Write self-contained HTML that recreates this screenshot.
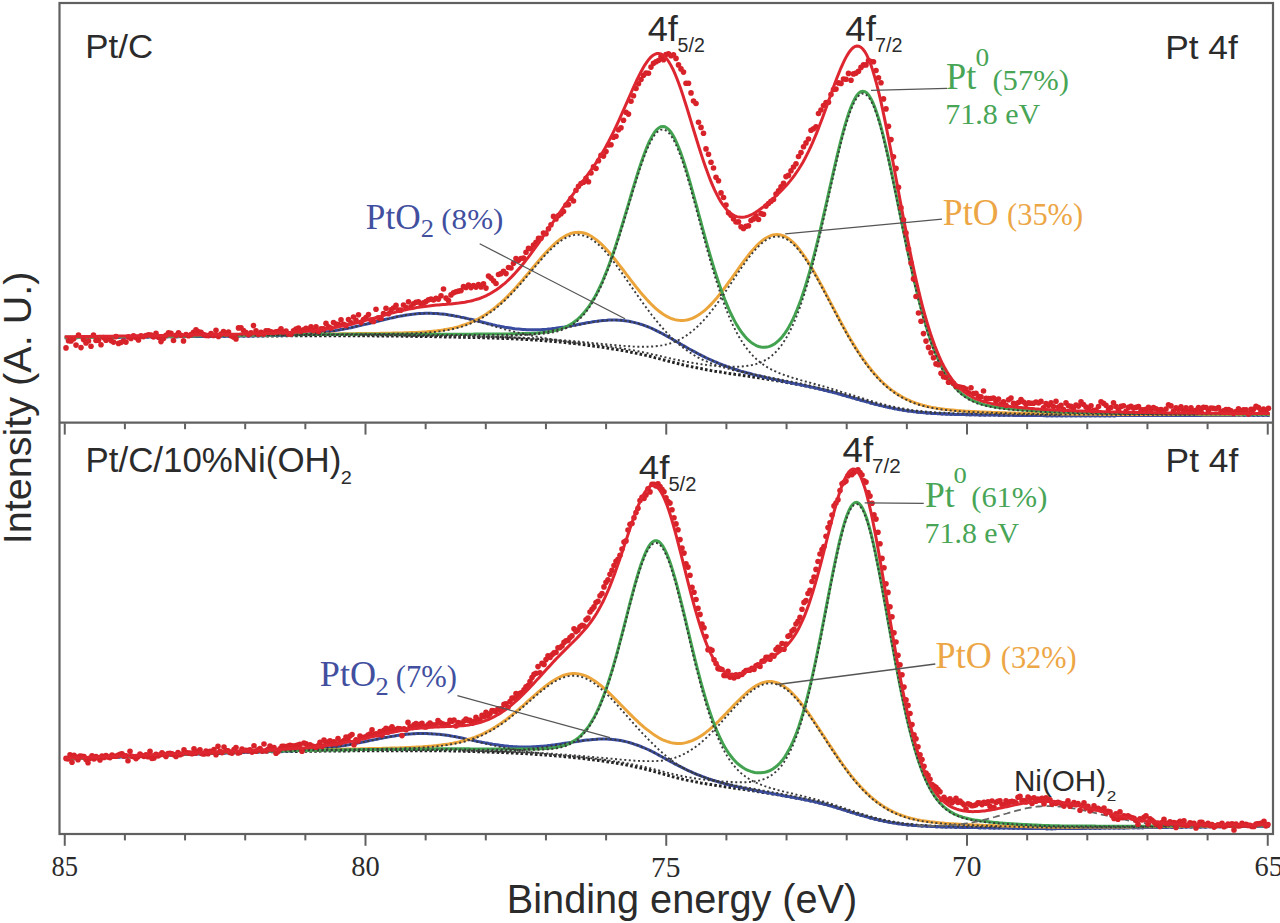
<!DOCTYPE html>
<html><head><meta charset="utf-8"><style>
html,body{margin:0;padding:0;background:#fff;overflow:hidden}
svg{display:block}
text{font-family:"Liberation Sans",sans-serif}
.s{font-family:"Liberation Serif",serif}
</style></head><body>
<svg width="1280" height="923" viewBox="0 0 1280 923">
<rect width="1280" height="923" fill="#fff"/>
<rect x="59.5" y="3" width="1213.5" height="831" fill="none" stroke="#606060" stroke-width="2.2"/>
<line x1="59.5" y1="422.7" x2="1273" y2="422.7" stroke="#606060" stroke-width="2.2"/>
<line x1="1267.75" y1="423.4" x2="1267.75" y2="434.6" stroke="#606060" stroke-width="2"/>
<line x1="1207.60" y1="423.4" x2="1207.60" y2="429.2" stroke="#606060" stroke-width="2"/>
<line x1="1147.45" y1="423.4" x2="1147.45" y2="429.2" stroke="#606060" stroke-width="2"/>
<line x1="1087.30" y1="423.4" x2="1087.30" y2="429.2" stroke="#606060" stroke-width="2"/>
<line x1="1027.15" y1="423.4" x2="1027.15" y2="429.2" stroke="#606060" stroke-width="2"/>
<line x1="967.00" y1="423.4" x2="967.00" y2="434.6" stroke="#606060" stroke-width="2"/>
<line x1="906.85" y1="423.4" x2="906.85" y2="429.2" stroke="#606060" stroke-width="2"/>
<line x1="846.70" y1="423.4" x2="846.70" y2="429.2" stroke="#606060" stroke-width="2"/>
<line x1="786.55" y1="423.4" x2="786.55" y2="429.2" stroke="#606060" stroke-width="2"/>
<line x1="726.40" y1="423.4" x2="726.40" y2="429.2" stroke="#606060" stroke-width="2"/>
<line x1="666.25" y1="423.4" x2="666.25" y2="434.6" stroke="#606060" stroke-width="2"/>
<line x1="606.10" y1="423.4" x2="606.10" y2="429.2" stroke="#606060" stroke-width="2"/>
<line x1="545.95" y1="423.4" x2="545.95" y2="429.2" stroke="#606060" stroke-width="2"/>
<line x1="485.80" y1="423.4" x2="485.80" y2="429.2" stroke="#606060" stroke-width="2"/>
<line x1="425.65" y1="423.4" x2="425.65" y2="429.2" stroke="#606060" stroke-width="2"/>
<line x1="365.50" y1="423.4" x2="365.50" y2="434.6" stroke="#606060" stroke-width="2"/>
<line x1="305.35" y1="423.4" x2="305.35" y2="429.2" stroke="#606060" stroke-width="2"/>
<line x1="245.20" y1="423.4" x2="245.20" y2="429.2" stroke="#606060" stroke-width="2"/>
<line x1="185.05" y1="423.4" x2="185.05" y2="429.2" stroke="#606060" stroke-width="2"/>
<line x1="124.90" y1="423.4" x2="124.90" y2="429.2" stroke="#606060" stroke-width="2"/>
<line x1="64.75" y1="423.4" x2="64.75" y2="434.6" stroke="#606060" stroke-width="2"/>
<line x1="1267.75" y1="834.6" x2="1267.75" y2="845.8" stroke="#606060" stroke-width="2"/>
<line x1="1207.60" y1="834.6" x2="1207.60" y2="840.4" stroke="#606060" stroke-width="2"/>
<line x1="1147.45" y1="834.6" x2="1147.45" y2="840.4" stroke="#606060" stroke-width="2"/>
<line x1="1087.30" y1="834.6" x2="1087.30" y2="840.4" stroke="#606060" stroke-width="2"/>
<line x1="1027.15" y1="834.6" x2="1027.15" y2="840.4" stroke="#606060" stroke-width="2"/>
<line x1="967.00" y1="834.6" x2="967.00" y2="845.8" stroke="#606060" stroke-width="2"/>
<line x1="906.85" y1="834.6" x2="906.85" y2="840.4" stroke="#606060" stroke-width="2"/>
<line x1="846.70" y1="834.6" x2="846.70" y2="840.4" stroke="#606060" stroke-width="2"/>
<line x1="786.55" y1="834.6" x2="786.55" y2="840.4" stroke="#606060" stroke-width="2"/>
<line x1="726.40" y1="834.6" x2="726.40" y2="840.4" stroke="#606060" stroke-width="2"/>
<line x1="666.25" y1="834.6" x2="666.25" y2="845.8" stroke="#606060" stroke-width="2"/>
<line x1="606.10" y1="834.6" x2="606.10" y2="840.4" stroke="#606060" stroke-width="2"/>
<line x1="545.95" y1="834.6" x2="545.95" y2="840.4" stroke="#606060" stroke-width="2"/>
<line x1="485.80" y1="834.6" x2="485.80" y2="840.4" stroke="#606060" stroke-width="2"/>
<line x1="425.65" y1="834.6" x2="425.65" y2="840.4" stroke="#606060" stroke-width="2"/>
<line x1="365.50" y1="834.6" x2="365.50" y2="845.8" stroke="#606060" stroke-width="2"/>
<line x1="305.35" y1="834.6" x2="305.35" y2="840.4" stroke="#606060" stroke-width="2"/>
<line x1="245.20" y1="834.6" x2="245.20" y2="840.4" stroke="#606060" stroke-width="2"/>
<line x1="185.05" y1="834.6" x2="185.05" y2="840.4" stroke="#606060" stroke-width="2"/>
<line x1="124.90" y1="834.6" x2="124.90" y2="840.4" stroke="#606060" stroke-width="2"/>
<line x1="64.75" y1="834.6" x2="64.75" y2="845.8" stroke="#606060" stroke-width="2"/>
<path d="M64.8,337.8 L66.8,337.8 L68.8,337.7 L70.8,337.7 L72.8,337.7 L74.8,337.7 L76.8,337.7 L78.8,337.6 L80.8,337.6 L82.8,337.6 L84.8,337.6 L86.8,337.6 L88.8,337.5 L90.8,337.5 L92.8,337.5 L94.8,337.5 L96.8,337.5 L98.8,337.4 L100.8,337.4 L102.8,337.4 L104.8,337.4 L106.8,337.4 L108.8,337.3 L110.8,337.3 L112.8,337.3 L114.8,337.3 L116.8,337.3 L118.8,337.2 L120.8,337.2 L122.8,337.2 L124.8,337.2 L126.8,337.2 L128.8,337.1 L130.8,337.1 L132.8,337.1 L134.8,337.1 L136.8,337.1 L138.8,337.0 L140.8,337.0 L142.8,337.0 L144.8,337.0 L146.8,337.0 L148.8,336.9 L150.8,336.9 L152.8,336.9 L154.8,336.9 L156.8,336.9 L158.8,336.8 L160.8,336.8 L162.8,336.8 L164.8,336.8 L166.8,336.8 L168.8,336.8 L170.8,336.7 L172.8,336.7 L174.8,336.7 L176.8,336.7 L178.8,336.7 L180.8,336.6 L182.8,336.6 L184.8,336.6 L186.8,336.6 L188.8,336.6 L190.8,336.5 L192.8,336.5 L194.8,336.5 L196.8,336.5 L198.8,336.5 L200.8,336.4 L202.8,336.4 L204.8,336.4 L206.8,336.4 L208.8,336.4 L210.8,336.4 L212.8,336.3 L214.8,336.3 L216.8,336.3 L218.8,336.3 L220.8,336.3 L222.8,336.2 L224.8,336.2 L226.8,336.2 L228.8,336.2 L230.8,336.2 L232.8,336.1 L234.8,336.1 L236.8,336.1 L238.8,336.1 L240.8,336.1 L242.8,336.1 L244.8,336.0 L246.8,336.0 L248.8,336.0 L250.8,336.0 L252.8,336.0 L254.8,336.0 L256.8,336.0 L258.8,335.9 L260.8,335.9 L262.8,335.9 L264.8,335.9 L266.8,335.9 L268.8,335.9 L270.8,335.9 L272.8,335.9 L274.8,335.9 L276.8,335.9 L278.8,335.9 L280.8,335.9 L282.8,335.8 L284.8,335.8 L286.8,335.8 L288.8,335.8 L290.8,335.8 L292.8,335.8 L294.8,335.8 L296.8,335.8 L298.8,335.8 L300.8,335.8 L302.8,335.8 L304.8,335.8 L306.8,335.8 L308.8,335.7 L310.8,335.7 L312.8,335.7 L314.8,335.7 L316.8,335.7 L318.8,335.7 L320.8,335.7 L322.8,335.7 L324.8,335.7 L326.8,335.7 L328.8,335.7 L330.8,335.7 L332.8,335.7 L334.8,335.7 L336.8,335.7 L338.8,335.7 L340.8,335.7 L342.8,335.7 L344.8,335.7 L346.8,335.7 L348.8,335.7 L350.8,335.7 L352.8,335.7 L354.8,335.7 L356.8,335.7 L358.8,335.8 L360.8,335.8 L362.8,335.8 L364.8,335.8 L366.8,335.8 L368.8,335.8 L370.8,335.8 L372.8,335.8 L374.8,335.9 L376.8,335.9 L378.8,335.9 L380.8,335.9 L382.8,335.9 L384.8,335.9 L386.8,336.0 L388.8,336.0 L390.8,336.0 L392.8,336.0 L394.8,336.0 L396.8,336.1 L398.8,336.1 L400.8,336.1 L402.8,336.2 L404.8,336.2 L406.8,336.2 L408.8,336.2 L410.8,336.3 L412.8,336.3 L414.8,336.3 L416.8,336.4 L418.8,336.4 L420.8,336.4 L422.8,336.5 L424.8,336.5 L426.8,336.5 L428.8,336.6 L430.8,336.6 L432.8,336.6 L434.8,336.7 L436.8,336.7 L438.8,336.8 L440.8,336.8 L442.8,336.8 L444.8,336.9 L446.8,336.9 L448.8,336.9 L450.8,337.0 L452.8,337.0 L454.8,337.1 L456.8,337.1 L458.8,337.2 L460.8,337.2 L462.8,337.2 L464.8,337.3 L466.8,337.3 L468.8,337.4 L470.8,337.4 L472.8,337.5 L474.8,337.5 L476.8,337.6 L478.8,337.6 L480.8,337.7 L482.8,337.7 L484.8,337.8 L486.8,337.8 L488.8,337.9 L490.8,338.0 L492.8,338.0 L494.8,338.1 L496.8,338.2 L498.8,338.2 L500.8,338.3 L502.8,338.4 L504.8,338.4 L506.8,338.5 L508.8,338.6 L510.8,338.7 L512.8,338.8 L514.8,338.9 L516.8,339.0 L518.8,339.1 L520.8,339.2 L522.8,339.3 L524.8,339.4 L526.8,339.5 L528.8,339.6 L530.8,339.7 L532.8,339.9 L534.8,340.0 L536.8,340.1 L538.8,340.3 L540.8,340.4 L542.8,340.6 L544.8,340.7 L546.8,340.9 L548.8,341.0 L550.8,341.2 L552.8,341.4 L554.8,341.6 L556.8,341.8 L558.8,341.9 L560.8,342.1 L562.8,342.3 L564.8,342.5 L566.8,342.8 L568.8,343.0 L570.8,343.2 L572.8,343.4 L574.8,343.6 L576.8,343.9 L578.8,344.1 L580.8,344.3 L582.8,344.6 L584.8,344.8 L586.8,345.1 L588.8,345.4 L590.8,345.6 L592.8,345.9 L594.8,346.2 L596.8,346.4 L598.8,346.7 L600.8,347.0 L602.8,347.3 L604.8,347.6 L606.8,347.9 L608.8,348.2 L610.8,348.6 L612.8,348.9 L614.8,349.2 L616.8,349.6 L618.8,349.9 L620.8,350.3 L622.8,350.6 L624.8,351.0 L626.8,351.4 L628.8,351.8 L630.8,352.2 L632.8,352.6 L634.8,353.0 L636.8,353.4 L638.8,353.8 L640.8,354.3 L642.8,354.7 L644.8,355.1 L646.8,355.6 L648.8,356.0 L650.8,356.5 L652.8,357.0 L654.8,357.6 L656.8,358.1 L658.8,358.6 L660.8,359.2 L662.8,359.7 L664.8,360.2 L666.8,360.7 L668.8,361.3 L670.8,361.8 L672.8,362.3 L674.8,362.8 L676.8,363.3 L678.8,363.8 L680.8,364.3 L682.8,364.8 L684.8,365.2 L686.8,365.7 L688.8,366.1 L690.8,366.6 L692.8,367.0 L694.8,367.4 L696.8,367.8 L698.8,368.3 L700.8,368.6 L702.8,369.0 L704.8,369.4 L706.8,369.8 L708.8,370.1 L710.8,370.5 L712.8,370.8 L714.8,371.2 L716.8,371.5 L718.8,371.8 L720.8,372.1 L722.8,372.4 L724.8,372.8 L726.8,373.1 L728.8,373.4 L730.8,373.7 L732.8,374.0 L734.8,374.3 L736.8,374.5 L738.8,374.8 L740.8,375.1 L742.8,375.4 L744.8,375.7 L746.8,376.0 L748.8,376.3 L750.8,376.6 L752.8,376.9 L754.8,377.2 L756.8,377.5 L758.8,377.8 L760.8,378.2 L762.8,378.5 L764.8,378.8 L766.8,379.1 L768.8,379.4 L770.8,379.7 L772.8,380.1 L774.8,380.4 L776.8,380.7 L778.8,381.1 L780.8,381.4 L782.8,381.8 L784.8,382.1 L786.8,382.5 L788.8,382.8 L790.8,383.2 L792.8,383.6 L794.8,383.9 L796.8,384.3 L798.8,384.7 L800.8,385.1 L802.8,385.5 L804.8,385.9 L806.8,386.3 L808.8,386.7 L810.8,387.1 L812.8,387.6 L814.8,388.0 L816.8,388.4 L818.8,388.9 L820.8,389.3 L822.8,389.8 L824.8,390.3 L826.8,390.8 L828.8,391.3 L830.8,391.8 L832.8,392.3 L834.8,392.8 L836.8,393.4 L838.8,393.9 L840.8,394.5 L842.8,395.0 L844.8,395.6 L846.8,396.2 L848.8,396.8 L850.8,397.4 L852.8,397.9 L854.8,398.5 L856.8,399.0 L858.8,399.6 L860.8,400.2 L862.8,400.8 L864.8,401.3 L866.8,401.9 L868.8,402.4 L870.8,403.0 L872.8,403.5 L874.8,404.1 L876.8,404.6 L878.8,405.1 L880.8,405.6 L882.8,406.1 L884.8,406.6 L886.8,407.0 L888.8,407.5 L890.8,407.9 L892.8,408.3 L894.8,408.7 L896.8,409.1 L898.8,409.5 L900.8,409.8 L902.8,410.1 L904.8,410.5 L906.8,410.8 L908.8,411.0 L910.8,411.3 L912.8,411.6 L914.8,411.8 L916.8,412.0 L918.8,412.2 L920.8,412.4 L922.8,412.6 L924.8,412.8 L926.8,413.0 L928.8,413.1 L930.8,413.3 L932.8,413.4 L934.8,413.5 L936.8,413.6 L938.8,413.7 L940.8,413.8 L942.8,413.9 L944.8,414.0 L946.8,414.1 L948.8,414.2 L950.8,414.2 L952.8,414.3 L954.8,414.4 L956.8,414.4 L958.8,414.5 L960.8,414.5 L962.8,414.6 L964.8,414.6 L966.8,414.7 L968.8,414.7 L970.8,414.7 L972.8,414.8 L974.8,414.8 L976.8,414.8 L978.8,414.9 L980.8,414.9 L982.8,414.9 L984.8,415.0 L986.8,415.0 L988.8,415.0 L990.8,415.1 L992.8,415.1 L994.8,415.1 L996.8,415.1 L998.8,415.2 L1000.8,415.2 L1002.8,415.2 L1004.8,415.2 L1006.8,415.3 L1008.8,415.3 L1010.8,415.3 L1012.8,415.3 L1014.8,415.4 L1016.8,415.4 L1018.8,415.4 L1020.8,415.4 L1022.8,415.4 L1024.8,415.5 L1026.8,415.5 L1028.8,415.5 L1030.8,415.5 L1032.8,415.5 L1034.8,415.6 L1036.8,415.6 L1038.8,415.6 L1040.8,415.6 L1042.8,415.6 L1044.8,415.7 L1046.8,415.7 L1048.8,415.7 L1050.8,415.7 L1052.8,415.7 L1054.8,415.7 L1056.8,415.7 L1058.8,415.7 L1060.8,415.7 L1062.8,415.7 L1064.8,415.7 L1066.8,415.7 L1068.8,415.7 L1070.8,415.7 L1072.8,415.7 L1074.8,415.7 L1076.8,415.7 L1078.8,415.7 L1080.8,415.7 L1082.8,415.7 L1084.8,415.7 L1086.8,415.7 L1088.8,415.7 L1090.8,415.7 L1092.8,415.7 L1094.8,415.7 L1096.8,415.7 L1098.8,415.7 L1100.8,415.7 L1102.8,415.7 L1104.8,415.7 L1106.8,415.7 L1108.8,415.7 L1110.8,415.7 L1112.8,415.7 L1114.8,415.7 L1116.8,415.6 L1118.8,415.6 L1120.8,415.6 L1122.8,415.6 L1124.8,415.6 L1126.8,415.6 L1128.8,415.6 L1130.8,415.6 L1132.8,415.6 L1134.8,415.6 L1136.8,415.6 L1138.8,415.6 L1140.8,415.6 L1142.8,415.6 L1144.8,415.6 L1146.8,415.6 L1148.8,415.6 L1150.8,415.6 L1152.8,415.6 L1154.8,415.6 L1156.8,415.6 L1158.8,415.6 L1160.8,415.6 L1162.8,415.6 L1164.8,415.5 L1166.8,415.5 L1168.8,415.5 L1170.8,415.5 L1172.8,415.5 L1174.8,415.5 L1176.8,415.5 L1178.8,415.5 L1180.8,415.5 L1182.8,415.5 L1184.8,415.5 L1186.8,415.5 L1188.8,415.5 L1190.8,415.5 L1192.8,415.5 L1194.8,415.5 L1196.8,415.5 L1198.8,415.5 L1200.8,415.5 L1202.8,415.4 L1204.8,415.4 L1206.8,415.4 L1208.8,415.4 L1210.8,415.4 L1212.8,415.4 L1214.8,415.4 L1216.8,415.4 L1218.8,415.4 L1220.8,415.4 L1222.8,415.4 L1224.8,415.4 L1226.8,415.4 L1228.8,415.4 L1230.8,415.4 L1232.8,415.4 L1234.8,415.4 L1236.8,415.3 L1238.8,415.3 L1240.8,415.3 L1242.8,415.3 L1244.8,415.3 L1246.8,415.3 L1248.8,415.3 L1250.8,415.3 L1252.8,415.3 L1254.8,415.3 L1256.8,415.3 L1258.8,415.3 L1260.8,415.3 L1262.8,415.3 L1264.8,415.3 L1266.8,415.2 L1268.8,415.2 L1269.8,415.2" stroke="#222" stroke-width="3" stroke-dasharray="2.6,2.2" fill="none"/>
<path d="M64.8,337.8 L66.8,337.8 L68.8,337.7 L70.8,337.7 L72.8,337.7 L74.8,337.7 L76.8,337.7 L78.8,337.6 L80.8,337.6 L82.8,337.6 L84.8,337.6 L86.8,337.6 L88.8,337.5 L90.8,337.5 L92.8,337.5 L94.8,337.5 L96.8,337.5 L98.8,337.4 L100.8,337.4 L102.8,337.4 L104.8,337.4 L106.8,337.4 L108.8,337.3 L110.8,337.3 L112.8,337.3 L114.8,337.3 L116.8,337.3 L118.8,337.2 L120.8,337.2 L122.8,337.2 L124.8,337.2 L126.8,337.2 L128.8,337.1 L130.8,337.1 L132.8,337.1 L134.8,337.1 L136.8,337.1 L138.8,337.0 L140.8,337.0 L142.8,337.0 L144.8,337.0 L146.8,337.0 L148.8,336.9 L150.8,336.9 L152.8,336.9 L154.8,336.9 L156.8,336.9 L158.8,336.8 L160.8,336.8 L162.8,336.8 L164.8,336.8 L166.8,336.8 L168.8,336.8 L170.8,336.7 L172.8,336.7 L174.8,336.7 L176.8,336.7 L178.8,336.7 L180.8,336.6 L182.8,336.6 L184.8,336.6 L186.8,336.6 L188.8,336.6 L190.8,336.5 L192.8,336.5 L194.8,336.5 L196.8,336.5 L198.8,336.5 L200.8,336.4 L202.8,336.4 L204.8,336.4 L206.8,336.4 L208.8,336.4 L210.8,336.3 L212.8,336.3 L214.8,336.3 L216.8,336.3 L218.8,336.3 L220.8,336.2 L222.8,336.2 L224.8,336.2 L226.8,336.2 L228.8,336.2 L230.8,336.1 L232.8,336.1 L234.8,336.1 L236.8,336.1 L238.8,336.0 L240.8,336.0 L242.8,336.0 L244.8,336.0 L246.8,335.9 L248.8,335.9 L250.8,335.9 L252.8,335.9 L254.8,335.8 L256.8,335.8 L258.8,335.8 L260.8,335.8 L262.8,335.7 L264.8,335.7 L266.8,335.6 L268.8,335.6 L270.8,335.6 L272.8,335.5 L274.8,335.5 L276.8,335.4 L278.8,335.4 L280.8,335.3 L282.8,335.2 L284.8,335.2 L286.8,335.1 L288.8,335.0 L290.8,334.9 L292.8,334.8 L294.8,334.7 L296.8,334.6 L298.8,334.5 L300.8,334.4 L302.8,334.2 L304.8,334.1 L306.8,333.9 L308.8,333.8 L310.8,333.6 L312.8,333.4 L314.8,333.2 L316.8,333.0 L318.8,332.8 L320.8,332.6 L322.8,332.4 L324.8,332.1 L326.8,331.8 L328.8,331.6 L330.8,331.3 L332.8,331.0 L334.8,330.7 L336.8,330.3 L338.8,330.0 L340.8,329.6 L342.8,329.3 L344.8,328.9 L346.8,328.5 L348.8,328.1 L350.8,327.7 L352.8,327.2 L354.8,326.8 L356.8,326.3 L358.8,325.9 L360.8,325.4 L362.8,324.9 L364.8,324.4 L366.8,324.0 L368.8,323.5 L370.8,323.0 L372.8,322.5 L374.8,322.0 L376.8,321.5 L378.8,321.0 L380.8,320.5 L382.8,320.0 L384.8,319.5 L386.8,319.0 L388.8,318.6 L390.8,318.1 L392.8,317.7 L394.8,317.2 L396.8,316.8 L398.8,316.4 L400.8,316.0 L402.8,315.7 L404.8,315.3 L406.8,315.0 L408.8,314.7 L410.8,314.4 L412.8,314.2 L414.8,314.0 L416.8,313.8 L418.8,313.6 L420.8,313.5 L422.8,313.4 L424.8,313.3 L426.8,313.3 L428.8,313.3 L430.8,313.3 L432.8,313.4 L434.8,313.5 L436.8,313.6 L438.8,313.7 L440.8,313.9 L442.8,314.1 L444.8,314.3 L446.8,314.6 L448.8,314.9 L450.8,315.2 L452.8,315.5 L454.8,315.9 L456.8,316.2 L458.8,316.6 L460.8,317.1 L462.8,317.5 L464.8,317.9 L466.8,318.4 L468.8,318.9 L470.8,319.3 L472.8,319.8 L474.8,320.3 L476.8,320.8 L478.8,321.3 L480.8,321.8 L482.8,322.3 L484.8,322.8 L486.8,323.3 L488.8,323.8 L490.8,324.2 L492.8,324.7 L494.8,325.1 L496.8,325.6 L498.8,326.0 L500.8,326.4 L502.8,326.8 L504.8,327.2 L506.8,327.5 L508.8,327.8 L510.8,328.1 L512.8,328.4 L514.8,328.7 L516.8,328.9 L518.8,329.1 L520.8,329.3 L522.8,329.5 L524.8,329.6 L526.8,329.7 L528.8,329.8 L530.8,329.8 L532.8,329.8 L534.8,329.8 L536.8,329.8 L538.8,329.7 L540.8,329.7 L542.8,329.5 L544.8,329.4 L546.8,329.3 L548.8,329.1 L550.8,328.9 L552.8,328.6 L554.8,328.4 L556.8,328.1 L558.8,327.8 L560.8,327.5 L562.8,327.2 L564.8,326.9 L566.8,326.5 L568.8,326.2 L570.8,325.8 L572.8,325.4 L574.8,325.1 L576.8,324.7 L578.8,324.3 L580.8,323.9 L582.8,323.6 L584.8,323.2 L586.8,322.8 L588.8,322.5 L590.8,322.2 L592.8,321.8 L594.8,321.5 L596.8,321.3 L598.8,321.0 L600.8,320.8 L602.8,320.6 L604.8,320.4 L606.8,320.3 L608.8,320.1 L610.8,320.1 L612.8,320.0 L614.8,320.0 L616.8,320.1 L618.8,320.2 L620.8,320.3 L622.8,320.5 L624.8,320.7 L626.8,321.0 L628.8,321.3 L630.8,321.7 L632.8,322.1 L634.8,322.6 L636.8,323.1 L638.8,323.6 L640.8,324.3 L642.8,324.9 L644.8,325.6 L646.8,326.3 L648.8,327.1 L650.8,328.0 L652.8,328.9 L654.8,329.8 L656.8,330.8 L658.8,331.8 L660.8,332.8 L662.8,333.9 L664.8,335.0 L666.8,336.1 L668.8,337.2 L670.8,338.3 L672.8,339.5 L674.8,340.6 L676.8,341.8 L678.8,342.9 L680.8,344.1 L682.8,345.2 L684.8,346.4 L686.8,347.5 L688.8,348.7 L690.8,349.8 L692.8,350.9 L694.8,351.9 L696.8,353.0 L698.8,354.1 L700.8,355.1 L702.8,356.1 L704.8,357.1 L706.8,358.1 L708.8,359.0 L710.8,359.9 L712.8,360.8 L714.8,361.7 L716.8,362.5 L718.8,363.4 L720.8,364.2 L722.8,365.0 L724.8,365.7 L726.8,366.5 L728.8,367.2 L730.8,367.9 L732.8,368.5 L734.8,369.2 L736.8,369.8 L738.8,370.5 L740.8,371.1 L742.8,371.6 L744.8,372.2 L746.8,372.8 L748.8,373.3 L750.8,373.8 L752.8,374.4 L754.8,374.9 L756.8,375.4 L758.8,375.8 L760.8,376.3 L762.8,376.8 L764.8,377.2 L766.8,377.7 L768.8,378.1 L770.8,378.6 L772.8,379.0 L774.8,379.4 L776.8,379.9 L778.8,380.3 L780.8,380.7 L782.8,381.1 L784.8,381.5 L786.8,382.0 L788.8,382.4 L790.8,382.8 L792.8,383.2 L794.8,383.6 L796.8,384.0 L798.8,384.4 L800.8,384.8 L802.8,385.3 L804.8,385.7 L806.8,386.1 L808.8,386.5 L810.8,387.0 L812.8,387.4 L814.8,387.9 L816.8,388.3 L818.8,388.8 L820.8,389.3 L822.8,389.7 L824.8,390.2 L826.8,390.7 L828.8,391.2 L830.8,391.8 L832.8,392.3 L834.8,392.8 L836.8,393.3 L838.8,393.9 L840.8,394.5 L842.8,395.0 L844.8,395.6 L846.8,396.2 L848.8,396.8 L850.8,397.3 L852.8,397.9 L854.8,398.5 L856.8,399.0 L858.8,399.6 L860.8,400.2 L862.8,400.8 L864.8,401.3 L866.8,401.9 L868.8,402.4 L870.8,403.0 L872.8,403.5 L874.8,404.1 L876.8,404.6 L878.8,405.1 L880.8,405.6 L882.8,406.1 L884.8,406.6 L886.8,407.0 L888.8,407.5 L890.8,407.9 L892.8,408.3 L894.8,408.7 L896.8,409.1 L898.8,409.5 L900.8,409.8 L902.8,410.1 L904.8,410.5 L906.8,410.8 L908.8,411.0 L910.8,411.3 L912.8,411.6 L914.8,411.8 L916.8,412.0 L918.8,412.2 L920.8,412.4 L922.8,412.6 L924.8,412.8 L926.8,413.0 L928.8,413.1 L930.8,413.3 L932.8,413.4 L934.8,413.5 L936.8,413.6 L938.8,413.7 L940.8,413.8 L942.8,413.9 L944.8,414.0 L946.8,414.1 L948.8,414.2 L950.8,414.2 L952.8,414.3 L954.8,414.4 L956.8,414.4 L958.8,414.5 L960.8,414.5 L962.8,414.6 L964.8,414.6 L966.8,414.7 L968.8,414.7 L970.8,414.7 L972.8,414.8 L974.8,414.8 L976.8,414.8 L978.8,414.9 L980.8,414.9 L982.8,414.9 L984.8,415.0 L986.8,415.0 L988.8,415.0 L990.8,415.1 L992.8,415.1 L994.8,415.1 L996.8,415.1 L998.8,415.2 L1000.8,415.2 L1002.8,415.2 L1004.8,415.2 L1006.8,415.3 L1008.8,415.3 L1010.8,415.3 L1012.8,415.3 L1014.8,415.4 L1016.8,415.4 L1018.8,415.4 L1020.8,415.4 L1022.8,415.4 L1024.8,415.5 L1026.8,415.5 L1028.8,415.5 L1030.8,415.5 L1032.8,415.5 L1034.8,415.6 L1036.8,415.6 L1038.8,415.6 L1040.8,415.6 L1042.8,415.6 L1044.8,415.7 L1046.8,415.7 L1048.8,415.7 L1050.8,415.7 L1052.8,415.7 L1054.8,415.7 L1056.8,415.7 L1058.8,415.7 L1060.8,415.7 L1062.8,415.7 L1064.8,415.7 L1066.8,415.7 L1068.8,415.7 L1070.8,415.7 L1072.8,415.7 L1074.8,415.7 L1076.8,415.7 L1078.8,415.7 L1080.8,415.7 L1082.8,415.7 L1084.8,415.7 L1086.8,415.7 L1088.8,415.7 L1090.8,415.7 L1092.8,415.7 L1094.8,415.7 L1096.8,415.7 L1098.8,415.7 L1100.8,415.7 L1102.8,415.7 L1104.8,415.7 L1106.8,415.7 L1108.8,415.7 L1110.8,415.7 L1112.8,415.7 L1114.8,415.7 L1116.8,415.6 L1118.8,415.6 L1120.8,415.6 L1122.8,415.6 L1124.8,415.6 L1126.8,415.6 L1128.8,415.6 L1130.8,415.6 L1132.8,415.6 L1134.8,415.6 L1136.8,415.6 L1138.8,415.6 L1140.8,415.6 L1142.8,415.6 L1144.8,415.6 L1146.8,415.6 L1148.8,415.6 L1150.8,415.6 L1152.8,415.6 L1154.8,415.6 L1156.8,415.6 L1158.8,415.6 L1160.8,415.6 L1162.8,415.6 L1164.8,415.5 L1166.8,415.5 L1168.8,415.5 L1170.8,415.5 L1172.8,415.5 L1174.8,415.5 L1176.8,415.5 L1178.8,415.5 L1180.8,415.5 L1182.8,415.5 L1184.8,415.5 L1186.8,415.5 L1188.8,415.5 L1190.8,415.5 L1192.8,415.5 L1194.8,415.5 L1196.8,415.5 L1198.8,415.5 L1200.8,415.5 L1202.8,415.4 L1204.8,415.4 L1206.8,415.4 L1208.8,415.4 L1210.8,415.4 L1212.8,415.4 L1214.8,415.4 L1216.8,415.4 L1218.8,415.4 L1220.8,415.4 L1222.8,415.4 L1224.8,415.4 L1226.8,415.4 L1228.8,415.4 L1230.8,415.4 L1232.8,415.4 L1234.8,415.4 L1236.8,415.3 L1238.8,415.3 L1240.8,415.3 L1242.8,415.3 L1244.8,415.3 L1246.8,415.3 L1248.8,415.3 L1250.8,415.3 L1252.8,415.3 L1254.8,415.3 L1256.8,415.3 L1258.8,415.3 L1260.8,415.3 L1262.8,415.3 L1264.8,415.3 L1266.8,415.2 L1268.8,415.2 L1269.8,415.2" stroke="#3a4ca0" stroke-width="3" fill="none"/>
<path d="M64.8,337.3 L66.8,337.2 L68.8,337.2 L70.8,337.2 L72.8,337.2 L74.8,337.1 L76.8,337.1 L78.8,337.1 L80.8,337.1 L82.8,337.1 L84.8,337.0 L86.8,337.0 L88.8,337.0 L90.8,337.0 L92.8,336.9 L94.8,336.9 L96.8,336.9 L98.8,336.9 L100.8,336.8 L102.8,336.8 L104.8,336.8 L106.8,336.8 L108.8,336.7 L110.8,336.7 L112.8,336.7 L114.8,336.7 L116.8,336.6 L118.8,336.6 L120.8,336.6 L122.8,336.6 L124.8,336.5 L126.8,336.5 L128.8,336.5 L130.8,336.5 L132.8,336.4 L134.8,336.4 L136.8,336.4 L138.8,336.4 L140.8,336.4 L142.8,336.3 L144.8,336.3 L146.8,336.3 L148.8,336.3 L150.8,336.2 L152.8,336.2 L154.8,336.2 L156.8,336.2 L158.8,336.1 L160.8,336.1 L162.8,336.1 L164.8,336.1 L166.8,336.0 L168.8,336.0 L170.8,336.0 L172.8,335.9 L174.8,335.9 L176.8,335.9 L178.8,335.9 L180.8,335.8 L182.8,335.8 L184.8,335.8 L186.8,335.8 L188.8,335.7 L190.8,335.7 L192.8,335.7 L194.8,335.7 L196.8,335.6 L198.8,335.6 L200.8,335.6 L202.8,335.6 L204.8,335.5 L206.8,335.5 L208.8,335.5 L210.8,335.4 L212.8,335.4 L214.8,335.4 L216.8,335.4 L218.8,335.3 L220.8,335.3 L222.8,335.3 L224.8,335.3 L226.8,335.2 L228.8,335.2 L230.8,335.2 L232.8,335.1 L234.8,335.1 L236.8,335.1 L238.8,335.1 L240.8,335.0 L242.8,335.0 L244.8,335.0 L246.8,334.9 L248.8,334.9 L250.8,334.9 L252.8,334.9 L254.8,334.8 L256.8,334.8 L258.8,334.8 L260.8,334.8 L262.8,334.8 L264.8,334.7 L266.8,334.7 L268.8,334.7 L270.8,334.7 L272.8,334.6 L274.8,334.6 L276.8,334.6 L278.8,334.6 L280.8,334.6 L282.8,334.5 L284.8,334.5 L286.8,334.5 L288.8,334.5 L290.8,334.4 L292.8,334.4 L294.8,334.4 L296.8,334.4 L298.8,334.3 L300.8,334.3 L302.8,334.3 L304.8,334.3 L306.8,334.3 L308.8,334.2 L310.8,334.2 L312.8,334.2 L314.8,334.2 L316.8,334.1 L318.8,334.1 L320.8,334.1 L322.8,334.1 L324.8,334.0 L326.8,334.0 L328.8,334.0 L330.8,334.0 L332.8,333.9 L334.8,333.9 L336.8,333.9 L338.8,333.9 L340.8,333.8 L342.8,333.8 L344.8,333.8 L346.8,333.8 L348.8,333.7 L350.8,333.7 L352.8,333.7 L354.8,333.7 L356.8,333.6 L358.8,333.6 L360.8,333.6 L362.8,333.6 L364.8,333.5 L366.8,333.5 L368.8,333.5 L370.8,333.5 L372.8,333.4 L374.8,333.4 L376.8,333.4 L378.8,333.4 L380.8,333.3 L382.8,333.3 L384.8,333.3 L386.8,333.2 L388.8,333.2 L390.8,333.2 L392.8,333.1 L394.8,333.1 L396.8,333.0 L398.8,333.0 L400.8,333.0 L402.8,332.9 L404.8,332.8 L406.8,332.8 L408.8,332.7 L410.8,332.6 L412.8,332.6 L414.8,332.5 L416.8,332.4 L418.8,332.3 L420.8,332.2 L422.8,332.0 L424.8,331.9 L426.8,331.8 L428.8,331.6 L430.8,331.4 L432.8,331.2 L434.8,331.0 L436.8,330.8 L438.8,330.5 L440.8,330.3 L442.8,330.0 L444.8,329.6 L446.8,329.3 L448.8,328.9 L450.8,328.5 L452.8,328.1 L454.8,327.6 L456.8,327.1 L458.8,326.6 L460.8,326.0 L462.8,325.3 L464.8,324.7 L466.8,323.9 L468.8,323.2 L470.8,322.3 L472.8,321.5 L474.8,320.5 L476.8,319.5 L478.8,318.5 L480.8,317.4 L482.8,316.2 L484.8,315.0 L486.8,313.7 L488.8,312.3 L490.8,310.9 L492.8,309.4 L494.8,307.8 L496.8,306.2 L498.8,304.5 L500.8,302.8 L502.8,300.9 L504.8,299.1 L506.8,297.1 L508.8,295.1 L510.8,293.0 L512.8,290.9 L514.8,288.8 L516.8,286.6 L518.8,284.3 L520.8,282.0 L522.8,279.7 L524.8,277.3 L526.8,275.0 L528.8,272.6 L530.8,270.2 L532.8,267.8 L534.8,265.4 L536.8,263.0 L538.8,260.7 L540.8,258.3 L542.8,256.1 L544.8,253.8 L546.8,251.6 L548.8,249.5 L550.8,247.5 L552.8,245.6 L554.8,243.7 L556.8,242.0 L558.8,240.3 L560.8,238.8 L562.8,237.5 L564.8,236.3 L566.8,235.2 L568.8,234.3 L570.8,233.5 L572.8,233.0 L574.8,232.6 L576.8,232.4 L578.8,232.3 L580.8,232.5 L582.8,232.8 L584.8,233.3 L586.8,234.0 L588.8,234.9 L590.8,236.0 L592.8,237.2 L594.8,238.6 L596.8,240.1 L598.8,241.8 L600.8,243.6 L602.8,245.5 L604.8,247.6 L606.8,249.7 L608.8,252.0 L610.8,254.3 L612.8,256.7 L614.8,259.2 L616.8,261.7 L618.8,264.3 L620.8,266.9 L622.8,269.5 L624.8,272.2 L626.8,274.8 L628.8,277.4 L630.8,280.1 L632.8,282.7 L634.8,285.2 L636.8,287.8 L638.8,290.2 L640.8,292.7 L642.8,295.0 L644.8,297.3 L646.8,299.5 L648.8,301.6 L650.8,303.7 L652.8,305.7 L654.8,307.6 L656.8,309.3 L658.8,311.0 L660.8,312.5 L662.8,314.0 L664.8,315.2 L666.8,316.4 L668.8,317.4 L670.8,318.3 L672.8,319.0 L674.8,319.6 L676.8,320.0 L678.8,320.3 L680.8,320.5 L682.8,320.5 L684.8,320.3 L686.8,320.0 L688.8,319.5 L690.8,318.8 L692.8,318.1 L694.8,317.1 L696.8,316.0 L698.8,314.8 L700.8,313.4 L702.8,311.9 L704.8,310.3 L706.8,308.5 L708.8,306.6 L710.8,304.6 L712.8,302.5 L714.8,300.2 L716.8,297.9 L718.8,295.5 L720.8,292.9 L722.8,290.4 L724.8,287.7 L726.8,285.0 L728.8,282.2 L730.8,279.5 L732.8,276.6 L734.8,273.8 L736.8,271.0 L738.8,268.2 L740.8,265.4 L742.8,262.6 L744.8,259.9 L746.8,257.3 L748.8,254.7 L750.8,252.3 L752.8,249.9 L754.8,247.7 L756.8,245.6 L758.8,243.6 L760.8,241.8 L762.8,240.2 L764.8,238.7 L766.8,237.5 L768.8,236.5 L770.8,235.6 L772.8,235.0 L774.8,234.7 L776.8,234.5 L778.8,234.7 L780.8,235.0 L782.8,235.6 L784.8,236.4 L786.8,237.5 L788.8,238.8 L790.8,240.4 L792.8,242.1 L794.8,244.1 L796.8,246.3 L798.8,248.7 L800.8,251.2 L802.8,254.0 L804.8,256.8 L806.8,259.9 L808.8,263.0 L810.8,266.3 L812.8,269.7 L814.8,273.2 L816.8,276.8 L818.8,280.4 L820.8,284.1 L822.8,287.8 L824.8,291.6 L826.8,295.4 L828.8,299.3 L830.8,303.1 L832.8,306.9 L834.8,310.7 L836.8,314.5 L838.8,318.3 L840.8,322.0 L842.8,325.7 L844.8,329.3 L846.8,332.9 L848.8,336.4 L850.8,339.8 L852.8,343.1 L854.8,346.4 L856.8,349.6 L858.8,352.7 L860.8,355.7 L862.8,358.6 L864.8,361.4 L866.8,364.1 L868.8,366.8 L870.8,369.3 L872.8,371.7 L874.8,374.1 L876.8,376.3 L878.8,378.5 L880.8,380.5 L882.8,382.5 L884.8,384.3 L886.8,386.1 L888.8,387.8 L890.8,389.4 L892.8,390.9 L894.8,392.3 L896.8,393.7 L898.8,394.9 L900.8,396.1 L902.8,397.2 L904.8,398.3 L906.8,399.3 L908.8,400.2 L910.8,401.1 L912.8,401.9 L914.8,402.6 L916.8,403.3 L918.8,404.0 L920.8,404.6 L922.8,405.2 L924.8,405.7 L926.8,406.2 L928.8,406.6 L930.8,407.1 L932.8,407.5 L934.8,407.8 L936.8,408.2 L938.8,408.5 L940.8,408.8 L942.8,409.0 L944.8,409.3 L946.8,409.5 L948.8,409.7 L950.8,410.0 L952.8,410.1 L954.8,410.3 L956.8,410.5 L958.8,410.7 L960.8,410.8 L962.8,410.9 L964.8,411.1 L966.8,411.2 L968.8,411.3 L970.8,411.4 L972.8,411.5 L974.8,411.6 L976.8,411.7 L978.8,411.8 L980.8,411.9 L982.8,412.0 L984.8,412.1 L986.8,412.2 L988.8,412.3 L990.8,412.3 L992.8,412.4 L994.8,412.5 L996.8,412.6 L998.8,412.6 L1000.8,412.7 L1002.8,412.8 L1004.8,412.8 L1006.8,412.9 L1008.8,412.9 L1010.8,413.0 L1012.8,413.1 L1014.8,413.1 L1016.8,413.2 L1018.8,413.2 L1020.8,413.3 L1022.8,413.3 L1024.8,413.4 L1026.8,413.4 L1028.8,413.5 L1030.8,413.5 L1032.8,413.6 L1034.8,413.6 L1036.8,413.7 L1038.8,413.7 L1040.8,413.8 L1042.8,413.8 L1044.8,413.8 L1046.8,413.9 L1048.8,413.9 L1050.8,414.0 L1052.8,414.0 L1054.8,414.0 L1056.8,414.0 L1058.8,414.0 L1060.8,414.1 L1062.8,414.1 L1064.8,414.1 L1066.8,414.1 L1068.8,414.1 L1070.8,414.2 L1072.8,414.2 L1074.8,414.2 L1076.8,414.2 L1078.8,414.2 L1080.8,414.2 L1082.8,414.3 L1084.8,414.3 L1086.8,414.3 L1088.8,414.3 L1090.8,414.3 L1092.8,414.3 L1094.8,414.3 L1096.8,414.3 L1098.8,414.4 L1100.8,414.4 L1102.8,414.4 L1104.8,414.4 L1106.8,414.4 L1108.8,414.4 L1110.8,414.4 L1112.8,414.4 L1114.8,414.4 L1116.8,414.5 L1118.8,414.5 L1120.8,414.5 L1122.8,414.5 L1124.8,414.5 L1126.8,414.5 L1128.8,414.5 L1130.8,414.5 L1132.8,414.5 L1134.8,414.5 L1136.8,414.5 L1138.8,414.5 L1140.8,414.5 L1142.8,414.6 L1144.8,414.6 L1146.8,414.6 L1148.8,414.6 L1150.8,414.6 L1152.8,414.6 L1154.8,414.6 L1156.8,414.6 L1158.8,414.6 L1160.8,414.6 L1162.8,414.6 L1164.8,414.6 L1166.8,414.6 L1168.8,414.6 L1170.8,414.6 L1172.8,414.6 L1174.8,414.6 L1176.8,414.6 L1178.8,414.6 L1180.8,414.6 L1182.8,414.6 L1184.8,414.6 L1186.8,414.6 L1188.8,414.6 L1190.8,414.6 L1192.8,414.6 L1194.8,414.6 L1196.8,414.6 L1198.8,414.6 L1200.8,414.6 L1202.8,414.7 L1204.8,414.7 L1206.8,414.7 L1208.8,414.7 L1210.8,414.7 L1212.8,414.7 L1214.8,414.7 L1216.8,414.7 L1218.8,414.7 L1220.8,414.7 L1222.8,414.7 L1224.8,414.7 L1226.8,414.7 L1228.8,414.7 L1230.8,414.7 L1232.8,414.7 L1234.8,414.7 L1236.8,414.7 L1238.8,414.7 L1240.8,414.7 L1242.8,414.7 L1244.8,414.6 L1246.8,414.6 L1248.8,414.6 L1250.8,414.6 L1252.8,414.6 L1254.8,414.6 L1256.8,414.6 L1258.8,414.6 L1260.8,414.6 L1262.8,414.6 L1264.8,414.6 L1266.8,414.6 L1268.8,414.6 L1269.8,414.6" stroke="#eca53a" stroke-width="3" fill="none"/>
<path d="M64.8,337.3 L66.8,337.3 L68.8,337.3 L70.8,337.2 L72.8,337.2 L74.8,337.2 L76.8,337.2 L78.8,337.1 L80.8,337.1 L82.8,337.1 L84.8,337.1 L86.8,337.1 L88.8,337.0 L90.8,337.0 L92.8,337.0 L94.8,337.0 L96.8,336.9 L98.8,336.9 L100.8,336.9 L102.8,336.9 L104.8,336.8 L106.8,336.8 L108.8,336.8 L110.8,336.8 L112.8,336.8 L114.8,336.7 L116.8,336.7 L118.8,336.7 L120.8,336.7 L122.8,336.6 L124.8,336.6 L126.8,336.6 L128.8,336.6 L130.8,336.5 L132.8,336.5 L134.8,336.5 L136.8,336.5 L138.8,336.5 L140.8,336.4 L142.8,336.4 L144.8,336.4 L146.8,336.4 L148.8,336.3 L150.8,336.3 L152.8,336.3 L154.8,336.3 L156.8,336.2 L158.8,336.2 L160.8,336.2 L162.8,336.2 L164.8,336.1 L166.8,336.1 L168.8,336.1 L170.8,336.1 L172.8,336.1 L174.8,336.0 L176.8,336.0 L178.8,336.0 L180.8,336.0 L182.8,335.9 L184.8,335.9 L186.8,335.9 L188.8,335.9 L190.8,335.8 L192.8,335.8 L194.8,335.8 L196.8,335.8 L198.8,335.7 L200.8,335.7 L202.8,335.7 L204.8,335.7 L206.8,335.6 L208.8,335.6 L210.8,335.6 L212.8,335.6 L214.8,335.5 L216.8,335.5 L218.8,335.5 L220.8,335.5 L222.8,335.4 L224.8,335.4 L226.8,335.4 L228.8,335.4 L230.8,335.3 L232.8,335.3 L234.8,335.3 L236.8,335.3 L238.8,335.2 L240.8,335.2 L242.8,335.2 L244.8,335.2 L246.8,335.1 L248.8,335.1 L250.8,335.1 L252.8,335.1 L254.8,335.1 L256.8,335.0 L258.8,335.0 L260.8,335.0 L262.8,335.0 L264.8,335.0 L266.8,335.0 L268.8,334.9 L270.8,334.9 L272.8,334.9 L274.8,334.9 L276.8,334.9 L278.8,334.8 L280.8,334.8 L282.8,334.8 L284.8,334.8 L286.8,334.8 L288.8,334.8 L290.8,334.7 L292.8,334.7 L294.8,334.7 L296.8,334.7 L298.8,334.7 L300.8,334.7 L302.8,334.6 L304.8,334.6 L306.8,334.6 L308.8,334.6 L310.8,334.6 L312.8,334.6 L314.8,334.5 L316.8,334.5 L318.8,334.5 L320.8,334.5 L322.8,334.5 L324.8,334.5 L326.8,334.4 L328.8,334.4 L330.8,334.4 L332.8,334.4 L334.8,334.4 L336.8,334.4 L338.8,334.4 L340.8,334.3 L342.8,334.3 L344.8,334.3 L346.8,334.3 L348.8,334.3 L350.8,334.3 L352.8,334.3 L354.8,334.3 L356.8,334.3 L358.8,334.2 L360.8,334.2 L362.8,334.2 L364.8,334.2 L366.8,334.2 L368.8,334.2 L370.8,334.2 L372.8,334.2 L374.8,334.2 L376.8,334.2 L378.8,334.2 L380.8,334.2 L382.8,334.2 L384.8,334.2 L386.8,334.2 L388.8,334.2 L390.8,334.2 L392.8,334.2 L394.8,334.2 L396.8,334.2 L398.8,334.2 L400.8,334.2 L402.8,334.2 L404.8,334.2 L406.8,334.2 L408.8,334.2 L410.8,334.2 L412.8,334.2 L414.8,334.2 L416.8,334.2 L418.8,334.2 L420.8,334.2 L422.8,334.2 L424.8,334.2 L426.8,334.2 L428.8,334.2 L430.8,334.2 L432.8,334.2 L434.8,334.2 L436.8,334.2 L438.8,334.2 L440.8,334.2 L442.8,334.2 L444.8,334.2 L446.8,334.2 L448.8,334.2 L450.8,334.2 L452.8,334.2 L454.8,334.2 L456.8,334.2 L458.8,334.2 L460.8,334.2 L462.8,334.2 L464.8,334.2 L466.8,334.2 L468.8,334.2 L470.8,334.2 L472.8,334.2 L474.8,334.1 L476.8,334.1 L478.8,334.1 L480.8,334.1 L482.8,334.1 L484.8,334.1 L486.8,334.1 L488.8,334.1 L490.8,334.0 L492.8,334.0 L494.8,334.0 L496.8,334.0 L498.8,334.0 L500.8,334.0 L502.8,333.9 L504.8,333.9 L506.8,333.9 L508.8,333.9 L510.8,333.8 L512.8,333.8 L514.8,333.8 L516.8,333.8 L518.8,333.7 L520.8,333.7 L522.8,333.6 L524.8,333.6 L526.8,333.5 L528.8,333.5 L530.8,333.4 L532.8,333.3 L534.8,333.2 L536.8,333.1 L538.8,332.9 L540.8,332.7 L542.8,332.6 L544.8,332.3 L546.8,332.1 L548.8,331.8 L550.8,331.5 L552.8,331.1 L554.8,330.6 L556.8,330.1 L558.8,329.6 L560.8,328.9 L562.8,328.2 L564.8,327.4 L566.8,326.5 L568.8,325.4 L570.8,324.3 L572.8,323.0 L574.8,321.5 L576.8,320.0 L578.8,318.2 L580.8,316.3 L582.8,314.1 L584.8,311.8 L586.8,309.3 L588.8,306.5 L590.8,303.5 L592.8,300.3 L594.8,296.9 L596.8,293.2 L598.8,289.2 L600.8,285.0 L602.8,280.5 L604.8,275.7 L606.8,270.7 L608.8,265.5 L610.8,260.0 L612.8,254.3 L614.8,248.4 L616.8,242.3 L618.8,236.0 L620.8,229.5 L622.8,223.0 L624.8,216.3 L626.8,209.6 L628.8,202.8 L630.8,196.0 L632.8,189.3 L634.8,182.7 L636.8,176.2 L638.8,169.8 L640.8,163.8 L642.8,158.0 L644.8,152.5 L646.8,147.4 L648.8,142.7 L650.8,138.6 L652.8,135.0 L654.8,132.0 L656.8,129.6 L658.8,127.9 L660.8,126.8 L662.8,126.5 L664.8,126.8 L666.8,127.9 L668.8,129.6 L670.8,132.0 L672.8,135.1 L674.8,138.8 L676.8,143.0 L678.8,147.8 L680.8,153.1 L682.8,158.8 L684.8,165.0 L686.8,171.4 L688.8,178.2 L690.8,185.1 L692.8,192.3 L694.8,199.6 L696.8,206.9 L698.8,214.3 L700.8,221.7 L702.8,229.1 L704.8,236.4 L706.8,243.6 L708.8,250.6 L710.8,257.5 L712.8,264.2 L714.8,270.7 L716.8,277.0 L718.8,283.0 L720.8,288.8 L722.8,294.2 L724.8,299.5 L726.8,304.4 L728.8,309.1 L730.8,313.5 L732.8,317.5 L734.8,321.4 L736.8,324.9 L738.8,328.1 L740.8,331.1 L742.8,333.8 L744.8,336.3 L746.8,338.5 L748.8,340.4 L750.8,342.1 L752.8,343.6 L754.8,344.8 L756.8,345.8 L758.8,346.5 L760.8,347.0 L762.8,347.3 L764.8,347.3 L766.8,347.1 L768.8,346.6 L770.8,345.9 L772.8,344.9 L774.8,343.7 L776.8,342.2 L778.8,340.4 L780.8,338.4 L782.8,336.0 L784.8,333.3 L786.8,330.4 L788.8,327.0 L790.8,323.4 L792.8,319.4 L794.8,315.1 L796.8,310.4 L798.8,305.3 L800.8,299.9 L802.8,294.1 L804.8,288.0 L806.8,281.5 L808.8,274.7 L810.8,267.6 L812.8,260.1 L814.8,252.3 L816.8,244.3 L818.8,236.1 L820.8,227.6 L822.8,218.9 L824.8,210.1 L826.8,201.3 L828.8,192.3 L830.8,183.4 L832.8,174.5 L834.8,165.8 L836.8,157.2 L838.8,148.9 L840.8,140.8 L842.8,133.2 L844.8,125.9 L846.8,119.2 L848.8,113.1 L850.8,107.6 L852.8,102.8 L854.8,98.7 L856.8,95.5 L858.8,93.1 L860.8,91.7 L862.8,91.2 L864.8,91.6 L866.8,92.9 L868.8,95.2 L870.8,98.4 L872.8,102.4 L874.8,107.3 L876.8,112.9 L878.8,119.3 L880.8,126.3 L882.8,134.0 L884.8,142.1 L886.8,150.7 L888.8,159.7 L890.8,168.9 L892.8,178.5 L894.8,188.2 L896.8,198.0 L898.8,207.9 L900.8,217.7 L902.8,227.6 L904.8,237.3 L906.8,246.9 L908.8,256.3 L910.8,265.5 L912.8,274.5 L914.8,283.2 L916.8,291.5 L918.8,299.6 L920.8,307.3 L922.8,314.7 L924.8,321.7 L926.8,328.4 L928.8,334.7 L930.8,340.7 L932.8,346.3 L934.8,351.5 L936.8,356.4 L938.8,361.0 L940.8,365.2 L942.8,369.1 L944.8,372.8 L946.8,376.1 L948.8,379.2 L950.8,382.0 L952.8,384.6 L954.8,387.0 L956.8,389.1 L958.8,391.1 L960.8,392.9 L962.8,394.5 L964.8,396.0 L966.8,397.3 L968.8,398.5 L970.8,399.6 L972.8,400.6 L974.8,401.4 L976.8,402.2 L978.8,403.0 L980.8,403.6 L982.8,404.2 L984.8,404.8 L986.8,405.3 L988.8,405.7 L990.8,406.1 L992.8,406.5 L994.8,406.9 L996.8,407.2 L998.8,407.5 L1000.8,407.8 L1002.8,408.0 L1004.8,408.3 L1006.8,408.5 L1008.8,408.7 L1010.8,408.9 L1012.8,409.1 L1014.8,409.3 L1016.8,409.4 L1018.8,409.6 L1020.8,409.8 L1022.8,409.9 L1024.8,410.1 L1026.8,410.2 L1028.8,410.3 L1030.8,410.5 L1032.8,410.6 L1034.8,410.7 L1036.8,410.8 L1038.8,410.9 L1040.8,411.1 L1042.8,411.2 L1044.8,411.3 L1046.8,411.4 L1048.8,411.5 L1050.8,411.6 L1052.8,411.6 L1054.8,411.7 L1056.8,411.8 L1058.8,411.9 L1060.8,411.9 L1062.8,412.0 L1064.8,412.1 L1066.8,412.1 L1068.8,412.2 L1070.8,412.2 L1072.8,412.3 L1074.8,412.4 L1076.8,412.4 L1078.8,412.5 L1080.8,412.5 L1082.8,412.6 L1084.8,412.6 L1086.8,412.7 L1088.8,412.7 L1090.8,412.7 L1092.8,412.8 L1094.8,412.8 L1096.8,412.9 L1098.8,412.9 L1100.8,412.9 L1102.8,413.0 L1104.8,413.0 L1106.8,413.1 L1108.8,413.1 L1110.8,413.1 L1112.8,413.2 L1114.8,413.2 L1116.8,413.2 L1118.8,413.3 L1120.8,413.3 L1122.8,413.3 L1124.8,413.3 L1126.8,413.4 L1128.8,413.4 L1130.8,413.4 L1132.8,413.4 L1134.8,413.5 L1136.8,413.5 L1138.8,413.5 L1140.8,413.5 L1142.8,413.6 L1144.8,413.6 L1146.8,413.6 L1148.8,413.6 L1150.8,413.6 L1152.8,413.7 L1154.8,413.7 L1156.8,413.7 L1158.8,413.7 L1160.8,413.7 L1162.8,413.8 L1164.8,413.8 L1166.8,413.8 L1168.8,413.8 L1170.8,413.8 L1172.8,413.8 L1174.8,413.8 L1176.8,413.9 L1178.8,413.9 L1180.8,413.9 L1182.8,413.9 L1184.8,413.9 L1186.8,413.9 L1188.8,413.9 L1190.8,413.9 L1192.8,414.0 L1194.8,414.0 L1196.8,414.0 L1198.8,414.0 L1200.8,414.0 L1202.8,414.0 L1204.8,414.0 L1206.8,414.0 L1208.8,414.0 L1210.8,414.0 L1212.8,414.1 L1214.8,414.1 L1216.8,414.1 L1218.8,414.1 L1220.8,414.1 L1222.8,414.1 L1224.8,414.1 L1226.8,414.1 L1228.8,414.1 L1230.8,414.1 L1232.8,414.1 L1234.8,414.1 L1236.8,414.1 L1238.8,414.1 L1240.8,414.1 L1242.8,414.2 L1244.8,414.2 L1246.8,414.2 L1248.8,414.2 L1250.8,414.2 L1252.8,414.2 L1254.8,414.2 L1256.8,414.2 L1258.8,414.2 L1260.8,414.2 L1262.8,414.2 L1264.8,414.2 L1266.8,414.2 L1268.8,414.2 L1269.8,414.2" stroke="#42a250" stroke-width="3" fill="none"/>
<path d="M478.8,337.0 L480.8,337.0 L482.8,337.0 L484.8,337.0 L486.8,336.9 L488.8,336.9 L490.8,336.8 L492.8,336.8 L494.8,336.7 L496.8,336.7 L498.8,336.6 L500.8,336.5 L502.8,336.4 L504.8,336.3 L506.8,336.2 L508.8,336.1 L510.8,336.0 L512.8,335.9 L514.8,335.7 L516.8,335.6 L518.8,335.4 L520.8,335.2 L522.8,335.0 L524.8,334.8 L526.8,334.6 L528.8,334.4 L530.8,334.1 L532.8,333.8 L534.8,333.6 L536.8,333.3 L538.8,333.0 L540.8,332.7 L542.8,332.3 L544.8,332.0 L546.8,331.7 L548.8,331.3 L550.8,330.9 L552.8,330.5 L554.8,330.1 L556.8,329.7 L558.8,329.3 L560.8,328.9 L562.8,328.4 L564.8,328.0 L566.8,327.6 L568.8,327.1 L570.8,326.7 L572.8,326.2 L574.8,325.8 L576.8,325.3 L578.8,324.9 L580.8,324.5 L582.8,324.0 L584.8,323.6 L586.8,323.2 L588.8,322.8 L590.8,322.5 L592.8,322.1 L594.8,321.8 L596.8,321.5 L598.8,321.2 L600.8,321.0 L602.8,320.7 L604.8,320.5 L606.8,320.4 L608.8,320.3 L610.8,320.2 L612.8,320.1 L614.8,320.1 L616.8,320.2 L618.8,320.2 L620.8,320.4 L622.8,320.5 L624.8,320.8 L626.8,321.0 L628.8,321.4 L630.8,321.7 L632.8,322.1 L634.8,322.6 L636.8,323.1 L638.8,323.7 L640.8,324.3 L642.8,324.9 L644.8,325.6 L646.8,326.4 L648.8,327.1 L650.8,328.0 L652.8,328.9 L654.8,329.8 L656.8,330.8 L658.8,331.8 L660.8,332.8 L662.8,333.9 L664.8,335.0 L666.8,336.1 L668.8,337.2 L670.8,338.3 L672.8,339.5 L674.8,340.6 L676.8,341.8 L678.8,342.9 L680.8,344.1 L682.8,345.2 L684.8,346.4 L686.8,347.5 L688.8,348.7 L690.8,349.8 L692.8,350.9 L694.8,351.9 L696.8,353.0 L698.8,354.1 L700.8,355.1 L702.8,356.1 L704.8,357.1 L706.8,358.1 L708.8,359.0 L710.8,359.9 L712.8,360.8 L714.8,361.7 L716.8,362.5 L718.8,363.4 L720.8,364.2 L722.8,365.0 L724.8,365.7 L726.8,366.5 L728.8,367.2 L730.8,367.9 L732.8,368.5 L734.8,369.2 L736.8,369.8 L738.8,370.5 L740.8,371.1 L742.8,371.6 L744.8,372.2 L746.8,372.8 L748.8,373.3 L750.8,373.8 L752.8,374.4 L754.8,374.9 L756.8,375.4 L758.8,375.8 L760.8,376.3 L762.8,376.8 L764.8,377.2 L766.8,377.7 L768.8,378.1 L770.8,378.6 L772.8,379.0 L774.8,379.4 L776.8,379.9 L778.8,380.3 L780.8,380.7 L782.8,381.1 L783.8,381.3" stroke="#3a3a3a" stroke-width="1.9" stroke-dasharray="2,2.6" fill="none"/>
<path d="M282.8,335.2 L284.8,335.2 L286.8,335.1 L288.8,335.0 L290.8,334.9 L292.8,334.8 L294.8,334.7 L296.8,334.6 L298.8,334.5 L300.8,334.4 L302.8,334.2 L304.8,334.1 L306.8,333.9 L308.8,333.8 L310.8,333.6 L312.8,333.4 L314.8,333.2 L316.8,333.0 L318.8,332.8 L320.8,332.6 L322.8,332.4 L324.8,332.1 L326.8,331.8 L328.8,331.6 L330.8,331.3 L332.8,331.0 L334.8,330.7 L336.8,330.3 L338.8,330.0 L340.8,329.6 L342.8,329.3 L344.8,328.9 L346.8,328.5 L348.8,328.1 L350.8,327.7 L352.8,327.2 L354.8,326.8 L356.8,326.3 L358.8,325.9 L360.8,325.4 L362.8,324.9 L364.8,324.4 L366.8,324.0 L368.8,323.5 L370.8,323.0 L372.8,322.5 L374.8,322.0 L376.8,321.5 L378.8,321.0 L380.8,320.5 L382.8,320.0 L384.8,319.5 L386.8,319.0 L388.8,318.6 L390.8,318.1 L392.8,317.7 L394.8,317.2 L396.8,316.8 L398.8,316.4 L400.8,316.0 L402.8,315.7 L404.8,315.3 L406.8,315.0 L408.8,314.7 L410.8,314.5 L412.8,314.2 L414.8,314.0 L416.8,313.8 L418.8,313.7 L420.8,313.5 L422.8,313.4 L424.8,313.4 L426.8,313.3 L428.8,313.3 L430.8,313.4 L432.8,313.4 L434.8,313.5 L436.8,313.6 L438.8,313.8 L440.8,314.0 L442.8,314.2 L444.8,314.4 L446.8,314.7 L448.8,315.0 L450.8,315.3 L452.8,315.7 L454.8,316.0 L456.8,316.4 L458.8,316.9 L460.8,317.3 L462.8,317.8 L464.8,318.2 L466.8,318.7 L468.8,319.2 L470.8,319.8 L472.8,320.3 L474.8,320.8 L476.8,321.4 L478.8,321.9 L480.8,322.5 L482.8,323.1 L484.8,323.6 L486.8,324.2 L488.8,324.8 L490.8,325.4 L492.8,325.9 L494.8,326.5 L496.8,327.1 L498.8,327.6 L500.8,328.2 L502.8,328.7 L504.8,329.3 L506.8,329.8 L508.8,330.3 L510.8,330.8 L512.8,331.3 L514.8,331.8 L516.8,332.3 L518.8,332.8 L520.8,333.3 L522.8,333.7 L524.8,334.2 L526.8,334.6 L528.8,335.0 L530.8,335.4 L532.8,335.8 L534.8,336.2 L536.8,336.6 L538.8,337.0 L540.8,337.4 L542.8,337.8 L544.8,338.1 L546.8,338.5 L548.8,338.8 L550.8,339.2 L552.8,339.5 L554.8,339.8 L556.8,340.2 L558.8,340.5 L560.8,340.8 L562.8,341.1 L564.8,341.4 L566.8,341.7 L568.8,342.0 L570.8,342.3 L572.8,342.6 L574.8,342.9 L576.8,343.2 L577.8,343.4" stroke="#3a3a3a" stroke-width="1.9" stroke-dasharray="2,2.6" fill="none"/>
<path d="M361.8,335.2 L363.8,335.2 L365.8,335.2 L367.8,335.2 L369.8,335.2 L371.8,335.2 L373.8,335.2 L375.8,335.2 L377.8,335.2 L379.8,335.2 L381.8,335.2 L383.8,335.3 L385.8,335.3 L387.8,335.3 L389.8,335.3 L391.8,335.3 L393.8,335.3 L395.8,335.4 L397.8,335.4 L399.8,335.4 L401.8,335.4 L403.8,335.4 L405.8,335.5 L407.8,335.5 L409.8,335.5 L411.8,335.5 L413.8,335.5 L415.8,335.6 L417.8,335.6 L419.8,335.6 L421.8,335.6 L423.8,335.7 L425.8,335.7 L427.8,335.7 L429.8,335.7 L431.8,335.8 L433.8,335.8 L435.8,335.8 L437.8,335.8 L439.8,335.9 L441.8,335.9 L443.8,335.9 L445.8,336.0 L447.8,336.0 L449.8,336.0 L451.8,336.0 L453.8,336.1 L455.8,336.1 L457.8,336.1 L459.8,336.2 L461.8,336.2 L463.8,336.2 L465.8,336.3 L467.8,336.3 L469.8,336.3 L471.8,336.4 L473.8,336.4 L475.8,336.4 L477.8,336.5 L479.8,336.5 L481.8,336.6 L483.8,336.6 L485.8,336.6 L487.8,336.7 L489.8,336.7 L491.8,336.8 L493.8,336.8 L495.8,336.9 L497.8,336.9 L499.8,337.0 L501.8,337.0 L503.8,337.1 L505.8,337.1 L507.8,337.2 L509.8,337.2 L511.8,337.3 L513.8,337.4 L515.8,337.5 L517.8,337.5 L519.8,337.6 L521.8,337.7 L523.8,337.8 L525.8,337.9 L527.8,338.0 L529.8,338.1 L531.8,338.2 L533.8,338.3 L535.8,338.4 L537.8,338.5 L539.8,338.6 L541.8,338.7 L543.8,338.8 L545.8,339.0 L547.8,339.1 L549.8,339.2 L551.8,339.4 L553.8,339.5 L555.8,339.7 L557.8,339.8 L559.8,340.0 L561.8,340.1 L563.8,340.3 L565.8,340.5 L567.8,340.6 L569.8,340.8 L571.8,341.0 L573.8,341.2 L575.8,341.3 L577.8,341.5 L579.8,341.7 L581.8,341.9 L583.8,342.1 L585.8,342.3 L587.8,342.5 L589.8,342.7 L591.8,342.9 L593.8,343.1 L595.8,343.3 L597.8,343.5 L599.8,343.7 L601.8,343.9 L603.8,344.1 L605.8,344.3 L607.8,344.5 L609.8,344.7 L611.8,344.9 L613.8,345.0 L615.8,345.2 L617.8,345.4 L619.8,345.6 L621.8,345.8 L623.8,345.9 L625.8,346.1 L627.8,346.2 L629.8,346.3 L631.8,346.5 L633.8,346.6 L635.8,346.7 L637.8,346.7 L639.8,346.8 L641.8,346.8 L643.8,346.8 L645.8,346.8 L647.8,346.7 L649.8,346.6 L651.8,346.5 L653.8,346.4 L655.8,346.2 L657.8,346.0 L659.8,345.7 L661.8,345.4 L663.8,345.0 L665.8,344.6 L667.8,344.1 L669.8,343.5 L671.8,342.8 L673.8,342.1 L675.8,341.3 L677.8,340.4 L679.8,339.4 L681.8,338.3 L683.8,337.2 L685.8,335.9 L687.8,334.5 L689.8,333.1 L691.8,331.5 L693.8,329.9 L695.8,328.1 L697.8,326.2 L699.8,324.3 L701.8,322.2 L703.8,320.1 L705.8,317.8 L707.8,315.5 L709.8,313.1 L711.8,310.6 L713.8,308.0 L715.8,305.3 L717.8,302.6 L719.8,299.8 L721.8,297.0 L723.8,294.1 L725.8,291.1 L727.8,288.2 L729.8,285.2 L731.8,282.2 L733.8,279.2 L735.8,276.2 L737.8,273.2 L739.8,270.2 L741.8,267.3 L743.8,264.5 L745.8,261.7 L747.8,259.0 L749.8,256.3 L751.8,253.8 L753.8,251.4 L755.8,249.2 L757.8,247.1 L759.8,245.1 L761.8,243.3 L763.8,241.7 L765.8,240.3 L767.8,239.1 L769.8,238.1 L771.8,237.4 L773.8,236.9 L775.8,236.6 L777.8,236.5 L779.8,236.7 L781.8,237.1 L783.8,237.8 L785.8,238.7 L787.8,239.9 L789.8,241.3 L791.8,242.9 L793.8,244.8 L795.8,246.8 L797.8,249.1 L799.8,251.5 L801.8,254.1 L803.8,256.9 L805.8,259.8 L807.8,262.9 L809.8,266.1 L811.8,269.4 L813.8,272.8 L815.8,276.3 L817.8,279.9 L819.8,283.6 L821.8,287.3 L823.8,291.0 L825.8,294.8 L827.8,298.6 L829.8,302.4 L831.8,306.2 L833.8,310.0 L835.8,313.8 L837.8,317.5 L839.8,321.3 L841.8,325.0 L843.8,328.6 L845.8,332.2 L847.8,335.7 L849.8,339.2 L851.8,342.5 L853.8,345.8 L855.8,349.0 L857.8,352.1 L859.8,355.2 L861.8,358.1 L863.8,361.0 L865.8,363.7 L867.8,366.4 L869.8,369.0 L871.8,371.4 L873.8,373.8 L875.8,376.1 L877.8,378.3 L879.8,380.4 L881.8,382.4 L883.8,384.3 L885.8,386.1 L887.8,387.8 L889.8,389.4 L891.8,390.9 L893.8,392.4 L895.8,393.8 L897.8,395.1 L899.8,396.3 L901.8,397.4 L903.8,398.5 L905.8,399.5 L907.8,400.5 L909.8,401.4 L911.8,402.2 L913.8,403.0 L915.8,403.7 L917.8,404.4 L919.8,405.0 L921.8,405.6 L923.8,406.1 L925.8,406.6 L927.8,407.1 L929.8,407.5 L931.8,407.9 L933.8,408.3 L935.8,408.6 L937.8,408.9 L939.8,409.2 L941.8,409.5 L943.8,409.8 L945.8,410.0 L947.8,410.2 L949.8,410.4 L951.8,410.6 L953.8,410.8 L955.8,411.0 L957.8,411.1 L959.8,411.3 L961.8,411.4 L963.8,411.5 L965.8,411.7 L967.8,411.8 L969.8,411.9 L971.8,412.0 L973.8,412.1 L975.8,412.2 L977.8,412.3 L979.8,412.4 L981.8,412.5 L983.8,412.5 L985.8,412.6 L987.8,412.7 L989.8,412.8 L991.8,412.8 L993.8,412.9 L995.8,413.0 L997.8,413.0 L999.8,413.1 L1001.8,413.2 L1003.8,413.2 L1005.8,413.3 L1007.8,413.3 L1009.8,413.4 L1011.8,413.4 L1013.8,413.5 L1015.8,413.6 L1017.8,413.6 L1019.8,413.7 L1021.8,413.7 L1023.8,413.8 L1025.8,413.8 L1027.8,413.8 L1029.8,413.9 L1031.8,413.9 L1033.8,414.0 L1035.8,414.0 L1037.8,414.1 L1039.8,414.1 L1041.8,414.1 L1043.8,414.2 L1045.8,414.2 L1047.8,414.3 L1049.8,414.3 L1051.8,414.3 L1053.8,414.3 L1055.8,414.4 L1057.8,414.4 L1059.8,414.4 L1061.8,414.4 L1063.8,414.4 L1065.8,414.5 L1067.8,414.5 L1069.8,414.5 L1071.8,414.5 L1073.8,414.5 L1075.8,414.5 L1077.8,414.5 L1079.8,414.6 L1081.8,414.6 L1083.8,414.6 L1085.8,414.6 L1087.8,414.6 L1089.8,414.6 L1091.8,414.6 L1093.8,414.6 L1095.8,414.6 L1097.8,414.7 L1099.8,414.7 L1101.8,414.7 L1103.8,414.7 L1105.8,414.7 L1107.8,414.7 L1109.8,414.7 L1111.8,414.7 L1113.8,414.7 L1115.8,414.7 L1117.8,414.7 L1119.8,414.7 L1121.8,414.7 L1123.8,414.8 L1125.8,414.8 L1127.8,414.8 L1129.8,414.8 L1131.8,414.8 L1133.8,414.8 L1135.8,414.8 L1137.8,414.8 L1139.8,414.8 L1141.8,414.8 L1143.8,414.8 L1145.8,414.8 L1147.8,414.8 L1149.8,414.8 L1151.8,414.8 L1153.8,414.8 L1155.8,414.8 L1157.8,414.8 L1159.8,414.8 L1161.8,414.8 L1163.8,414.8 L1165.8,414.8 L1167.8,414.8 L1169.8,414.8 L1171.8,414.8 L1173.8,414.8 L1175.8,414.9 L1177.8,414.9 L1179.8,414.9 L1181.8,414.9 L1183.8,414.9 L1185.8,414.9 L1187.8,414.9 L1189.8,414.9 L1191.8,414.9 L1193.8,414.9 L1195.8,414.9 L1197.8,414.9" stroke="#3a3a3a" stroke-width="1.9" stroke-dasharray="2,2.6" fill="none"/>
<path d="M217.8,335.7 L219.8,335.7 L221.8,335.6 L223.8,335.6 L225.8,335.6 L227.8,335.6 L229.8,335.5 L231.8,335.5 L233.8,335.5 L235.8,335.5 L237.8,335.4 L239.8,335.4 L241.8,335.4 L243.8,335.4 L245.8,335.3 L247.8,335.3 L249.8,335.3 L251.8,335.3 L253.8,335.2 L255.8,335.2 L257.8,335.2 L259.8,335.2 L261.8,335.2 L263.8,335.1 L265.8,335.1 L267.8,335.1 L269.8,335.1 L271.8,335.1 L273.8,335.0 L275.8,335.0 L277.8,335.0 L279.8,335.0 L281.8,335.0 L283.8,335.0 L285.8,334.9 L287.8,334.9 L289.8,334.9 L291.8,334.9 L293.8,334.9 L295.8,334.8 L297.8,334.8 L299.8,334.8 L301.8,334.8 L303.8,334.8 L305.8,334.7 L307.8,334.7 L309.8,334.7 L311.8,334.7 L313.8,334.6 L315.8,334.6 L317.8,334.6 L319.8,334.6 L321.8,334.6 L323.8,334.5 L325.8,334.5 L327.8,334.5 L329.8,334.5 L331.8,334.5 L333.8,334.4 L335.8,334.4 L337.8,334.4 L339.8,334.4 L341.8,334.4 L343.8,334.4 L345.8,334.3 L347.8,334.3 L349.8,334.3 L351.8,334.3 L353.8,334.3 L355.8,334.2 L357.8,334.2 L359.8,334.2 L361.8,334.2 L363.8,334.2 L365.8,334.1 L367.8,334.1 L369.8,334.1 L371.8,334.1 L373.8,334.1 L375.8,334.0 L377.8,334.0 L379.8,334.0 L381.8,334.0 L383.8,334.0 L385.8,333.9 L387.8,333.9 L389.8,333.9 L391.8,333.8 L393.8,333.8 L395.8,333.8 L397.8,333.7 L399.8,333.7 L401.8,333.7 L403.8,333.6 L405.8,333.6 L407.8,333.5 L409.8,333.4 L411.8,333.4 L413.8,333.3 L415.8,333.2 L417.8,333.1 L419.8,333.0 L421.8,332.9 L423.8,332.8 L425.8,332.7 L427.8,332.5 L429.8,332.4 L431.8,332.2 L433.8,332.0 L435.8,331.8 L437.8,331.5 L439.8,331.3 L441.8,331.0 L443.8,330.7 L445.8,330.4 L447.8,330.1 L449.8,329.7 L451.8,329.3 L453.8,328.8 L455.8,328.3 L457.8,327.8 L459.8,327.3 L461.8,326.7 L463.8,326.0 L465.8,325.4 L467.8,324.6 L469.8,323.8 L471.8,323.0 L473.8,322.1 L475.8,321.2 L477.8,320.2 L479.8,319.1 L481.8,318.0 L483.8,316.8 L485.8,315.5 L487.8,314.2 L489.8,312.8 L491.8,311.4 L493.8,309.9 L495.8,308.3 L497.8,306.7 L499.8,305.0 L501.8,303.2 L503.8,301.4 L505.8,299.5 L507.8,297.5 L509.8,295.5 L511.8,293.4 L513.8,291.3 L515.8,289.1 L517.8,286.9 L519.8,284.7 L521.8,282.4 L523.8,280.1 L525.8,277.7 L527.8,275.4 L529.8,273.0 L531.8,270.6 L533.8,268.3 L535.8,265.9 L537.8,263.6 L539.8,261.2 L541.8,259.0 L543.8,256.7 L545.8,254.6 L547.8,252.4 L549.8,250.4 L551.8,248.4 L553.8,246.6 L555.8,244.8 L557.8,243.2 L559.8,241.6 L561.8,240.2 L563.8,239.0 L565.8,237.9 L567.8,236.9 L569.8,236.1 L571.8,235.5 L573.8,235.1 L575.8,234.8 L577.8,234.8 L579.8,234.9 L581.8,235.2 L583.8,235.7 L585.8,236.3 L587.8,237.2 L589.8,238.2 L591.8,239.4 L593.8,240.8 L595.8,242.4 L597.8,244.0 L599.8,245.9 L601.8,247.8 L603.8,249.9 L605.8,252.1 L607.8,254.5 L609.8,256.9 L611.8,259.4 L613.8,262.0 L615.8,264.6 L617.8,267.3 L619.8,270.1 L621.8,272.9 L623.8,275.7 L625.8,278.6 L627.8,281.5 L629.8,284.4 L631.8,287.3 L633.8,290.2 L635.8,293.0 L637.8,295.9 L639.8,298.7 L641.8,301.5 L643.8,304.3 L645.8,307.0 L647.8,309.7 L649.8,312.3 L651.8,315.0 L653.8,317.5 L655.8,320.1 L657.8,322.5 L659.8,324.9 L661.8,327.3 L663.8,329.5 L665.8,331.7 L667.8,333.8 L669.8,335.9 L671.8,337.9 L673.8,339.8 L675.8,341.6 L677.8,343.4 L679.8,345.1 L681.8,346.7 L683.8,348.2 L685.8,349.7 L687.8,351.1 L689.8,352.5 L691.8,353.8 L693.8,355.0 L695.8,356.2 L697.8,357.3 L699.8,358.3 L701.8,359.3 L703.8,360.3 L705.8,361.2 L707.8,362.0 L709.8,362.9 L711.8,363.6 L713.8,364.4 L715.8,365.1 L717.8,365.7 L719.8,366.4 L721.8,367.0 L723.8,367.6 L725.8,368.1 L727.8,368.7 L729.8,369.2 L731.8,369.7 L733.8,370.2 L735.8,370.6 L737.8,371.1 L739.8,371.5 L741.8,372.0 L743.8,372.4 L745.8,372.8 L747.8,373.2 L749.8,373.6 L751.8,374.0 L753.8,374.4 L755.8,374.8 L757.8,375.2 L759.8,375.6 L761.8,375.9 L763.8,376.3 L765.8,376.7 L767.8,377.1 L769.8,377.4 L771.8,377.8 L773.8,378.2 L775.8,378.6 L777.8,379.0 L779.8,379.4 L781.8,379.7 L783.8,380.1 L785.8,380.5 L787.8,380.9 L789.8,381.3 L791.8,381.7 L793.8,382.1 L795.8,382.5 L797.8,382.9 L799.8,383.3 L801.8,383.7 L803.8,384.2 L805.8,384.6 L807.8,385.0 L809.8,385.5 L811.8,385.9 L813.8,386.4 L815.8,386.8 L817.8,387.3 L819.8,387.8 L821.8,388.3 L823.8,388.8 L825.8,389.3 L827.8,389.8 L829.8,390.3 L831.8,390.8 L833.8,391.4 L835.8,391.9 L837.8,392.5 L839.8,393.1 L841.8,393.6 L843.8,394.2 L845.8,394.8 L847.8,395.4 L849.8,396.0 L851.8,396.6 L853.8,397.2 L855.8,397.7 L857.8,398.3 L859.8,398.9 L861.8,399.5 L863.8,400.1 L865.8,400.7 L867.8,401.2 L869.8,401.8 L871.8,402.4 L873.8,402.9 L875.8,403.4 L877.8,404.0 L879.8,404.5 L881.8,405.0 L883.8,405.5 L885.8,406.0 L887.8,406.4 L889.8,406.9 L891.8,407.3 L893.8,407.7 L895.8,408.1 L897.8,408.5 L899.8,408.9 L901.8,409.2 L903.8,409.6 L905.8,409.9 L907.8,410.2 L909.8,410.5 L911.8,410.7 L913.8,411.0 L915.8,411.2 L917.8,411.4 L919.8,411.7 L921.8,411.9 L923.8,412.0 L925.8,412.2 L927.8,412.4 L929.8,412.5 L931.8,412.7 L933.8,412.8 L935.8,412.9 L937.8,413.1 L939.8,413.2 L941.8,413.3" stroke="#3a3a3a" stroke-width="1.9" stroke-dasharray="2,2.6" fill="none"/>
<path d="M403.8,335.6 L405.8,335.6 L407.8,335.6 L409.8,335.6 L411.8,335.7 L413.8,335.7 L415.8,335.7 L417.8,335.7 L419.8,335.8 L421.8,335.8 L423.8,335.8 L425.8,335.9 L427.8,335.9 L429.8,335.9 L431.8,335.9 L433.8,336.0 L435.8,336.0 L437.8,336.0 L439.8,336.1 L441.8,336.1 L443.8,336.1 L445.8,336.2 L447.8,336.2 L449.8,336.2 L451.8,336.3 L453.8,336.3 L455.8,336.3 L457.8,336.4 L459.8,336.4 L461.8,336.4 L463.8,336.5 L465.8,336.5 L467.8,336.6 L469.8,336.6 L471.8,336.6 L473.8,336.7 L475.8,336.7 L477.8,336.8 L479.8,336.8 L481.8,336.8 L483.8,336.9 L485.8,336.9 L487.8,337.0 L489.8,337.0 L491.8,337.1 L493.8,337.1 L495.8,337.2 L497.8,337.2 L499.8,337.3 L501.8,337.4 L503.8,337.4 L505.8,337.5 L507.8,337.6 L509.8,337.6 L511.8,337.7 L513.8,337.8 L515.8,337.9 L517.8,338.0 L519.8,338.0 L521.8,338.1 L523.8,338.2 L525.8,338.3 L527.8,338.4 L529.8,338.5 L531.8,338.7 L533.8,338.8 L535.8,338.9 L537.8,339.0 L539.8,339.1 L541.8,339.3 L543.8,339.4 L545.8,339.6 L547.8,339.7 L549.8,339.9 L551.8,340.0 L553.8,340.2 L555.8,340.3 L557.8,340.5 L559.8,340.7 L561.8,340.9 L563.8,341.0 L565.8,341.2 L567.8,341.4 L569.8,341.6 L571.8,341.8 L573.8,342.0 L575.8,342.2 L577.8,342.5 L579.8,342.7 L581.8,342.9 L583.8,343.1 L585.8,343.4 L587.8,343.6 L589.8,343.8 L591.8,344.1 L593.8,344.3 L595.8,344.6 L597.8,344.8 L599.8,345.1 L601.8,345.4 L603.8,345.6 L605.8,345.9 L607.8,346.2 L609.8,346.5 L611.8,346.8 L613.8,347.1 L615.8,347.4 L617.8,347.7 L619.8,348.0 L621.8,348.3 L623.8,348.7 L625.8,349.0 L627.8,349.3 L629.8,349.7 L631.8,350.1 L633.8,350.4 L635.8,350.8 L637.8,351.2 L639.8,351.6 L641.8,352.0 L643.8,352.4 L645.8,352.8 L647.8,353.2 L649.8,353.6 L651.8,354.1 L653.8,354.5 L655.8,355.0 L657.8,355.5 L659.8,355.9 L661.8,356.4 L663.8,356.9 L665.8,357.4 L667.8,357.8 L669.8,358.3 L671.8,358.7 L673.8,359.2 L675.8,359.6 L677.8,360.0 L679.8,360.5 L681.8,360.9 L683.8,361.3 L685.8,361.7 L687.8,362.0 L689.8,362.4 L691.8,362.7 L693.8,363.1 L695.8,363.4 L697.8,363.7 L699.8,364.0 L701.8,364.3 L703.8,364.5 L705.8,364.8 L707.8,365.0 L709.8,365.3 L711.8,365.5 L713.8,365.7 L715.8,365.9 L717.8,366.0 L719.8,366.2 L721.8,366.3 L723.8,366.4 L725.8,366.5 L727.8,366.6 L729.8,366.7 L731.8,366.7 L733.8,366.7 L735.8,366.7 L737.8,366.7 L739.8,366.6 L741.8,366.5 L743.8,366.3 L745.8,366.1 L747.8,365.8 L749.8,365.5 L751.8,365.1 L753.8,364.7 L755.8,364.1 L757.8,363.5 L759.8,362.8 L761.8,362.0 L763.8,361.0 L765.8,359.9 L767.8,358.7 L769.8,357.3 L771.8,355.7 L773.8,353.9 L775.8,352.0 L777.8,349.8 L779.8,347.4 L781.8,344.8 L783.8,341.8 L785.8,338.7 L787.8,335.2 L789.8,331.4 L791.8,327.3 L793.8,322.9 L795.8,318.2 L797.8,313.1 L799.8,307.7 L801.8,301.9 L803.8,295.8 L805.8,289.3 L807.8,282.6 L809.8,275.4 L811.8,268.0 L813.8,260.3 L815.8,252.3 L817.8,244.0 L819.8,235.6 L821.8,226.9 L823.8,218.1 L825.8,209.2 L827.8,200.2 L829.8,191.2 L831.8,182.2 L833.8,173.3 L835.8,164.5 L837.8,156.0 L839.8,147.7 L841.8,139.8 L843.8,132.3 L845.8,125.3 L847.8,118.8 L849.8,112.9 L851.8,107.7 L853.8,103.2 L855.8,99.5 L857.8,96.7 L859.8,94.7 L861.8,93.7 L863.8,93.5 L865.8,94.4 L867.8,96.2 L869.8,98.8 L871.8,102.4 L873.8,106.8 L875.8,112.1 L877.8,118.1 L879.8,124.7 L881.8,132.0 L883.8,139.9 L885.8,148.2 L887.8,157.0 L889.8,166.1 L891.8,175.5 L893.8,185.1 L895.8,194.8 L897.8,204.6 L899.8,214.5 L901.8,224.3 L903.8,234.1 L905.8,243.7 L907.8,253.2 L909.8,262.5 L911.8,271.6 L913.8,280.4 L915.8,288.9 L917.8,297.1 L919.8,304.9 L921.8,312.5 L923.8,319.7 L925.8,326.5 L927.8,333.0 L929.8,339.1 L931.8,344.8 L933.8,350.2 L935.8,355.3 L937.8,360.0 L939.8,364.4 L941.8,368.4 L943.8,372.2 L945.8,375.7 L947.8,378.9 L949.8,381.8 L951.8,384.5 L953.8,386.9 L955.8,389.2 L957.8,391.2 L959.8,393.1 L961.8,394.8 L963.8,396.3 L965.8,397.7 L967.8,398.9 L969.8,400.1 L971.8,401.1 L973.8,402.0 L975.8,402.8 L977.8,403.6 L979.8,404.3 L981.8,404.9 L983.8,405.4 L985.8,405.9 L987.8,406.4 L989.8,406.8 L991.8,407.2 L993.8,407.6 L995.8,407.9 L997.8,408.2 L999.8,408.5 L1001.8,408.7 L1003.8,409.0 L1005.8,409.2 L1007.8,409.4 L1009.8,409.6 L1011.8,409.8 L1013.8,410.0 L1015.8,410.1 L1017.8,410.3 L1019.8,410.4 L1021.8,410.6 L1023.8,410.7 L1025.8,410.9 L1027.8,411.0 L1029.8,411.1 L1031.8,411.2 L1033.8,411.3 L1035.8,411.5 L1037.8,411.6 L1039.8,411.7 L1041.8,411.8 L1043.8,411.9 L1045.8,412.0 L1047.8,412.1 L1049.8,412.2 L1051.8,412.2 L1053.8,412.3 L1055.8,412.4 L1057.8,412.4 L1059.8,412.5 L1061.8,412.6 L1063.8,412.6 L1065.8,412.7 L1067.8,412.7 L1069.8,412.8 L1071.8,412.8 L1073.8,412.9 L1075.8,412.9 L1077.8,413.0 L1079.8,413.0 L1081.8,413.1 L1083.8,413.1 L1085.8,413.2 L1087.8,413.2 L1089.8,413.2 L1091.8,413.3 L1093.8,413.3 L1095.8,413.4 L1097.8,413.4 L1099.8,413.4 L1101.8,413.5 L1103.8,413.5 L1105.8,413.5 L1107.8,413.6 L1109.8,413.6 L1111.8,413.6 L1113.8,413.6 L1115.8,413.7 L1117.8,413.7 L1119.8,413.7 L1121.8,413.8 L1123.8,413.8 L1125.8,413.8 L1127.8,413.8 L1129.8,413.8 L1131.8,413.9 L1133.8,413.9 L1135.8,413.9 L1137.8,413.9 L1139.8,413.9 L1141.8,414.0 L1143.8,414.0 L1145.8,414.0 L1147.8,414.0 L1149.8,414.0 L1151.8,414.1 L1153.8,414.1 L1155.8,414.1 L1157.8,414.1 L1159.8,414.1 L1161.8,414.1 L1163.8,414.1 L1165.8,414.2 L1167.8,414.2 L1169.8,414.2 L1171.8,414.2 L1173.8,414.2 L1175.8,414.2 L1177.8,414.2 L1179.8,414.2 L1181.8,414.2 L1183.8,414.3 L1185.8,414.3 L1187.8,414.3 L1189.8,414.3 L1191.8,414.3 L1193.8,414.3 L1195.8,414.3 L1197.8,414.3 L1199.8,414.3 L1201.8,414.3 L1203.8,414.3 L1205.8,414.4 L1207.8,414.4 L1209.8,414.4 L1211.8,414.4 L1213.8,414.4 L1215.8,414.4 L1217.8,414.4 L1219.8,414.4 L1221.8,414.4 L1223.8,414.4 L1225.8,414.4 L1227.8,414.4 L1229.8,414.4 L1231.8,414.4 L1233.8,414.4 L1235.8,414.4 L1237.8,414.4 L1239.8,414.4 L1241.8,414.4 L1243.8,414.4 L1245.8,414.4 L1247.8,414.4 L1249.8,414.4 L1251.8,414.5 L1253.8,414.5 L1255.8,414.5 L1257.8,414.5 L1259.8,414.5 L1261.8,414.5 L1263.8,414.5 L1265.8,414.5 L1267.8,414.5 L1269.8,414.5" stroke="#3a3a3a" stroke-width="1.9" stroke-dasharray="2,2.6" fill="none"/>
<path d="M266.8,335.3 L268.8,335.3 L270.8,335.3 L272.8,335.3 L274.8,335.2 L276.8,335.2 L278.8,335.2 L280.8,335.2 L282.8,335.2 L284.8,335.2 L286.8,335.2 L288.8,335.1 L290.8,335.1 L292.8,335.1 L294.8,335.1 L296.8,335.1 L298.8,335.1 L300.8,335.1 L302.8,335.0 L304.8,335.0 L306.8,335.0 L308.8,335.0 L310.8,335.0 L312.8,335.0 L314.8,335.0 L316.8,334.9 L318.8,334.9 L320.8,334.9 L322.8,334.9 L324.8,334.9 L326.8,334.9 L328.8,334.9 L330.8,334.9 L332.8,334.8 L334.8,334.8 L336.8,334.8 L338.8,334.8 L340.8,334.8 L342.8,334.8 L344.8,334.8 L346.8,334.8 L348.8,334.8 L350.8,334.8 L352.8,334.8 L354.8,334.8 L356.8,334.7 L358.8,334.7 L360.8,334.7 L362.8,334.7 L364.8,334.7 L366.8,334.7 L368.8,334.7 L370.8,334.7 L372.8,334.7 L374.8,334.7 L376.8,334.7 L378.8,334.7 L380.8,334.7 L382.8,334.7 L384.8,334.7 L386.8,334.7 L388.8,334.7 L390.8,334.7 L392.8,334.8 L394.8,334.8 L396.8,334.8 L398.8,334.8 L400.8,334.8 L402.8,334.8 L404.8,334.8 L406.8,334.8 L408.8,334.8 L410.8,334.8 L412.8,334.8 L414.8,334.8 L416.8,334.8 L418.8,334.8 L420.8,334.9 L422.8,334.9 L424.8,334.9 L426.8,334.9 L428.8,334.9 L430.8,334.9 L432.8,334.9 L434.8,334.9 L436.8,334.9 L438.8,334.9 L440.8,334.9 L442.8,334.9 L444.8,334.9 L446.8,334.9 L448.8,335.0 L450.8,335.0 L452.8,335.0 L454.8,335.0 L456.8,335.0 L458.8,335.0 L460.8,335.0 L462.8,335.0 L464.8,335.0 L466.8,335.0 L468.8,335.0 L470.8,335.0 L472.8,335.0 L474.8,335.0 L476.8,335.0 L478.8,335.0 L480.8,335.0 L482.8,335.0 L484.8,335.0 L486.8,335.0 L488.8,335.0 L490.8,335.0 L492.8,334.9 L494.8,334.9 L496.8,334.9 L498.8,334.9 L500.8,334.9 L502.8,334.9 L504.8,334.9 L506.8,334.9 L508.8,334.9 L510.8,334.9 L512.8,334.8 L514.8,334.8 L516.8,334.8 L518.8,334.8 L520.8,334.8 L522.8,334.7 L524.8,334.7 L526.8,334.6 L528.8,334.6 L530.8,334.5 L532.8,334.4 L534.8,334.3 L536.8,334.2 L538.8,334.1 L540.8,334.0 L542.8,333.8 L544.8,333.6 L546.8,333.3 L548.8,333.1 L550.8,332.7 L552.8,332.4 L554.8,332.0 L556.8,331.5 L558.8,330.9 L560.8,330.3 L562.8,329.6 L564.8,328.8 L566.8,327.9 L568.8,326.9 L570.8,325.7 L572.8,324.5 L574.8,323.0 L576.8,321.5 L578.8,319.7 L580.8,317.8 L582.8,315.7 L584.8,313.4 L586.8,310.9 L588.8,308.2 L590.8,305.2 L592.8,302.0 L594.8,298.6 L596.8,294.9 L598.8,291.0 L600.8,286.8 L602.8,282.3 L604.8,277.6 L606.8,272.6 L608.8,267.4 L610.8,262.0 L612.8,256.3 L614.8,250.4 L616.8,244.3 L618.8,238.1 L620.8,231.6 L622.8,225.1 L624.8,218.5 L626.8,211.8 L628.8,205.0 L630.8,198.3 L632.8,191.6 L634.8,185.0 L636.8,178.6 L638.8,172.3 L640.8,166.2 L642.8,160.5 L644.8,155.1 L646.8,150.0 L648.8,145.4 L650.8,141.3 L652.8,137.8 L654.8,134.8 L656.8,132.5 L658.8,130.8 L660.8,129.8 L662.8,129.5 L664.8,129.9 L666.8,131.0 L668.8,132.8 L670.8,135.3 L672.8,138.4 L674.8,142.2 L676.8,146.5 L678.8,151.4 L680.8,156.7 L682.8,162.5 L684.8,168.7 L686.8,175.3 L688.8,182.1 L690.8,189.1 L692.8,196.4 L694.8,203.8 L696.8,211.2 L698.8,218.7 L700.8,226.2 L702.8,233.7 L704.8,241.1 L706.8,248.4 L708.8,255.6 L710.8,262.6 L712.8,269.5 L714.8,276.1 L716.8,282.5 L718.8,288.7 L720.8,294.6 L722.8,300.3 L724.8,305.7 L726.8,310.9 L728.8,315.8 L730.8,320.4 L732.8,324.8 L734.8,328.9 L736.8,332.8 L738.8,336.4 L740.8,339.7 L742.8,342.9 L744.8,345.8 L746.8,348.5 L748.8,351.1 L750.8,353.4 L752.8,355.6 L754.8,357.6 L756.8,359.5 L758.8,361.2 L760.8,362.8 L762.8,364.2 L764.8,365.6 L766.8,366.9 L768.8,368.1 L770.8,369.2 L772.8,370.2 L774.8,371.1 L776.8,372.0 L778.8,372.9 L780.8,373.7 L782.8,374.5 L784.8,375.2 L786.8,375.9 L788.8,376.5 L790.8,377.2 L792.8,377.8 L794.8,378.4 L796.8,379.0 L798.8,379.6 L800.8,380.2 L802.8,380.7 L804.8,381.3 L806.8,381.8 L808.8,382.4 L810.8,382.9 L812.8,383.5 L814.8,384.0 L816.8,384.6 L818.8,385.1 L820.8,385.7 L822.8,386.2 L824.8,386.8 L826.8,387.4 L828.8,387.9 L830.8,388.5 L832.8,389.1 L834.8,389.7 L836.8,390.3 L838.8,390.9 L840.8,391.6 L842.8,392.2 L844.8,392.8 L846.8,393.5 L848.8,394.1 L850.8,394.7 L852.8,395.3 L854.8,396.0 L856.8,396.6 L858.8,397.2 L860.8,397.8 L862.8,398.4 L864.8,399.0 L866.8,399.6 L868.8,400.2 L870.8,400.8 L872.8,401.4 L874.8,402.0 L876.8,402.6 L878.8,403.1 L880.8,403.6 L882.8,404.2 L884.8,404.7 L886.8,405.2 L888.8,405.6 L890.8,406.1 L892.8,406.5 L894.8,407.0 L896.8,407.4 L898.8,407.8 L900.8,408.2 L902.8,408.5 L904.8,408.9 L906.8,409.2 L908.8,409.5 L910.8,409.8 L912.8,410.1 L914.8,410.3 L916.8,410.6 L918.8,410.8 L920.8,411.0 L922.8,411.2 L924.8,411.4 L926.8,411.6 L928.8,411.8 L930.8,411.9 L932.8,412.1 L934.8,412.2 L936.8,412.4 L938.8,412.5 L940.8,412.6 L942.8,412.7 L944.8,412.8 L946.8,412.9 L948.8,413.0 L950.8,413.1 L952.8,413.2 L954.8,413.2 L956.8,413.3 L958.8,413.4 L960.8,413.4 L962.8,413.5 L964.8,413.6 L966.8,413.6 L968.8,413.7 L970.8,413.7 L972.8,413.8 L974.8,413.8 L976.8,413.9 L978.8,413.9 L980.8,414.0 L982.8,414.0 L984.8,414.1 L986.8,414.1 L988.8,414.1 L990.8,414.2 L992.8,414.2 L994.8,414.2 L996.8,414.3 L998.8,414.3 L1000.8,414.4 L1002.8,414.4 L1004.8,414.4 L1006.8,414.5 L1008.8,414.5 L1010.8,414.5 L1012.8,414.6 L1014.8,414.6 L1016.8,414.6 L1018.8,414.6 L1020.8,414.7 L1022.8,414.7 L1024.8,414.7 L1026.8,414.8 L1028.8,414.8 L1030.8,414.8 L1032.8,414.8 L1034.8,414.9 L1036.8,414.9 L1038.8,414.9 L1040.8,415.0 L1042.8,415.0 L1044.8,415.0 L1046.8,415.0 L1048.8,415.1 L1050.8,415.1 L1052.8,415.1 L1054.8,415.1 L1056.8,415.1 L1058.8,415.1 L1060.8,415.1 L1062.8,415.1" stroke="#3a3a3a" stroke-width="1.9" stroke-dasharray="2,2.6" fill="none"/>
<g fill="#d82229"><circle cx="66.0" cy="347.9" r="2.8"/><circle cx="68.5" cy="340.7" r="2.8"/><circle cx="71.0" cy="340.9" r="2.8"/><circle cx="73.5" cy="339.0" r="2.8"/><circle cx="76.0" cy="345.1" r="2.8"/><circle cx="78.5" cy="335.0" r="2.8"/><circle cx="81.0" cy="347.6" r="2.8"/><circle cx="83.5" cy="339.6" r="2.8"/><circle cx="86.0" cy="342.9" r="2.8"/><circle cx="88.5" cy="341.0" r="2.8"/><circle cx="91.0" cy="346.3" r="2.8"/><circle cx="93.5" cy="335.1" r="2.8"/><circle cx="96.0" cy="340.5" r="2.8"/><circle cx="98.5" cy="340.2" r="2.8"/><circle cx="101.0" cy="344.8" r="2.8"/><circle cx="103.5" cy="337.6" r="2.8"/><circle cx="106.0" cy="340.3" r="2.8"/><circle cx="108.5" cy="337.9" r="2.8"/><circle cx="111.0" cy="340.6" r="2.8"/><circle cx="113.5" cy="342.1" r="2.8"/><circle cx="116.0" cy="336.6" r="2.8"/><circle cx="118.5" cy="343.4" r="2.8"/><circle cx="121.0" cy="342.5" r="2.8"/><circle cx="123.5" cy="341.0" r="2.8"/><circle cx="126.0" cy="342.1" r="2.8"/><circle cx="128.5" cy="336.9" r="2.8"/><circle cx="131.0" cy="338.4" r="2.8"/><circle cx="133.5" cy="335.7" r="2.8"/><circle cx="136.0" cy="337.6" r="2.8"/><circle cx="138.5" cy="339.9" r="2.8"/><circle cx="141.0" cy="335.9" r="2.8"/><circle cx="143.5" cy="336.6" r="2.8"/><circle cx="146.0" cy="335.5" r="2.8"/><circle cx="148.5" cy="334.8" r="2.8"/><circle cx="151.0" cy="335.1" r="2.8"/><circle cx="153.5" cy="337.0" r="2.8"/><circle cx="156.0" cy="333.3" r="2.8"/><circle cx="158.5" cy="337.3" r="2.8"/><circle cx="161.0" cy="341.6" r="2.8"/><circle cx="163.5" cy="338.5" r="2.8"/><circle cx="166.0" cy="335.3" r="2.8"/><circle cx="168.5" cy="332.9" r="2.8"/><circle cx="171.0" cy="333.2" r="2.8"/><circle cx="173.5" cy="340.5" r="2.8"/><circle cx="176.0" cy="335.2" r="2.8"/><circle cx="178.5" cy="332.8" r="2.8"/><circle cx="181.0" cy="335.2" r="2.8"/><circle cx="183.5" cy="340.9" r="2.8"/><circle cx="186.0" cy="334.5" r="2.8"/><circle cx="188.5" cy="335.8" r="2.8"/><circle cx="191.0" cy="334.6" r="2.8"/><circle cx="193.5" cy="332.4" r="2.8"/><circle cx="196.0" cy="329.7" r="2.8"/><circle cx="198.5" cy="331.9" r="2.8"/><circle cx="201.0" cy="332.2" r="2.8"/><circle cx="203.5" cy="334.6" r="2.8"/><circle cx="206.0" cy="335.4" r="2.8"/><circle cx="208.5" cy="335.6" r="2.8"/><circle cx="211.0" cy="333.6" r="2.8"/><circle cx="213.5" cy="335.4" r="2.8"/><circle cx="216.0" cy="330.3" r="2.8"/><circle cx="218.5" cy="336.4" r="2.8"/><circle cx="221.0" cy="334.1" r="2.8"/><circle cx="223.5" cy="331.5" r="2.8"/><circle cx="226.0" cy="333.9" r="2.8"/><circle cx="228.5" cy="332.1" r="2.8"/><circle cx="231.0" cy="335.8" r="2.8"/><circle cx="233.5" cy="336.9" r="2.8"/><circle cx="236.0" cy="338.9" r="2.8"/><circle cx="238.5" cy="327.9" r="2.8"/><circle cx="241.0" cy="327.7" r="2.8"/><circle cx="243.5" cy="330.5" r="2.8"/><circle cx="246.0" cy="332.5" r="2.8"/><circle cx="248.5" cy="334.6" r="2.8"/><circle cx="251.0" cy="332.8" r="2.8"/><circle cx="253.5" cy="325.6" r="2.8"/><circle cx="256.0" cy="330.8" r="2.8"/><circle cx="258.5" cy="334.3" r="2.8"/><circle cx="261.0" cy="332.4" r="2.8"/><circle cx="263.5" cy="333.9" r="2.8"/><circle cx="266.0" cy="330.8" r="2.8"/><circle cx="268.5" cy="330.8" r="2.8"/><circle cx="271.0" cy="331.9" r="2.8"/><circle cx="273.5" cy="332.5" r="2.8"/><circle cx="276.0" cy="331.8" r="2.8"/><circle cx="278.5" cy="331.4" r="2.8"/><circle cx="281.0" cy="328.9" r="2.8"/><circle cx="283.5" cy="332.0" r="2.8"/><circle cx="286.0" cy="331.1" r="2.8"/><circle cx="288.5" cy="334.1" r="2.8"/><circle cx="291.0" cy="334.1" r="2.8"/><circle cx="293.5" cy="330.9" r="2.8"/><circle cx="296.0" cy="329.0" r="2.8"/><circle cx="298.5" cy="328.0" r="2.8"/><circle cx="301.0" cy="331.1" r="2.8"/><circle cx="303.5" cy="329.8" r="2.8"/><circle cx="306.0" cy="328.2" r="2.8"/><circle cx="308.5" cy="329.2" r="2.8"/><circle cx="311.0" cy="326.9" r="2.8"/><circle cx="313.5" cy="330.6" r="2.8"/><circle cx="316.0" cy="326.8" r="2.8"/><circle cx="318.5" cy="331.5" r="2.8"/><circle cx="321.0" cy="328.7" r="2.8"/><circle cx="323.5" cy="328.9" r="2.8"/><circle cx="326.0" cy="323.4" r="2.8"/><circle cx="328.5" cy="326.8" r="2.8"/><circle cx="331.0" cy="328.1" r="2.8"/><circle cx="333.5" cy="322.5" r="2.8"/><circle cx="336.0" cy="324.1" r="2.8"/><circle cx="338.5" cy="324.5" r="2.8"/><circle cx="341.0" cy="319.8" r="2.8"/><circle cx="343.5" cy="324.3" r="2.8"/><circle cx="346.0" cy="325.4" r="2.8"/><circle cx="348.5" cy="319.6" r="2.8"/><circle cx="351.0" cy="322.7" r="2.8"/><circle cx="353.5" cy="317.0" r="2.8"/><circle cx="356.0" cy="320.2" r="2.8"/><circle cx="358.5" cy="314.8" r="2.8"/><circle cx="361.0" cy="322.4" r="2.8"/><circle cx="363.5" cy="319.6" r="2.8"/><circle cx="366.0" cy="317.6" r="2.8"/><circle cx="368.5" cy="314.6" r="2.8"/><circle cx="371.0" cy="320.1" r="2.8"/><circle cx="373.5" cy="321.4" r="2.8"/><circle cx="376.0" cy="309.2" r="2.8"/><circle cx="378.5" cy="317.8" r="2.8"/><circle cx="381.0" cy="318.2" r="2.8"/><circle cx="383.5" cy="313.6" r="2.8"/><circle cx="386.0" cy="308.3" r="2.8"/><circle cx="388.5" cy="313.8" r="2.8"/><circle cx="391.0" cy="309.9" r="2.8"/><circle cx="393.5" cy="308.0" r="2.8"/><circle cx="396.0" cy="305.4" r="2.8"/><circle cx="398.5" cy="310.1" r="2.8"/><circle cx="401.0" cy="310.1" r="2.8"/><circle cx="403.5" cy="305.0" r="2.8"/><circle cx="406.0" cy="307.5" r="2.8"/><circle cx="408.5" cy="301.7" r="2.8"/><circle cx="411.0" cy="306.7" r="2.8"/><circle cx="413.5" cy="303.7" r="2.8"/><circle cx="416.0" cy="302.2" r="2.8"/><circle cx="418.5" cy="301.8" r="2.8"/><circle cx="421.0" cy="303.9" r="2.8"/><circle cx="423.5" cy="302.9" r="2.8"/><circle cx="426.0" cy="301.6" r="2.8"/><circle cx="428.5" cy="299.8" r="2.8"/><circle cx="431.0" cy="299.1" r="2.8"/><circle cx="433.5" cy="300.0" r="2.8"/><circle cx="436.0" cy="298.4" r="2.8"/><circle cx="438.5" cy="299.1" r="2.8"/><circle cx="441.0" cy="295.7" r="2.8"/><circle cx="443.5" cy="289.0" r="2.8"/><circle cx="446.0" cy="298.1" r="2.8"/><circle cx="448.5" cy="300.6" r="2.8"/><circle cx="451.0" cy="294.9" r="2.8"/><circle cx="453.5" cy="292.7" r="2.8"/><circle cx="456.0" cy="291.8" r="2.8"/><circle cx="458.5" cy="291.1" r="2.8"/><circle cx="461.0" cy="290.6" r="2.8"/><circle cx="463.5" cy="286.6" r="2.8"/><circle cx="466.0" cy="287.4" r="2.8"/><circle cx="468.5" cy="285.1" r="2.8"/><circle cx="471.0" cy="287.6" r="2.8"/><circle cx="473.5" cy="285.6" r="2.8"/><circle cx="476.0" cy="287.1" r="2.8"/><circle cx="478.5" cy="284.6" r="2.8"/><circle cx="481.0" cy="286.9" r="2.8"/><circle cx="483.5" cy="283.9" r="2.8"/><circle cx="486.0" cy="288.1" r="2.8"/><circle cx="488.5" cy="276.1" r="2.8"/><circle cx="491.0" cy="278.1" r="2.8"/><circle cx="493.5" cy="280.8" r="2.8"/><circle cx="496.0" cy="283.5" r="2.8"/><circle cx="498.5" cy="274.5" r="2.8"/><circle cx="501.0" cy="273.6" r="2.8"/><circle cx="503.5" cy="271.3" r="2.8"/><circle cx="506.0" cy="273.6" r="2.8"/><circle cx="508.5" cy="267.5" r="2.8"/><circle cx="511.0" cy="268.0" r="2.8"/><circle cx="513.5" cy="263.3" r="2.8"/><circle cx="516.0" cy="258.6" r="2.8"/><circle cx="518.5" cy="260.2" r="2.8"/><circle cx="521.0" cy="258.5" r="2.8"/><circle cx="523.5" cy="258.1" r="2.8"/><circle cx="526.0" cy="252.2" r="2.8"/><circle cx="528.5" cy="248.4" r="2.8"/><circle cx="531.0" cy="248.7" r="2.8"/><circle cx="533.5" cy="245.0" r="2.8"/><circle cx="536.0" cy="242.2" r="2.8"/><circle cx="538.5" cy="238.3" r="2.8"/><circle cx="541.0" cy="238.2" r="2.8"/><circle cx="543.5" cy="233.1" r="2.8"/><circle cx="546.0" cy="233.7" r="2.8"/><circle cx="548.5" cy="228.8" r="2.8"/><circle cx="551.0" cy="224.8" r="2.8"/><circle cx="553.5" cy="216.4" r="2.8"/><circle cx="556.0" cy="218.9" r="2.8"/><circle cx="558.5" cy="215.6" r="2.8"/><circle cx="561.0" cy="213.7" r="2.8"/><circle cx="563.5" cy="211.5" r="2.8"/><circle cx="566.0" cy="205.0" r="2.8"/><circle cx="568.5" cy="204.6" r="2.8"/><circle cx="571.0" cy="198.3" r="2.8"/><circle cx="573.5" cy="201.0" r="2.8"/><circle cx="576.0" cy="190.3" r="2.8"/><circle cx="578.5" cy="186.3" r="2.8"/><circle cx="581.0" cy="183.5" r="2.8"/><circle cx="583.5" cy="182.2" r="2.8"/><circle cx="586.0" cy="178.4" r="2.8"/><circle cx="588.5" cy="181.7" r="2.8"/><circle cx="591.0" cy="173.0" r="2.8"/><circle cx="593.5" cy="166.9" r="2.8"/><circle cx="596.0" cy="168.5" r="2.8"/><circle cx="598.5" cy="160.7" r="2.8"/><circle cx="601.0" cy="155.3" r="2.8"/><circle cx="603.5" cy="156.1" r="2.8"/><circle cx="606.0" cy="151.6" r="2.8"/><circle cx="608.5" cy="145.0" r="2.8"/><circle cx="611.0" cy="144.7" r="2.8"/><circle cx="613.5" cy="137.3" r="2.8"/><circle cx="616.0" cy="136.2" r="2.8"/><circle cx="618.5" cy="129.7" r="2.8"/><circle cx="621.0" cy="127.8" r="2.8"/><circle cx="623.5" cy="120.3" r="2.8"/><circle cx="626.0" cy="112.3" r="2.8"/><circle cx="628.5" cy="114.1" r="2.8"/><circle cx="631.0" cy="101.2" r="2.8"/><circle cx="633.5" cy="95.8" r="2.8"/><circle cx="636.0" cy="88.5" r="2.8"/><circle cx="638.5" cy="83.7" r="2.8"/><circle cx="641.0" cy="79.5" r="2.8"/><circle cx="643.5" cy="75.3" r="2.8"/><circle cx="646.0" cy="73.0" r="2.8"/><circle cx="648.5" cy="73.2" r="2.8"/><circle cx="651.0" cy="67.1" r="2.8"/><circle cx="653.5" cy="63.3" r="2.8"/><circle cx="656.0" cy="61.7" r="2.8"/><circle cx="658.5" cy="60.5" r="2.8"/><circle cx="661.0" cy="56.5" r="2.8"/><circle cx="663.5" cy="59.8" r="2.8"/><circle cx="666.0" cy="54.5" r="2.8"/><circle cx="668.5" cy="53.7" r="2.8"/><circle cx="671.0" cy="55.8" r="2.8"/><circle cx="673.5" cy="54.7" r="2.8"/><circle cx="676.0" cy="58.4" r="2.8"/><circle cx="678.5" cy="64.9" r="2.8"/><circle cx="681.0" cy="68.9" r="2.8"/><circle cx="683.5" cy="72.1" r="2.8"/><circle cx="686.0" cy="83.3" r="2.8"/><circle cx="688.5" cy="83.3" r="2.8"/><circle cx="691.0" cy="92.9" r="2.8"/><circle cx="693.5" cy="101.0" r="2.8"/><circle cx="696.0" cy="103.5" r="2.8"/><circle cx="698.5" cy="122.2" r="2.8"/><circle cx="701.0" cy="127.4" r="2.8"/><circle cx="703.5" cy="133.3" r="2.8"/><circle cx="706.0" cy="148.9" r="2.8"/><circle cx="708.5" cy="154.3" r="2.8"/><circle cx="711.0" cy="162.3" r="2.8"/><circle cx="713.5" cy="168.0" r="2.8"/><circle cx="716.0" cy="177.2" r="2.8"/><circle cx="718.5" cy="180.7" r="2.8"/><circle cx="721.0" cy="192.9" r="2.8"/><circle cx="723.5" cy="197.5" r="2.8"/><circle cx="726.0" cy="205.0" r="2.8"/><circle cx="728.5" cy="212.8" r="2.8"/><circle cx="731.0" cy="215.3" r="2.8"/><circle cx="733.5" cy="219.0" r="2.8"/><circle cx="736.0" cy="222.0" r="2.8"/><circle cx="738.5" cy="221.9" r="2.8"/><circle cx="741.0" cy="226.8" r="2.8"/><circle cx="743.5" cy="228.4" r="2.8"/><circle cx="746.0" cy="226.3" r="2.8"/><circle cx="748.5" cy="225.7" r="2.8"/><circle cx="751.0" cy="220.5" r="2.8"/><circle cx="753.5" cy="218.9" r="2.8"/><circle cx="756.0" cy="215.7" r="2.8"/><circle cx="758.5" cy="219.5" r="2.8"/><circle cx="761.0" cy="213.6" r="2.8"/><circle cx="763.5" cy="214.2" r="2.8"/><circle cx="766.0" cy="206.1" r="2.8"/><circle cx="768.5" cy="203.5" r="2.8"/><circle cx="771.0" cy="201.2" r="2.8"/><circle cx="773.5" cy="199.5" r="2.8"/><circle cx="776.0" cy="194.1" r="2.8"/><circle cx="778.5" cy="190.9" r="2.8"/><circle cx="781.0" cy="186.9" r="2.8"/><circle cx="783.5" cy="183.3" r="2.8"/><circle cx="786.0" cy="176.6" r="2.8"/><circle cx="788.5" cy="175.4" r="2.8"/><circle cx="791.0" cy="170.8" r="2.8"/><circle cx="793.5" cy="167.0" r="2.8"/><circle cx="796.0" cy="163.8" r="2.8"/><circle cx="798.5" cy="156.5" r="2.8"/><circle cx="801.0" cy="152.6" r="2.8"/><circle cx="803.5" cy="146.7" r="2.8"/><circle cx="806.0" cy="142.9" r="2.8"/><circle cx="808.5" cy="139.0" r="2.8"/><circle cx="811.0" cy="130.3" r="2.8"/><circle cx="813.5" cy="128.7" r="2.8"/><circle cx="816.0" cy="126.7" r="2.8"/><circle cx="818.5" cy="113.5" r="2.8"/><circle cx="821.0" cy="110.0" r="2.8"/><circle cx="823.5" cy="105.5" r="2.8"/><circle cx="826.0" cy="102.5" r="2.8"/><circle cx="828.5" cy="102.3" r="2.8"/><circle cx="831.0" cy="94.5" r="2.8"/><circle cx="833.5" cy="89.5" r="2.8"/><circle cx="836.0" cy="89.1" r="2.8"/><circle cx="838.5" cy="82.9" r="2.8"/><circle cx="841.0" cy="83.4" r="2.8"/><circle cx="843.5" cy="79.0" r="2.8"/><circle cx="846.0" cy="79.3" r="2.8"/><circle cx="848.5" cy="73.4" r="2.8"/><circle cx="851.0" cy="80.3" r="2.8"/><circle cx="853.5" cy="73.9" r="2.8"/><circle cx="856.0" cy="73.1" r="2.8"/><circle cx="858.5" cy="71.3" r="2.8"/><circle cx="861.0" cy="67.4" r="2.8"/><circle cx="863.5" cy="64.9" r="2.8"/><circle cx="866.0" cy="64.9" r="2.8"/><circle cx="868.5" cy="60.6" r="2.8"/><circle cx="871.0" cy="61.5" r="2.8"/><circle cx="873.5" cy="61.7" r="2.8"/><circle cx="876.0" cy="70.5" r="2.8"/><circle cx="878.5" cy="77.8" r="2.8"/><circle cx="881.0" cy="82.8" r="2.8"/><circle cx="883.5" cy="98.9" r="2.8"/><circle cx="886.0" cy="108.9" r="2.8"/><circle cx="888.5" cy="126.2" r="2.8"/><circle cx="891.0" cy="139.6" r="2.8"/><circle cx="893.5" cy="156.7" r="2.8"/><circle cx="896.0" cy="168.4" r="2.8"/><circle cx="898.5" cy="187.3" r="2.8"/><circle cx="901.0" cy="207.7" r="2.8"/><circle cx="903.5" cy="219.9" r="2.8"/><circle cx="906.0" cy="233.0" r="2.8"/><circle cx="908.5" cy="249.0" r="2.8"/><circle cx="911.0" cy="263.1" r="2.8"/><circle cx="913.5" cy="278.9" r="2.8"/><circle cx="916.0" cy="296.5" r="2.8"/><circle cx="918.5" cy="313.0" r="2.8"/><circle cx="921.0" cy="321.2" r="2.8"/><circle cx="923.5" cy="333.6" r="2.8"/><circle cx="926.0" cy="341.1" r="2.8"/><circle cx="928.5" cy="347.4" r="2.8"/><circle cx="931.0" cy="352.7" r="2.8"/><circle cx="933.5" cy="357.8" r="2.8"/><circle cx="936.0" cy="363.9" r="2.8"/><circle cx="938.5" cy="364.8" r="2.8"/><circle cx="941.0" cy="373.3" r="2.8"/><circle cx="943.5" cy="376.7" r="2.8"/><circle cx="946.0" cy="377.5" r="2.8"/><circle cx="948.5" cy="382.2" r="2.8"/><circle cx="951.0" cy="381.3" r="2.8"/><circle cx="953.5" cy="383.3" r="2.8"/><circle cx="956.0" cy="386.1" r="2.8"/><circle cx="958.5" cy="386.7" r="2.8"/><circle cx="961.0" cy="387.3" r="2.8"/><circle cx="963.5" cy="387.9" r="2.8"/><circle cx="966.0" cy="389.0" r="2.8"/><circle cx="968.5" cy="392.7" r="2.8"/><circle cx="971.0" cy="387.8" r="2.8"/><circle cx="973.5" cy="393.5" r="2.8"/><circle cx="976.0" cy="393.4" r="2.8"/><circle cx="978.5" cy="396.3" r="2.8"/><circle cx="981.0" cy="396.8" r="2.8"/><circle cx="983.5" cy="391.0" r="2.8"/><circle cx="986.0" cy="398.4" r="2.8"/><circle cx="988.5" cy="398.5" r="2.8"/><circle cx="991.0" cy="398.5" r="2.8"/><circle cx="993.5" cy="398.0" r="2.8"/><circle cx="996.0" cy="401.2" r="2.8"/><circle cx="998.5" cy="399.1" r="2.8"/><circle cx="1001.0" cy="404.0" r="2.8"/><circle cx="1003.5" cy="401.8" r="2.8"/><circle cx="1006.0" cy="405.3" r="2.8"/><circle cx="1008.5" cy="399.7" r="2.8"/><circle cx="1011.0" cy="398.1" r="2.8"/><circle cx="1013.5" cy="403.3" r="2.8"/><circle cx="1016.0" cy="403.9" r="2.8"/><circle cx="1018.5" cy="402.5" r="2.8"/><circle cx="1021.0" cy="399.6" r="2.8"/><circle cx="1023.5" cy="402.0" r="2.8"/><circle cx="1026.0" cy="404.3" r="2.8"/><circle cx="1028.5" cy="402.9" r="2.8"/><circle cx="1031.0" cy="403.2" r="2.8"/><circle cx="1033.5" cy="403.3" r="2.8"/><circle cx="1036.0" cy="402.0" r="2.8"/><circle cx="1038.5" cy="403.0" r="2.8"/><circle cx="1041.0" cy="401.4" r="2.8"/><circle cx="1043.5" cy="407.9" r="2.8"/><circle cx="1046.0" cy="403.6" r="2.8"/><circle cx="1048.5" cy="405.6" r="2.8"/><circle cx="1051.0" cy="402.8" r="2.8"/><circle cx="1053.5" cy="406.5" r="2.8"/><circle cx="1056.0" cy="401.3" r="2.8"/><circle cx="1058.5" cy="407.0" r="2.8"/><circle cx="1061.0" cy="405.2" r="2.8"/><circle cx="1063.5" cy="409.6" r="2.8"/><circle cx="1066.0" cy="402.9" r="2.8"/><circle cx="1068.5" cy="405.8" r="2.8"/><circle cx="1071.0" cy="406.4" r="2.8"/><circle cx="1073.5" cy="408.3" r="2.8"/><circle cx="1076.0" cy="405.0" r="2.8"/><circle cx="1078.5" cy="406.1" r="2.8"/><circle cx="1081.0" cy="401.8" r="2.8"/><circle cx="1083.5" cy="404.5" r="2.8"/><circle cx="1086.0" cy="407.1" r="2.8"/><circle cx="1088.5" cy="408.5" r="2.8"/><circle cx="1091.0" cy="405.8" r="2.8"/><circle cx="1093.5" cy="410.6" r="2.8"/><circle cx="1096.0" cy="410.0" r="2.8"/><circle cx="1098.5" cy="406.5" r="2.8"/><circle cx="1101.0" cy="401.8" r="2.8"/><circle cx="1103.5" cy="403.2" r="2.8"/><circle cx="1106.0" cy="405.2" r="2.8"/><circle cx="1108.5" cy="409.1" r="2.8"/><circle cx="1111.0" cy="407.5" r="2.8"/><circle cx="1113.5" cy="402.8" r="2.8"/><circle cx="1116.0" cy="406.6" r="2.8"/><circle cx="1118.5" cy="410.3" r="2.8"/><circle cx="1121.0" cy="406.4" r="2.8"/><circle cx="1123.5" cy="405.7" r="2.8"/><circle cx="1126.0" cy="411.3" r="2.8"/><circle cx="1128.5" cy="407.4" r="2.8"/><circle cx="1131.0" cy="406.4" r="2.8"/><circle cx="1133.5" cy="408.1" r="2.8"/><circle cx="1136.0" cy="407.4" r="2.8"/><circle cx="1138.5" cy="406.6" r="2.8"/><circle cx="1141.0" cy="409.9" r="2.8"/><circle cx="1143.5" cy="409.8" r="2.8"/><circle cx="1146.0" cy="409.2" r="2.8"/><circle cx="1148.5" cy="407.4" r="2.8"/><circle cx="1151.0" cy="410.0" r="2.8"/><circle cx="1153.5" cy="407.6" r="2.8"/><circle cx="1156.0" cy="408.7" r="2.8"/><circle cx="1158.5" cy="410.0" r="2.8"/><circle cx="1161.0" cy="409.6" r="2.8"/><circle cx="1163.5" cy="411.6" r="2.8"/><circle cx="1166.0" cy="409.0" r="2.8"/><circle cx="1168.5" cy="404.8" r="2.8"/><circle cx="1171.0" cy="405.9" r="2.8"/><circle cx="1173.5" cy="411.0" r="2.8"/><circle cx="1176.0" cy="407.7" r="2.8"/><circle cx="1178.5" cy="409.2" r="2.8"/><circle cx="1181.0" cy="406.8" r="2.8"/><circle cx="1183.5" cy="410.6" r="2.8"/><circle cx="1186.0" cy="407.9" r="2.8"/><circle cx="1188.5" cy="411.6" r="2.8"/><circle cx="1191.0" cy="407.7" r="2.8"/><circle cx="1193.5" cy="411.1" r="2.8"/><circle cx="1196.0" cy="410.3" r="2.8"/><circle cx="1198.5" cy="407.5" r="2.8"/><circle cx="1201.0" cy="411.2" r="2.8"/><circle cx="1203.5" cy="407.3" r="2.8"/><circle cx="1206.0" cy="407.5" r="2.8"/><circle cx="1208.5" cy="410.7" r="2.8"/><circle cx="1211.0" cy="408.0" r="2.8"/><circle cx="1213.5" cy="408.2" r="2.8"/><circle cx="1216.0" cy="408.7" r="2.8"/><circle cx="1218.5" cy="407.5" r="2.8"/><circle cx="1221.0" cy="411.6" r="2.8"/><circle cx="1223.5" cy="410.8" r="2.8"/><circle cx="1226.0" cy="409.5" r="2.8"/><circle cx="1228.5" cy="409.5" r="2.8"/><circle cx="1231.0" cy="410.7" r="2.8"/><circle cx="1233.5" cy="413.3" r="2.8"/><circle cx="1236.0" cy="411.6" r="2.8"/><circle cx="1238.5" cy="408.9" r="2.8"/><circle cx="1241.0" cy="411.5" r="2.8"/><circle cx="1243.5" cy="409.8" r="2.8"/><circle cx="1246.0" cy="409.7" r="2.8"/><circle cx="1248.5" cy="413.9" r="2.8"/><circle cx="1251.0" cy="409.4" r="2.8"/><circle cx="1253.5" cy="409.3" r="2.8"/><circle cx="1256.0" cy="406.4" r="2.8"/><circle cx="1258.5" cy="407.6" r="2.8"/><circle cx="1261.0" cy="411.3" r="2.8"/><circle cx="1263.5" cy="409.1" r="2.8"/><circle cx="1266.0" cy="411.5" r="2.8"/><circle cx="1268.5" cy="408.3" r="2.8"/></g>
<path d="M64.8,336.8 L66.8,336.8 L68.8,336.7 L70.8,336.7 L72.8,336.7 L74.8,336.7 L76.8,336.6 L78.8,336.6 L80.8,336.6 L82.8,336.6 L84.8,336.5 L86.8,336.5 L88.8,336.5 L90.8,336.5 L92.8,336.4 L94.8,336.4 L96.8,336.4 L98.8,336.3 L100.8,336.3 L102.8,336.3 L104.8,336.3 L106.8,336.2 L108.8,336.2 L110.8,336.2 L112.8,336.2 L114.8,336.1 L116.8,336.1 L118.8,336.1 L120.8,336.0 L122.8,336.0 L124.8,336.0 L126.8,336.0 L128.8,335.9 L130.8,335.9 L132.8,335.9 L134.8,335.8 L136.8,335.8 L138.8,335.8 L140.8,335.8 L142.8,335.7 L144.8,335.7 L146.8,335.7 L148.8,335.6 L150.8,335.6 L152.8,335.6 L154.8,335.6 L156.8,335.5 L158.8,335.5 L160.8,335.5 L162.8,335.4 L164.8,335.4 L166.8,335.4 L168.8,335.3 L170.8,335.3 L172.8,335.3 L174.8,335.3 L176.8,335.2 L178.8,335.2 L180.8,335.2 L182.8,335.1 L184.8,335.1 L186.8,335.1 L188.8,335.0 L190.8,335.0 L192.8,335.0 L194.8,334.9 L196.8,334.9 L198.8,334.9 L200.8,334.8 L202.8,334.8 L204.8,334.8 L206.8,334.7 L208.8,334.7 L210.8,334.7 L212.8,334.6 L214.8,334.6 L216.8,334.6 L218.8,334.5 L220.8,334.5 L222.8,334.5 L224.8,334.4 L226.8,334.4 L228.8,334.4 L230.8,334.3 L232.8,334.3 L234.8,334.2 L236.8,334.2 L238.8,334.2 L240.8,334.1 L242.8,334.1 L244.8,334.0 L246.8,334.0 L248.8,333.9 L250.8,333.9 L252.8,333.8 L254.8,333.8 L256.8,333.8 L258.8,333.7 L260.8,333.7 L262.8,333.6 L264.8,333.5 L266.8,333.5 L268.8,333.4 L270.8,333.4 L272.8,333.3 L274.8,333.2 L276.8,333.1 L278.8,333.1 L280.8,333.0 L282.8,332.9 L284.8,332.8 L286.8,332.7 L288.8,332.6 L290.8,332.5 L292.8,332.4 L294.8,332.2 L296.8,332.1 L298.8,331.9 L300.8,331.8 L302.8,331.6 L304.8,331.5 L306.8,331.3 L308.8,331.1 L310.8,330.9 L312.8,330.7 L314.8,330.5 L316.8,330.2 L318.8,330.0 L320.8,329.7 L322.8,329.4 L324.8,329.2 L326.8,328.9 L328.8,328.6 L330.8,328.2 L332.8,327.9 L334.8,327.5 L336.8,327.2 L338.8,326.8 L340.8,326.4 L342.8,326.0 L344.8,325.5 L346.8,325.1 L348.8,324.7 L350.8,324.2 L352.8,323.7 L354.8,323.2 L356.8,322.7 L358.8,322.2 L360.8,321.7 L362.8,321.2 L364.8,320.6 L366.8,320.1 L368.8,319.6 L370.8,319.0 L372.8,318.4 L374.8,317.9 L376.8,317.3 L378.8,316.7 L380.8,316.2 L382.8,315.6 L384.8,315.1 L386.8,314.5 L388.8,314.0 L390.8,313.4 L392.8,312.9 L394.8,312.4 L396.8,311.9 L398.8,311.4 L400.8,310.9 L402.8,310.4 L404.8,310.0 L406.8,309.6 L408.8,309.1 L410.8,308.7 L412.8,308.4 L414.8,308.0 L416.8,307.6 L418.8,307.3 L420.8,307.0 L422.8,306.7 L424.8,306.5 L426.8,306.2 L428.8,306.0 L430.8,305.7 L432.8,305.5 L434.8,305.3 L436.8,305.1 L438.8,305.0 L440.8,304.8 L442.8,304.6 L444.8,304.5 L446.8,304.3 L448.8,304.1 L450.8,303.9 L452.8,303.7 L454.8,303.5 L456.8,303.3 L458.8,303.1 L460.8,302.8 L462.8,302.5 L464.8,302.2 L466.8,301.8 L468.8,301.4 L470.8,301.0 L472.8,300.5 L474.8,299.9 L476.8,299.3 L478.8,298.7 L480.8,298.0 L482.8,297.2 L484.8,296.3 L486.8,295.4 L488.8,294.3 L490.8,293.3 L492.8,292.1 L494.8,290.8 L496.8,289.5 L498.8,288.1 L500.8,286.5 L502.8,284.9 L504.8,283.3 L506.8,281.5 L508.8,279.6 L510.8,277.7 L512.8,275.6 L514.8,273.5 L516.8,271.3 L518.8,269.0 L520.8,266.7 L522.8,264.2 L524.8,261.8 L526.8,259.2 L528.8,256.6 L530.8,253.9 L532.8,251.2 L534.8,248.4 L536.8,245.6 L538.8,242.8 L540.8,239.9 L542.8,237.0 L544.8,234.1 L546.8,231.2 L548.8,228.3 L550.8,225.4 L552.8,222.5 L554.8,219.6 L556.8,216.7 L558.8,213.9 L560.8,211.0 L562.8,208.2 L564.8,205.4 L566.8,202.7 L568.8,199.9 L570.8,197.2 L572.8,194.6 L574.8,191.9 L576.8,189.3 L578.8,186.6 L580.8,184.0 L582.8,181.3 L584.8,178.7 L586.8,176.0 L588.8,173.2 L590.8,170.4 L592.8,167.6 L594.8,164.7 L596.8,161.6 L598.8,158.5 L600.8,155.3 L602.8,151.9 L604.8,148.5 L606.8,144.9 L608.8,141.2 L610.8,137.3 L612.8,133.3 L614.8,129.2 L616.8,125.0 L618.8,120.7 L620.8,116.2 L622.8,111.7 L624.8,107.2 L626.8,102.6 L628.8,98.0 L630.8,93.5 L632.8,88.9 L634.8,84.5 L636.8,80.2 L638.8,76.1 L640.8,72.2 L642.8,68.5 L644.8,65.1 L646.8,62.1 L648.8,59.4 L650.8,57.2 L652.8,55.5 L654.8,54.3 L656.8,53.6 L658.8,53.5 L660.8,53.9 L662.8,55.0 L664.8,56.6 L666.8,58.9 L668.8,61.7 L670.8,65.1 L672.8,69.0 L674.8,73.4 L676.8,78.3 L678.8,83.5 L680.8,89.1 L682.8,95.0 L684.8,101.2 L686.8,107.5 L688.8,114.0 L690.8,120.6 L692.8,127.2 L694.8,133.8 L696.8,140.3 L698.8,146.7 L700.8,153.0 L702.8,159.1 L704.8,165.0 L706.8,170.6 L708.8,176.0 L710.8,181.1 L712.8,185.9 L714.8,190.3 L716.8,194.4 L718.8,198.2 L720.8,201.6 L722.8,204.7 L724.8,207.4 L726.8,209.8 L728.8,211.8 L730.8,213.5 L732.8,214.8 L734.8,215.9 L736.8,216.6 L738.8,217.1 L740.8,217.3 L742.8,217.2 L744.8,217.0 L746.8,216.5 L748.8,215.8 L750.8,215.0 L752.8,214.0 L754.8,212.9 L756.8,211.6 L758.8,210.3 L760.8,208.8 L762.8,207.3 L764.8,205.7 L766.8,204.1 L768.8,202.4 L770.8,200.6 L772.8,198.8 L774.8,197.0 L776.8,195.1 L778.8,193.2 L780.8,191.2 L782.8,189.2 L784.8,187.1 L786.8,184.9 L788.8,182.6 L790.8,180.1 L792.8,177.6 L794.8,174.9 L796.8,172.0 L798.8,169.0 L800.8,165.8 L802.8,162.4 L804.8,158.8 L806.8,154.9 L808.8,150.9 L810.8,146.6 L812.8,142.1 L814.8,137.4 L816.8,132.6 L818.8,127.5 L820.8,122.3 L822.8,116.9 L824.8,111.4 L826.8,105.9 L828.8,100.3 L830.8,94.7 L832.8,89.1 L834.8,83.6 L836.8,78.3 L838.8,73.2 L840.8,68.3 L842.8,63.8 L844.8,59.6 L846.8,55.9 L848.8,52.7 L850.8,50.0 L852.8,48.0 L854.8,46.6 L856.8,46.0 L858.8,46.2 L860.8,47.2 L862.8,49.0 L864.8,51.6 L866.8,55.1 L868.8,59.5 L870.8,64.6 L872.8,70.6 L874.8,77.3 L876.8,84.7 L878.8,92.7 L880.8,101.2 L882.8,110.3 L884.8,119.9 L886.8,129.8 L888.8,140.0 L890.8,150.4 L892.8,161.0 L894.8,171.8 L896.8,182.5 L898.8,193.3 L900.8,204.1 L902.8,214.7 L904.8,225.1 L906.8,235.4 L908.8,245.5 L910.8,255.3 L912.8,264.8 L914.8,274.0 L916.8,282.8 L918.8,291.3 L920.8,299.5 L922.8,307.3 L924.8,314.6 L926.8,321.6 L928.8,328.3 L930.8,334.5 L932.8,340.3 L934.8,345.8 L936.8,350.9 L938.8,355.7 L940.8,360.2 L942.8,364.3 L944.8,368.1 L946.8,371.6 L948.8,374.8 L950.8,377.7 L952.8,380.5 L954.8,382.9 L956.8,385.2 L958.8,387.3 L960.8,389.1 L962.8,390.9 L964.8,392.4 L966.8,393.8 L968.8,395.1 L970.8,396.3 L972.8,397.3 L974.8,398.3 L976.8,399.1 L978.8,399.9 L980.8,400.6 L982.8,401.3 L984.8,401.9 L986.8,402.4 L988.8,402.9 L990.8,403.4 L992.8,403.8 L994.8,404.2 L996.8,404.6 L998.8,404.9 L1000.8,405.3 L1002.8,405.5 L1004.8,405.8 L1006.8,406.1 L1008.8,406.3 L1010.8,406.6 L1012.8,406.8 L1014.8,407.0 L1016.8,407.2 L1018.8,407.4 L1020.8,407.6 L1022.8,407.8 L1024.8,408.0 L1026.8,408.1 L1028.8,408.3 L1030.8,408.5 L1032.8,408.6 L1034.8,408.8 L1036.8,408.9 L1038.8,409.1 L1040.8,409.2 L1042.8,409.3 L1044.8,409.5 L1046.8,409.6 L1048.8,409.7 L1050.8,409.8 L1052.8,409.9 L1054.8,410.0 L1056.8,410.1 L1058.8,410.2 L1060.8,410.3 L1062.8,410.4 L1064.8,410.5 L1066.8,410.5 L1068.8,410.6 L1070.8,410.7 L1072.8,410.8 L1074.8,410.8 L1076.8,410.9 L1078.8,411.0 L1080.8,411.1 L1082.8,411.1 L1084.8,411.2 L1086.8,411.2 L1088.8,411.3 L1090.8,411.4 L1092.8,411.4 L1094.8,411.5 L1096.8,411.5 L1098.8,411.6 L1100.8,411.6 L1102.8,411.7 L1104.8,411.7 L1106.8,411.8 L1108.8,411.8 L1110.8,411.9 L1112.8,411.9 L1114.8,412.0 L1116.8,412.0 L1118.8,412.1 L1120.8,412.1 L1122.8,412.2 L1124.8,412.2 L1126.8,412.2 L1128.8,412.3 L1130.8,412.3 L1132.8,412.3 L1134.8,412.4 L1136.8,412.4 L1138.8,412.4 L1140.8,412.5 L1142.8,412.5 L1144.8,412.5 L1146.8,412.6 L1148.8,412.6 L1150.8,412.6 L1152.8,412.7 L1154.8,412.7 L1156.8,412.7 L1158.8,412.7 L1160.8,412.8 L1162.8,412.8 L1164.8,412.8 L1166.8,412.9 L1168.8,412.9 L1170.8,412.9 L1172.8,412.9 L1174.8,412.9 L1176.8,413.0 L1178.8,413.0 L1180.8,413.0 L1182.8,413.0 L1184.8,413.1 L1186.8,413.1 L1188.8,413.1 L1190.8,413.1 L1192.8,413.1 L1194.8,413.1 L1196.8,413.2 L1198.8,413.2 L1200.8,413.2 L1202.8,413.2 L1204.8,413.2 L1206.8,413.2 L1208.8,413.3 L1210.8,413.3 L1212.8,413.3 L1214.8,413.3 L1216.8,413.3 L1218.8,413.3 L1220.8,413.3 L1222.8,413.4 L1224.8,413.4 L1226.8,413.4 L1228.8,413.4 L1230.8,413.4 L1232.8,413.4 L1234.8,413.4 L1236.8,413.4 L1238.8,413.5 L1240.8,413.5 L1242.8,413.5 L1244.8,413.5 L1246.8,413.5 L1248.8,413.5 L1250.8,413.5 L1252.8,413.5 L1254.8,413.5 L1256.8,413.5 L1258.8,413.6 L1260.8,413.6 L1262.8,413.6 L1264.8,413.6 L1266.8,413.6 L1268.8,413.6 L1269.8,413.6" stroke="#dd2630" stroke-width="3" fill="none"/>
<path d="M64.8,759.1 L66.8,759.0 L68.8,759.0 L70.8,758.9 L72.8,758.8 L74.8,758.7 L76.8,758.6 L78.8,758.6 L80.8,758.5 L82.8,758.4 L84.8,758.3 L86.8,758.3 L88.8,758.2 L90.8,758.1 L92.8,758.0 L94.8,758.0 L96.8,757.9 L98.8,757.8 L100.8,757.7 L102.8,757.7 L104.8,757.6 L106.8,757.5 L108.8,757.4 L110.8,757.4 L112.8,757.3 L114.8,757.2 L116.8,757.1 L118.8,757.1 L120.8,757.0 L122.8,756.9 L124.8,756.8 L126.8,756.7 L128.8,756.7 L130.8,756.6 L132.8,756.5 L134.8,756.4 L136.8,756.4 L138.8,756.3 L140.8,756.2 L142.8,756.1 L144.8,756.1 L146.8,756.0 L148.8,755.9 L150.8,755.8 L152.8,755.8 L154.8,755.7 L156.8,755.6 L158.8,755.5 L160.8,755.5 L162.8,755.4 L164.8,755.3 L166.8,755.2 L168.8,755.2 L170.8,755.1 L172.8,755.0 L174.8,754.9 L176.8,754.9 L178.8,754.8 L180.8,754.7 L182.8,754.6 L184.8,754.5 L186.8,754.5 L188.8,754.4 L190.8,754.3 L192.8,754.2 L194.8,754.2 L196.8,754.1 L198.8,754.0 L200.8,753.9 L202.8,753.9 L204.8,753.8 L206.8,753.7 L208.8,753.6 L210.8,753.6 L212.8,753.5 L214.8,753.4 L216.8,753.3 L218.8,753.3 L220.8,753.2 L222.8,753.1 L224.8,753.0 L226.8,753.0 L228.8,752.9 L230.8,752.8 L232.8,752.7 L234.8,752.7 L236.8,752.6 L238.8,752.5 L240.8,752.4 L242.8,752.4 L244.8,752.3 L246.8,752.2 L248.8,752.1 L250.8,752.1 L252.8,752.1 L254.8,752.0 L256.8,752.0 L258.8,752.0 L260.8,751.9 L262.8,751.9 L264.8,751.9 L266.8,751.9 L268.8,751.8 L270.8,751.8 L272.8,751.8 L274.8,751.7 L276.8,751.7 L278.8,751.7 L280.8,751.7 L282.8,751.6 L284.8,751.6 L286.8,751.6 L288.8,751.6 L290.8,751.5 L292.8,751.5 L294.8,751.5 L296.8,751.4 L298.8,751.4 L300.8,751.4 L302.8,751.4 L304.8,751.3 L306.8,751.3 L308.8,751.3 L310.8,751.3 L312.8,751.2 L314.8,751.2 L316.8,751.2 L318.8,751.2 L320.8,751.1 L322.8,751.1 L324.8,751.1 L326.8,751.1 L328.8,751.1 L330.8,751.0 L332.8,751.0 L334.8,751.0 L336.8,751.0 L338.8,751.0 L340.8,750.9 L342.8,750.9 L344.8,750.9 L346.8,750.9 L348.8,750.9 L350.8,750.8 L352.8,750.8 L354.8,750.8 L356.8,750.8 L358.8,750.8 L360.8,750.8 L362.8,750.8 L364.8,750.8 L366.8,750.7 L368.8,750.7 L370.8,750.7 L372.8,750.7 L374.8,750.7 L376.8,750.7 L378.8,750.7 L380.8,750.7 L382.8,750.7 L384.8,750.7 L386.8,750.7 L388.8,750.7 L390.8,750.7 L392.8,750.7 L394.8,750.7 L396.8,750.7 L398.8,750.7 L400.8,750.7 L402.8,750.7 L404.8,750.7 L406.8,750.7 L408.8,750.7 L410.8,750.7 L412.8,750.7 L414.8,750.7 L416.8,750.7 L418.8,750.7 L420.8,750.7 L422.8,750.7 L424.8,750.7 L426.8,750.7 L428.8,750.7 L430.8,750.8 L432.8,750.8 L434.8,750.8 L436.8,750.8 L438.8,750.8 L440.8,750.8 L442.8,750.8 L444.8,750.8 L446.8,750.8 L448.8,750.8 L450.8,750.9 L452.8,750.9 L454.8,751.0 L456.8,751.0 L458.8,751.1 L460.8,751.1 L462.8,751.2 L464.8,751.3 L466.8,751.3 L468.8,751.4 L470.8,751.4 L472.8,751.5 L474.8,751.6 L476.8,751.6 L478.8,751.7 L480.8,751.7 L482.8,751.8 L484.8,751.9 L486.8,751.9 L488.8,752.0 L490.8,752.1 L492.8,752.2 L494.8,752.2 L496.8,752.3 L498.8,752.4 L500.8,752.5 L502.8,752.5 L504.8,752.6 L506.8,752.7 L508.8,752.8 L510.8,752.9 L512.8,753.0 L514.8,753.1 L516.8,753.2 L518.8,753.3 L520.8,753.4 L522.8,753.5 L524.8,753.6 L526.8,753.7 L528.8,753.9 L530.8,754.0 L532.8,754.1 L534.8,754.3 L536.8,754.4 L538.8,754.5 L540.8,754.7 L542.8,754.8 L544.8,755.0 L546.8,755.1 L548.8,755.3 L550.8,755.5 L552.8,755.6 L554.8,755.8 L556.8,756.0 L558.8,756.1 L560.8,756.3 L562.8,756.5 L564.8,756.7 L566.8,756.9 L568.8,757.1 L570.8,757.3 L572.8,757.5 L574.8,757.7 L576.8,757.9 L578.8,758.1 L580.8,758.4 L582.8,758.6 L584.8,758.8 L586.8,759.1 L588.8,759.3 L590.8,759.5 L592.8,759.8 L594.8,760.0 L596.8,760.3 L598.8,760.5 L600.8,760.8 L602.8,761.1 L604.8,761.4 L606.8,761.7 L608.8,762.0 L610.8,762.3 L612.8,762.6 L614.8,762.9 L616.8,763.2 L618.8,763.6 L620.8,763.9 L622.8,764.3 L624.8,764.7 L626.8,765.1 L628.8,765.5 L630.8,765.9 L632.8,766.3 L634.8,766.7 L636.8,767.2 L638.8,767.6 L640.8,768.1 L642.8,768.5 L644.8,769.0 L646.8,769.5 L648.8,770.0 L650.8,770.5 L652.8,771.1 L654.8,771.6 L656.8,772.2 L658.8,772.8 L660.8,773.4 L662.8,773.9 L664.8,774.5 L666.8,775.1 L668.8,775.6 L670.8,776.1 L672.8,776.7 L674.8,777.2 L676.8,777.7 L678.8,778.2 L680.8,778.7 L682.8,779.2 L684.8,779.6 L686.8,780.1 L688.8,780.5 L690.8,780.9 L692.8,781.3 L694.8,781.7 L696.8,782.1 L698.8,782.5 L700.8,782.9 L702.8,783.2 L704.8,783.6 L706.8,783.9 L708.8,784.3 L710.8,784.6 L712.8,784.9 L714.8,785.2 L716.8,785.5 L718.8,785.8 L720.8,786.1 L722.8,786.4 L724.8,786.7 L726.8,787.0 L728.8,787.3 L730.8,787.6 L732.8,787.9 L734.8,788.2 L736.8,788.4 L738.8,788.7 L740.8,789.0 L742.8,789.3 L744.8,789.6 L746.8,789.9 L748.8,790.2 L750.8,790.5 L752.8,790.8 L754.8,791.1 L756.8,791.4 L758.8,791.7 L760.8,792.0 L762.8,792.4 L764.8,792.7 L766.8,793.0 L768.8,793.3 L770.8,793.6 L772.8,794.0 L774.8,794.3 L776.8,794.6 L778.8,795.0 L780.8,795.3 L782.8,795.7 L784.8,796.0 L786.8,796.4 L788.8,796.7 L790.8,797.1 L792.8,797.4 L794.8,797.8 L796.8,798.2 L798.8,798.5 L800.8,798.9 L802.8,799.3 L804.8,799.7 L806.8,800.1 L808.8,800.6 L810.8,801.0 L812.8,801.4 L814.8,801.9 L816.8,802.4 L818.8,802.8 L820.8,803.3 L822.8,803.8 L824.8,804.3 L826.8,804.9 L828.8,805.4 L830.8,806.0 L832.8,806.6 L834.8,807.1 L836.8,807.7 L838.8,808.4 L840.8,809.0 L842.8,809.6 L844.8,810.3 L846.8,810.9 L848.8,811.6 L850.8,812.2 L852.8,812.8 L854.8,813.4 L856.8,814.0 L858.8,814.6 L860.8,815.2 L862.8,815.8 L864.8,816.3 L866.8,816.9 L868.8,817.5 L870.8,818.0 L872.8,818.5 L874.8,819.0 L876.8,819.5 L878.8,820.0 L880.8,820.5 L882.8,820.9 L884.8,821.3 L886.8,821.7 L888.8,822.1 L890.8,822.5 L892.8,822.8 L894.8,823.1 L896.8,823.5 L898.8,823.7 L900.8,824.0 L902.8,824.3 L904.8,824.5 L906.8,824.7 L908.8,824.9 L910.8,825.1 L912.8,825.3 L914.8,825.5 L916.8,825.6 L918.8,825.8 L920.8,825.9 L922.8,826.0 L924.8,826.1 L926.8,826.2 L928.8,826.3 L930.8,826.4 L932.8,826.5 L934.8,826.6 L936.8,826.7 L938.8,826.7 L940.8,826.8 L942.8,826.9 L944.8,826.9 L946.8,827.0 L948.8,827.0 L950.8,827.1 L952.8,827.1 L954.8,827.2 L956.8,827.2 L958.8,827.3 L960.8,827.3 L962.8,827.4 L964.8,827.4 L966.8,827.4 L968.8,827.5 L970.8,827.5 L972.8,827.6 L974.8,827.6 L976.8,827.6 L978.8,827.7 L980.8,827.7 L982.8,827.7 L984.8,827.8 L986.8,827.8 L988.8,827.8 L990.8,827.9 L992.8,827.9 L994.8,827.9 L996.8,828.0 L998.8,828.0 L1000.8,828.0 L1002.8,828.1 L1004.8,828.1 L1006.8,828.1 L1008.8,828.1 L1010.8,828.2 L1012.8,828.2 L1014.8,828.2 L1016.8,828.3 L1018.8,828.3 L1020.8,828.3 L1022.8,828.3 L1024.8,828.4 L1026.8,828.4 L1028.8,828.4 L1030.8,828.5 L1032.8,828.5 L1034.8,828.5 L1036.8,828.5 L1038.8,828.6 L1040.8,828.6 L1042.8,828.6 L1044.8,828.6 L1046.8,828.7 L1048.8,828.7 L1050.8,828.7 L1052.8,828.7 L1054.8,828.7 L1056.8,828.6 L1058.8,828.6 L1060.8,828.6 L1062.8,828.6 L1064.8,828.6 L1066.8,828.5 L1068.8,828.5 L1070.8,828.5 L1072.8,828.5 L1074.8,828.5 L1076.8,828.4 L1078.8,828.4 L1080.8,828.4 L1082.8,828.4 L1084.8,828.3 L1086.8,828.3 L1088.8,828.3 L1090.8,828.3 L1092.8,828.3 L1094.8,828.2 L1096.8,828.2 L1098.8,828.2 L1100.8,828.2 L1102.8,828.1 L1104.8,828.1 L1106.8,828.1 L1108.8,828.1 L1110.8,828.0 L1112.8,828.0 L1114.8,828.0 L1116.8,828.0 L1118.8,828.0 L1120.8,827.9 L1122.8,827.9 L1124.8,827.9 L1126.8,827.9 L1128.8,827.8 L1130.8,827.8 L1132.8,827.8 L1134.8,827.8 L1136.8,827.7 L1138.8,827.7 L1140.8,827.7 L1142.8,827.7 L1144.8,827.6 L1146.8,827.6 L1148.8,827.6 L1150.8,827.6 L1152.8,827.5 L1154.8,827.5 L1156.8,827.5 L1158.8,827.5 L1160.8,827.4 L1162.8,827.4 L1164.8,827.4 L1166.8,827.4 L1168.8,827.3 L1170.8,827.3 L1172.8,827.3 L1174.8,827.3 L1176.8,827.2 L1178.8,827.2 L1180.8,827.2 L1182.8,827.2 L1184.8,827.1 L1186.8,827.1 L1188.8,827.1 L1190.8,827.1 L1192.8,827.0 L1194.8,827.0 L1196.8,827.0 L1198.8,827.0 L1200.8,826.9 L1202.8,826.9 L1204.8,826.9 L1206.8,826.9 L1208.8,826.8 L1210.8,826.8 L1212.8,826.8 L1214.8,826.8 L1216.8,826.7 L1218.8,826.7 L1220.8,826.7 L1222.8,826.7 L1224.8,826.6 L1226.8,826.6 L1228.8,826.6 L1230.8,826.6 L1232.8,826.5 L1234.8,826.5 L1236.8,826.5 L1238.8,826.5 L1240.8,826.4 L1242.8,826.4 L1244.8,826.4 L1246.8,826.4 L1248.8,826.3 L1250.8,826.3 L1252.8,826.3 L1254.8,826.3 L1256.8,826.2 L1258.8,826.2 L1260.8,826.2 L1262.8,826.1 L1264.8,826.1 L1266.8,826.1 L1268.8,826.1 L1269.8,826.1" stroke="#222" stroke-width="3" stroke-dasharray="2.6,2.2" fill="none"/>
<path d="M64.8,759.1 L66.8,759.0 L68.8,759.0 L70.8,758.9 L72.8,758.8 L74.8,758.7 L76.8,758.6 L78.8,758.6 L80.8,758.5 L82.8,758.4 L84.8,758.3 L86.8,758.3 L88.8,758.2 L90.8,758.1 L92.8,758.0 L94.8,758.0 L96.8,757.9 L98.8,757.8 L100.8,757.7 L102.8,757.7 L104.8,757.6 L106.8,757.5 L108.8,757.4 L110.8,757.4 L112.8,757.3 L114.8,757.2 L116.8,757.1 L118.8,757.1 L120.8,757.0 L122.8,756.9 L124.8,756.8 L126.8,756.7 L128.8,756.7 L130.8,756.6 L132.8,756.5 L134.8,756.4 L136.8,756.4 L138.8,756.3 L140.8,756.2 L142.8,756.1 L144.8,756.1 L146.8,756.0 L148.8,755.9 L150.8,755.8 L152.8,755.8 L154.8,755.7 L156.8,755.6 L158.8,755.5 L160.8,755.5 L162.8,755.4 L164.8,755.3 L166.8,755.2 L168.8,755.2 L170.8,755.1 L172.8,755.0 L174.8,754.9 L176.8,754.9 L178.8,754.8 L180.8,754.7 L182.8,754.6 L184.8,754.5 L186.8,754.5 L188.8,754.4 L190.8,754.3 L192.8,754.2 L194.8,754.2 L196.8,754.1 L198.8,754.0 L200.8,753.9 L202.8,753.9 L204.8,753.8 L206.8,753.7 L208.8,753.6 L210.8,753.6 L212.8,753.5 L214.8,753.4 L216.8,753.3 L218.8,753.3 L220.8,753.2 L222.8,753.1 L224.8,753.0 L226.8,753.0 L228.8,752.9 L230.8,752.8 L232.8,752.7 L234.8,752.6 L236.8,752.6 L238.8,752.5 L240.8,752.4 L242.8,752.3 L244.8,752.2 L246.8,752.2 L248.8,752.1 L250.8,752.0 L252.8,752.0 L254.8,751.9 L256.8,751.9 L258.8,751.9 L260.8,751.8 L262.8,751.8 L264.8,751.7 L266.8,751.7 L268.8,751.6 L270.8,751.6 L272.8,751.5 L274.8,751.5 L276.8,751.4 L278.8,751.3 L280.8,751.3 L282.8,751.2 L284.8,751.1 L286.8,751.1 L288.8,751.0 L290.8,750.9 L292.8,750.8 L294.8,750.7 L296.8,750.6 L298.8,750.5 L300.8,750.4 L302.8,750.2 L304.8,750.1 L306.8,750.0 L308.8,749.8 L310.8,749.7 L312.8,749.5 L314.8,749.3 L316.8,749.1 L318.8,748.9 L320.8,748.7 L322.8,748.5 L324.8,748.3 L326.8,748.1 L328.8,747.8 L330.8,747.6 L332.8,747.3 L334.8,747.0 L336.8,746.7 L338.8,746.4 L340.8,746.1 L342.8,745.8 L344.8,745.5 L346.8,745.1 L348.8,744.8 L350.8,744.4 L352.8,744.0 L354.8,743.7 L356.8,743.3 L358.8,742.9 L360.8,742.5 L362.8,742.1 L364.8,741.7 L366.8,741.3 L368.8,740.8 L370.8,740.4 L372.8,740.0 L374.8,739.6 L376.8,739.2 L378.8,738.8 L380.8,738.4 L382.8,738.0 L384.8,737.6 L386.8,737.3 L388.8,736.9 L390.8,736.5 L392.8,736.2 L394.8,735.9 L396.8,735.6 L398.8,735.3 L400.8,735.0 L402.8,734.8 L404.8,734.5 L406.8,734.3 L408.8,734.1 L410.8,734.0 L412.8,733.8 L414.8,733.7 L416.8,733.6 L418.8,733.6 L420.8,733.5 L422.8,733.5 L424.8,733.5 L426.8,733.6 L428.8,733.7 L430.8,733.7 L432.8,733.9 L434.8,734.0 L436.8,734.2 L438.8,734.3 L440.8,734.6 L442.8,734.8 L444.8,735.0 L446.8,735.3 L448.8,735.6 L450.8,735.9 L452.8,736.3 L454.8,736.6 L456.8,737.0 L458.8,737.4 L460.8,737.8 L462.8,738.2 L464.8,738.6 L466.8,739.1 L468.8,739.5 L470.8,739.9 L472.8,740.3 L474.8,740.7 L476.8,741.2 L478.8,741.6 L480.8,742.0 L482.8,742.4 L484.8,742.8 L486.8,743.1 L488.8,743.5 L490.8,743.8 L492.8,744.2 L494.8,744.5 L496.8,744.8 L498.8,745.1 L500.8,745.4 L502.8,745.6 L504.8,745.9 L506.8,746.1 L508.8,746.3 L510.8,746.4 L512.8,746.6 L514.8,746.7 L516.8,746.8 L518.8,746.9 L520.8,746.9 L522.8,747.0 L524.8,747.0 L526.8,747.0 L528.8,747.0 L530.8,746.9 L532.8,746.8 L534.8,746.7 L536.8,746.6 L538.8,746.5 L540.8,746.3 L542.8,746.2 L544.8,746.0 L546.8,745.8 L548.8,745.5 L550.8,745.3 L552.8,745.0 L554.8,744.8 L556.8,744.5 L558.8,744.2 L560.8,743.9 L562.8,743.6 L564.8,743.3 L566.8,743.0 L568.8,742.7 L570.8,742.4 L572.8,742.0 L574.8,741.7 L576.8,741.4 L578.8,741.1 L580.8,740.9 L582.8,740.6 L584.8,740.3 L586.8,740.1 L588.8,739.9 L590.8,739.7 L592.8,739.5 L594.8,739.4 L596.8,739.2 L598.8,739.1 L600.8,739.1 L602.8,739.1 L604.8,739.1 L606.8,739.1 L608.8,739.2 L610.8,739.3 L612.8,739.5 L614.8,739.7 L616.8,740.0 L618.8,740.3 L620.8,740.6 L622.8,741.0 L624.8,741.4 L626.8,741.9 L628.8,742.4 L630.8,743.0 L632.8,743.6 L634.8,744.3 L636.8,745.0 L638.8,745.7 L640.8,746.5 L642.8,747.3 L644.8,748.1 L646.8,749.0 L648.8,749.9 L650.8,750.8 L652.8,751.9 L654.8,752.9 L656.8,754.0 L658.8,755.1 L660.8,756.2 L662.8,757.3 L664.8,758.4 L666.8,759.5 L668.8,760.6 L670.8,761.6 L672.8,762.7 L674.8,763.8 L676.8,764.8 L678.8,765.9 L680.8,766.9 L682.8,767.9 L684.8,768.9 L686.8,769.9 L688.8,770.8 L690.8,771.7 L692.8,772.6 L694.8,773.5 L696.8,774.3 L698.8,775.1 L700.8,775.9 L702.8,776.7 L704.8,777.4 L706.8,778.2 L708.8,778.9 L710.8,779.5 L712.8,780.2 L714.8,780.8 L716.8,781.4 L718.8,782.0 L720.8,782.6 L722.8,783.1 L724.8,783.7 L726.8,784.2 L728.8,784.7 L730.8,785.2 L732.8,785.7 L734.8,786.1 L736.8,786.6 L738.8,787.0 L740.8,787.5 L742.8,787.9 L744.8,788.3 L746.8,788.7 L748.8,789.1 L750.8,789.5 L752.8,789.9 L754.8,790.3 L756.8,790.7 L758.8,791.1 L760.8,791.5 L762.8,791.8 L764.8,792.2 L766.8,792.6 L768.8,792.9 L770.8,793.3 L772.8,793.7 L774.8,794.0 L776.8,794.4 L778.8,794.8 L780.8,795.1 L782.8,795.5 L784.8,795.9 L786.8,796.2 L788.8,796.6 L790.8,797.0 L792.8,797.3 L794.8,797.7 L796.8,798.1 L798.8,798.5 L800.8,798.9 L802.8,799.3 L804.8,799.7 L806.8,800.1 L808.8,800.5 L810.8,801.0 L812.8,801.4 L814.8,801.9 L816.8,802.3 L818.8,802.8 L820.8,803.3 L822.8,803.8 L824.8,804.3 L826.8,804.9 L828.8,805.4 L830.8,806.0 L832.8,806.5 L834.8,807.1 L836.8,807.7 L838.8,808.4 L840.8,809.0 L842.8,809.6 L844.8,810.3 L846.8,810.9 L848.8,811.6 L850.8,812.2 L852.8,812.8 L854.8,813.4 L856.8,814.0 L858.8,814.6 L860.8,815.2 L862.8,815.8 L864.8,816.3 L866.8,816.9 L868.8,817.5 L870.8,818.0 L872.8,818.5 L874.8,819.0 L876.8,819.5 L878.8,820.0 L880.8,820.5 L882.8,820.9 L884.8,821.3 L886.8,821.7 L888.8,822.1 L890.8,822.5 L892.8,822.8 L894.8,823.1 L896.8,823.5 L898.8,823.7 L900.8,824.0 L902.8,824.3 L904.8,824.5 L906.8,824.7 L908.8,824.9 L910.8,825.1 L912.8,825.3 L914.8,825.5 L916.8,825.6 L918.8,825.8 L920.8,825.9 L922.8,826.0 L924.8,826.1 L926.8,826.2 L928.8,826.3 L930.8,826.4 L932.8,826.5 L934.8,826.6 L936.8,826.7 L938.8,826.7 L940.8,826.8 L942.8,826.9 L944.8,826.9 L946.8,827.0 L948.8,827.0 L950.8,827.1 L952.8,827.1 L954.8,827.2 L956.8,827.2 L958.8,827.3 L960.8,827.3 L962.8,827.4 L964.8,827.4 L966.8,827.4 L968.8,827.5 L970.8,827.5 L972.8,827.6 L974.8,827.6 L976.8,827.6 L978.8,827.7 L980.8,827.7 L982.8,827.7 L984.8,827.8 L986.8,827.8 L988.8,827.8 L990.8,827.9 L992.8,827.9 L994.8,827.9 L996.8,828.0 L998.8,828.0 L1000.8,828.0 L1002.8,828.1 L1004.8,828.1 L1006.8,828.1 L1008.8,828.1 L1010.8,828.2 L1012.8,828.2 L1014.8,828.2 L1016.8,828.3 L1018.8,828.3 L1020.8,828.3 L1022.8,828.3 L1024.8,828.4 L1026.8,828.4 L1028.8,828.4 L1030.8,828.5 L1032.8,828.5 L1034.8,828.5 L1036.8,828.5 L1038.8,828.6 L1040.8,828.6 L1042.8,828.6 L1044.8,828.6 L1046.8,828.7 L1048.8,828.7 L1050.8,828.7 L1052.8,828.7 L1054.8,828.7 L1056.8,828.6 L1058.8,828.6 L1060.8,828.6 L1062.8,828.6 L1064.8,828.6 L1066.8,828.5 L1068.8,828.5 L1070.8,828.5 L1072.8,828.5 L1074.8,828.5 L1076.8,828.4 L1078.8,828.4 L1080.8,828.4 L1082.8,828.4 L1084.8,828.3 L1086.8,828.3 L1088.8,828.3 L1090.8,828.3 L1092.8,828.3 L1094.8,828.2 L1096.8,828.2 L1098.8,828.2 L1100.8,828.2 L1102.8,828.1 L1104.8,828.1 L1106.8,828.1 L1108.8,828.1 L1110.8,828.0 L1112.8,828.0 L1114.8,828.0 L1116.8,828.0 L1118.8,828.0 L1120.8,827.9 L1122.8,827.9 L1124.8,827.9 L1126.8,827.9 L1128.8,827.8 L1130.8,827.8 L1132.8,827.8 L1134.8,827.8 L1136.8,827.7 L1138.8,827.7 L1140.8,827.7 L1142.8,827.7 L1144.8,827.6 L1146.8,827.6 L1148.8,827.6 L1150.8,827.6 L1152.8,827.5 L1154.8,827.5 L1156.8,827.5 L1158.8,827.5 L1160.8,827.4 L1162.8,827.4 L1164.8,827.4 L1166.8,827.4 L1168.8,827.3 L1170.8,827.3 L1172.8,827.3 L1174.8,827.3 L1176.8,827.2 L1178.8,827.2 L1180.8,827.2 L1182.8,827.2 L1184.8,827.1 L1186.8,827.1 L1188.8,827.1 L1190.8,827.1 L1192.8,827.0 L1194.8,827.0 L1196.8,827.0 L1198.8,827.0 L1200.8,826.9 L1202.8,826.9 L1204.8,826.9 L1206.8,826.9 L1208.8,826.8 L1210.8,826.8 L1212.8,826.8 L1214.8,826.8 L1216.8,826.7 L1218.8,826.7 L1220.8,826.7 L1222.8,826.7 L1224.8,826.6 L1226.8,826.6 L1228.8,826.6 L1230.8,826.6 L1232.8,826.5 L1234.8,826.5 L1236.8,826.5 L1238.8,826.5 L1240.8,826.4 L1242.8,826.4 L1244.8,826.4 L1246.8,826.4 L1248.8,826.3 L1250.8,826.3 L1252.8,826.3 L1254.8,826.3 L1256.8,826.2 L1258.8,826.2 L1260.8,826.2 L1262.8,826.1 L1264.8,826.1 L1266.8,826.1 L1268.8,826.1 L1269.8,826.1" stroke="#3a4ca0" stroke-width="3" fill="none"/>
<path d="M64.8,758.6 L66.8,758.6 L68.8,758.5 L70.8,758.4 L72.8,758.3 L74.8,758.3 L76.8,758.2 L78.8,758.1 L80.8,758.0 L82.8,757.9 L84.8,757.9 L86.8,757.8 L88.8,757.7 L90.8,757.6 L92.8,757.5 L94.8,757.5 L96.8,757.4 L98.8,757.3 L100.8,757.2 L102.8,757.1 L104.8,757.1 L106.8,757.0 L108.8,756.9 L110.8,756.8 L112.8,756.7 L114.8,756.7 L116.8,756.6 L118.8,756.5 L120.8,756.4 L122.8,756.3 L124.8,756.3 L126.8,756.2 L128.8,756.1 L130.8,756.0 L132.8,755.9 L134.8,755.9 L136.8,755.8 L138.8,755.7 L140.8,755.6 L142.8,755.5 L144.8,755.5 L146.8,755.4 L148.8,755.3 L150.8,755.2 L152.8,755.1 L154.8,755.0 L156.8,755.0 L158.8,754.9 L160.8,754.8 L162.8,754.7 L164.8,754.6 L166.8,754.6 L168.8,754.5 L170.8,754.4 L172.8,754.3 L174.8,754.2 L176.8,754.2 L178.8,754.1 L180.8,754.0 L182.8,753.9 L184.8,753.8 L186.8,753.7 L188.8,753.7 L190.8,753.6 L192.8,753.5 L194.8,753.4 L196.8,753.3 L198.8,753.3 L200.8,753.2 L202.8,753.1 L204.8,753.0 L206.8,752.9 L208.8,752.8 L210.8,752.8 L212.8,752.7 L214.8,752.6 L216.8,752.5 L218.8,752.4 L220.8,752.3 L222.8,752.3 L224.8,752.2 L226.8,752.1 L228.8,752.0 L230.8,751.9 L232.8,751.8 L234.8,751.8 L236.8,751.7 L238.8,751.6 L240.8,751.5 L242.8,751.4 L244.8,751.3 L246.8,751.2 L248.8,751.2 L250.8,751.1 L252.8,751.1 L254.8,751.0 L256.8,751.0 L258.8,750.9 L260.8,750.9 L262.8,750.9 L264.8,750.8 L266.8,750.8 L268.8,750.7 L270.8,750.7 L272.8,750.7 L274.8,750.6 L276.8,750.6 L278.8,750.5 L280.8,750.5 L282.8,750.5 L284.8,750.4 L286.8,750.4 L288.8,750.3 L290.8,750.3 L292.8,750.3 L294.8,750.2 L296.8,750.2 L298.8,750.1 L300.8,750.1 L302.8,750.0 L304.8,750.0 L306.8,750.0 L308.8,749.9 L310.8,749.9 L312.8,749.8 L314.8,749.8 L316.8,749.8 L318.8,749.7 L320.8,749.7 L322.8,749.6 L324.8,749.6 L326.8,749.5 L328.8,749.5 L330.8,749.5 L332.8,749.4 L334.8,749.4 L336.8,749.3 L338.8,749.3 L340.8,749.2 L342.8,749.2 L344.8,749.2 L346.8,749.1 L348.8,749.1 L350.8,749.0 L352.8,749.0 L354.8,748.9 L356.8,748.9 L358.8,748.9 L360.8,748.8 L362.8,748.8 L364.8,748.7 L366.8,748.7 L368.8,748.6 L370.8,748.6 L372.8,748.5 L374.8,748.5 L376.8,748.5 L378.8,748.4 L380.8,748.4 L382.8,748.3 L384.8,748.3 L386.8,748.2 L388.8,748.2 L390.8,748.1 L392.8,748.1 L394.8,748.0 L396.8,747.9 L398.8,747.9 L400.8,747.8 L402.8,747.7 L404.8,747.7 L406.8,747.6 L408.8,747.5 L410.8,747.4 L412.8,747.3 L414.8,747.2 L416.8,747.1 L418.8,747.0 L420.8,746.9 L422.8,746.8 L424.8,746.6 L426.8,746.5 L428.8,746.3 L430.8,746.2 L432.8,746.0 L434.8,745.8 L436.8,745.6 L438.8,745.3 L440.8,745.1 L442.8,744.8 L444.8,744.5 L446.8,744.2 L448.8,743.9 L450.8,743.5 L452.8,743.2 L454.8,742.8 L456.8,742.4 L458.8,742.0 L460.8,741.5 L462.8,741.0 L464.8,740.5 L466.8,739.9 L468.8,739.3 L470.8,738.7 L472.8,738.0 L474.8,737.3 L476.8,736.5 L478.8,735.7 L480.8,734.8 L482.8,733.9 L484.8,732.9 L486.8,731.9 L488.8,730.8 L490.8,729.7 L492.8,728.6 L494.8,727.4 L496.8,726.1 L498.8,724.8 L500.8,723.4 L502.8,722.0 L504.8,720.6 L506.8,719.1 L508.8,717.5 L510.8,715.9 L512.8,714.3 L514.8,712.7 L516.8,711.0 L518.8,709.3 L520.8,707.5 L522.8,705.8 L524.8,704.0 L526.8,702.2 L528.8,700.4 L530.8,698.7 L532.8,696.9 L534.8,695.1 L536.8,693.4 L538.8,691.6 L540.8,690.0 L542.8,688.3 L544.8,686.7 L546.8,685.2 L548.8,683.7 L550.8,682.3 L552.8,680.9 L554.8,679.7 L556.8,678.6 L558.8,677.5 L560.8,676.6 L562.8,675.7 L564.8,675.0 L566.8,674.5 L568.8,674.0 L570.8,673.7 L572.8,673.6 L574.8,673.5 L576.8,673.7 L578.8,673.9 L580.8,674.4 L582.8,674.9 L584.8,675.6 L586.8,676.4 L588.8,677.4 L590.8,678.5 L592.8,679.7 L594.8,681.0 L596.8,682.4 L598.8,683.9 L600.8,685.5 L602.8,687.2 L604.8,689.0 L606.8,690.8 L608.8,692.7 L610.8,694.6 L612.8,696.5 L614.8,698.6 L616.8,700.6 L618.8,702.6 L620.8,704.7 L622.8,706.7 L624.8,708.8 L626.8,710.8 L628.8,712.9 L630.8,714.9 L632.8,716.9 L634.8,718.8 L636.8,720.7 L638.8,722.6 L640.8,724.4 L642.8,726.1 L644.8,727.8 L646.8,729.4 L648.8,730.9 L650.8,732.4 L652.8,733.9 L654.8,735.3 L656.8,736.5 L658.8,737.7 L660.8,738.8 L662.8,739.8 L664.8,740.6 L666.8,741.4 L668.8,742.0 L670.8,742.6 L672.8,743.0 L674.8,743.2 L676.8,743.4 L678.8,743.5 L680.8,743.4 L682.8,743.2 L684.8,742.9 L686.8,742.4 L688.8,741.8 L690.8,741.2 L692.8,740.4 L694.8,739.4 L696.8,738.4 L698.8,737.3 L700.8,736.0 L702.8,734.7 L704.8,733.3 L706.8,731.7 L708.8,730.1 L710.8,728.4 L712.8,726.6 L714.8,724.8 L716.8,722.9 L718.8,721.0 L720.8,718.9 L722.8,716.9 L724.8,714.8 L726.8,712.7 L728.8,710.6 L730.8,708.5 L732.8,706.4 L734.8,704.3 L736.8,702.3 L738.8,700.2 L740.8,698.2 L742.8,696.3 L744.8,694.5 L746.8,692.7 L748.8,691.0 L750.8,689.4 L752.8,688.0 L754.8,686.6 L756.8,685.4 L758.8,684.4 L760.8,683.5 L762.8,682.8 L764.8,682.2 L766.8,681.8 L768.8,681.6 L770.8,681.6 L772.8,681.8 L774.8,682.2 L776.8,682.7 L778.8,683.5 L780.8,684.4 L782.8,685.6 L784.8,686.9 L786.8,688.4 L788.8,690.0 L790.8,691.8 L792.8,693.8 L794.8,695.9 L796.8,698.1 L798.8,700.5 L800.8,703.0 L802.8,705.5 L804.8,708.2 L806.8,710.9 L808.8,713.7 L810.8,716.6 L812.8,719.5 L814.8,722.5 L816.8,725.5 L818.8,728.6 L820.8,731.6 L822.8,734.7 L824.8,737.7 L826.8,740.8 L828.8,743.8 L830.8,746.9 L832.8,749.9 L834.8,752.9 L836.8,755.9 L838.8,758.8 L840.8,761.7 L842.8,764.5 L844.8,767.3 L846.8,770.0 L848.8,772.7 L850.8,775.3 L852.8,777.8 L854.8,780.2 L856.8,782.5 L858.8,784.8 L860.8,787.0 L862.8,789.1 L864.8,791.1 L866.8,793.1 L868.8,794.9 L870.8,796.8 L872.8,798.5 L874.8,800.1 L876.8,801.7 L878.8,803.2 L880.8,804.6 L882.8,805.9 L884.8,807.2 L886.8,808.4 L888.8,809.6 L890.8,810.6 L892.8,811.6 L894.8,812.6 L896.8,813.4 L898.8,814.3 L900.8,815.0 L902.8,815.8 L904.8,816.4 L906.8,817.1 L908.8,817.6 L910.8,818.2 L912.8,818.7 L914.8,819.1 L916.8,819.6 L918.8,820.0 L920.8,820.4 L922.8,820.7 L924.8,821.0 L926.8,821.3 L928.8,821.6 L930.8,821.9 L932.8,822.1 L934.8,822.3 L936.8,822.5 L938.8,822.7 L940.8,822.9 L942.8,823.1 L944.8,823.3 L946.8,823.4 L948.8,823.6 L950.8,823.7 L952.8,823.8 L954.8,824.0 L956.8,824.1 L958.8,824.2 L960.8,824.3 L962.8,824.4 L964.8,824.5 L966.8,824.6 L968.8,824.7 L970.8,824.8 L972.8,824.9 L974.8,825.0 L976.8,825.1 L978.8,825.1 L980.8,825.2 L982.8,825.3 L984.8,825.4 L986.8,825.4 L988.8,825.5 L990.8,825.6 L992.8,825.6 L994.8,825.7 L996.8,825.8 L998.8,825.8 L1000.8,825.9 L1002.8,826.0 L1004.8,826.0 L1006.8,826.1 L1008.8,826.2 L1010.8,826.2 L1012.8,826.3 L1014.8,826.3 L1016.8,826.4 L1018.8,826.4 L1020.8,826.5 L1022.8,826.6 L1024.8,826.6 L1026.8,826.7 L1028.8,826.7 L1030.8,826.8 L1032.8,826.8 L1034.8,826.9 L1036.8,826.9 L1038.8,827.0 L1040.8,827.0 L1042.8,827.1 L1044.8,827.1 L1046.8,827.1 L1048.8,827.2 L1050.8,827.2 L1052.8,827.2 L1054.8,827.2 L1056.8,827.2 L1058.8,827.2 L1060.8,827.2 L1062.8,827.2 L1064.8,827.2 L1066.8,827.2 L1068.8,827.2 L1070.8,827.2 L1072.8,827.2 L1074.8,827.2 L1076.8,827.2 L1078.8,827.2 L1080.8,827.1 L1082.8,827.1 L1084.8,827.1 L1086.8,827.1 L1088.8,827.1 L1090.8,827.1 L1092.8,827.1 L1094.8,827.1 L1096.8,827.1 L1098.8,827.1 L1100.8,827.0 L1102.8,827.0 L1104.8,827.0 L1106.8,827.0 L1108.8,827.0 L1110.8,827.0 L1112.8,827.0 L1114.8,827.0 L1116.8,827.0 L1118.8,826.9 L1120.8,826.9 L1122.8,826.9 L1124.8,826.9 L1126.8,826.9 L1128.8,826.9 L1130.8,826.9 L1132.8,826.8 L1134.8,826.8 L1136.8,826.8 L1138.8,826.8 L1140.8,826.8 L1142.8,826.8 L1144.8,826.8 L1146.8,826.7 L1148.8,826.7 L1150.8,826.7 L1152.8,826.7 L1154.8,826.7 L1156.8,826.7 L1158.8,826.6 L1160.8,826.6 L1162.8,826.6 L1164.8,826.6 L1166.8,826.6 L1168.8,826.6 L1170.8,826.5 L1172.8,826.5 L1174.8,826.5 L1176.8,826.5 L1178.8,826.5 L1180.8,826.4 L1182.8,826.4 L1184.8,826.4 L1186.8,826.4 L1188.8,826.4 L1190.8,826.4 L1192.8,826.3 L1194.8,826.3 L1196.8,826.3 L1198.8,826.3 L1200.8,826.3 L1202.8,826.2 L1204.8,826.2 L1206.8,826.2 L1208.8,826.2 L1210.8,826.2 L1212.8,826.1 L1214.8,826.1 L1216.8,826.1 L1218.8,826.1 L1220.8,826.1 L1222.8,826.0 L1224.8,826.0 L1226.8,826.0 L1228.8,826.0 L1230.8,826.0 L1232.8,825.9 L1234.8,825.9 L1236.8,825.9 L1238.8,825.9 L1240.8,825.8 L1242.8,825.8 L1244.8,825.8 L1246.8,825.8 L1248.8,825.8 L1250.8,825.7 L1252.8,825.7 L1254.8,825.7 L1256.8,825.7 L1258.8,825.7 L1260.8,825.6 L1262.8,825.6 L1264.8,825.6 L1266.8,825.6 L1268.8,825.5 L1269.8,825.5" stroke="#eca53a" stroke-width="3" fill="none"/>
<path d="M64.8,758.7 L66.8,758.7 L68.8,758.6 L70.8,758.5 L72.8,758.4 L74.8,758.4 L76.8,758.3 L78.8,758.2 L80.8,758.1 L82.8,758.1 L84.8,758.0 L86.8,757.9 L88.8,757.8 L90.8,757.7 L92.8,757.7 L94.8,757.6 L96.8,757.5 L98.8,757.4 L100.8,757.3 L102.8,757.3 L104.8,757.2 L106.8,757.1 L108.8,757.0 L110.8,756.9 L112.8,756.9 L114.8,756.8 L116.8,756.7 L118.8,756.6 L120.8,756.6 L122.8,756.5 L124.8,756.4 L126.8,756.3 L128.8,756.2 L130.8,756.2 L132.8,756.1 L134.8,756.0 L136.8,755.9 L138.8,755.8 L140.8,755.8 L142.8,755.7 L144.8,755.6 L146.8,755.5 L148.8,755.5 L150.8,755.4 L152.8,755.3 L154.8,755.2 L156.8,755.1 L158.8,755.1 L160.8,755.0 L162.8,754.9 L164.8,754.8 L166.8,754.7 L168.8,754.7 L170.8,754.6 L172.8,754.5 L174.8,754.4 L176.8,754.3 L178.8,754.3 L180.8,754.2 L182.8,754.1 L184.8,754.0 L186.8,753.9 L188.8,753.9 L190.8,753.8 L192.8,753.7 L194.8,753.6 L196.8,753.5 L198.8,753.5 L200.8,753.4 L202.8,753.3 L204.8,753.2 L206.8,753.1 L208.8,753.1 L210.8,753.0 L212.8,752.9 L214.8,752.8 L216.8,752.8 L218.8,752.7 L220.8,752.6 L222.8,752.5 L224.8,752.4 L226.8,752.4 L228.8,752.3 L230.8,752.2 L232.8,752.1 L234.8,752.0 L236.8,751.9 L238.8,751.9 L240.8,751.8 L242.8,751.7 L244.8,751.6 L246.8,751.5 L248.8,751.5 L250.8,751.4 L252.8,751.4 L254.8,751.3 L256.8,751.3 L258.8,751.3 L260.8,751.2 L262.8,751.2 L264.8,751.2 L266.8,751.1 L268.8,751.1 L270.8,751.1 L272.8,751.0 L274.8,751.0 L276.8,751.0 L278.8,750.9 L280.8,750.9 L282.8,750.9 L284.8,750.8 L286.8,750.8 L288.8,750.7 L290.8,750.7 L292.8,750.7 L294.8,750.6 L296.8,750.6 L298.8,750.6 L300.8,750.5 L302.8,750.5 L304.8,750.5 L306.8,750.4 L308.8,750.4 L310.8,750.4 L312.8,750.3 L314.8,750.3 L316.8,750.3 L318.8,750.2 L320.8,750.2 L322.8,750.2 L324.8,750.1 L326.8,750.1 L328.8,750.1 L330.8,750.0 L332.8,750.0 L334.8,750.0 L336.8,749.9 L338.8,749.9 L340.8,749.9 L342.8,749.9 L344.8,749.8 L346.8,749.8 L348.8,749.8 L350.8,749.7 L352.8,749.7 L354.8,749.7 L356.8,749.7 L358.8,749.6 L360.8,749.6 L362.8,749.6 L364.8,749.6 L366.8,749.5 L368.8,749.5 L370.8,749.5 L372.8,749.5 L374.8,749.4 L376.8,749.4 L378.8,749.4 L380.8,749.4 L382.8,749.3 L384.8,749.3 L386.8,749.3 L388.8,749.3 L390.8,749.3 L392.8,749.2 L394.8,749.2 L396.8,749.2 L398.8,749.2 L400.8,749.2 L402.8,749.2 L404.8,749.1 L406.8,749.1 L408.8,749.1 L410.8,749.1 L412.8,749.1 L414.8,749.0 L416.8,749.0 L418.8,749.0 L420.8,749.0 L422.8,749.0 L424.8,749.0 L426.8,748.9 L428.8,748.9 L430.8,748.9 L432.8,748.9 L434.8,748.9 L436.8,748.8 L438.8,748.8 L440.8,748.8 L442.8,748.8 L444.8,748.7 L446.8,748.7 L448.8,748.7 L450.8,748.7 L452.8,748.7 L454.8,748.7 L456.8,748.7 L458.8,748.8 L460.8,748.8 L462.8,748.8 L464.8,748.8 L466.8,748.8 L468.8,748.8 L470.8,748.9 L472.8,748.9 L474.8,748.9 L476.8,748.9 L478.8,748.9 L480.8,748.9 L482.8,748.9 L484.8,748.9 L486.8,748.9 L488.8,749.0 L490.8,749.0 L492.8,749.0 L494.8,749.0 L496.8,749.0 L498.8,749.0 L500.8,749.0 L502.8,749.0 L504.8,749.0 L506.8,749.0 L508.8,749.0 L510.8,749.0 L512.8,749.0 L514.8,749.0 L516.8,749.0 L518.8,749.0 L520.8,749.0 L522.8,749.0 L524.8,749.0 L526.8,749.0 L528.8,749.0 L530.8,749.0 L532.8,748.9 L534.8,748.9 L536.8,748.9 L538.8,748.8 L540.8,748.7 L542.8,748.6 L544.8,748.5 L546.8,748.4 L548.8,748.2 L550.8,748.0 L552.8,747.8 L554.8,747.5 L556.8,747.2 L558.8,746.8 L560.8,746.3 L562.8,745.8 L564.8,745.2 L566.8,744.5 L568.8,743.6 L570.8,742.7 L572.8,741.6 L574.8,740.4 L576.8,738.9 L578.8,737.4 L580.8,735.6 L582.8,733.5 L584.8,731.3 L586.8,728.8 L588.8,726.0 L590.8,722.9 L592.8,719.6 L594.8,715.9 L596.8,711.9 L598.8,707.6 L600.8,702.9 L602.8,697.9 L604.8,692.6 L606.8,686.9 L608.8,680.8 L610.8,674.5 L612.8,667.9 L614.8,660.9 L616.8,653.8 L618.8,646.4 L620.8,638.8 L622.8,631.1 L624.8,623.3 L626.8,615.5 L628.8,607.6 L630.8,599.9 L632.8,592.3 L634.8,585.0 L636.8,578.0 L638.8,571.3 L640.8,565.1 L642.8,559.4 L644.8,554.3 L646.8,550.0 L648.8,546.3 L650.8,543.6 L652.8,541.7 L654.8,540.8 L656.8,540.8 L658.8,541.6 L660.8,543.4 L662.8,546.1 L664.8,549.6 L666.8,553.9 L668.8,558.9 L670.8,564.6 L672.8,570.9 L674.8,577.7 L676.8,584.9 L678.8,592.6 L680.8,600.5 L682.8,608.6 L684.8,616.9 L686.8,625.3 L688.8,633.7 L690.8,642.1 L692.8,650.3 L694.8,658.5 L696.8,666.5 L698.8,674.2 L700.8,681.8 L702.8,689.0 L704.8,695.9 L706.8,702.6 L708.8,708.9 L710.8,714.8 L712.8,720.4 L714.8,725.7 L716.8,730.6 L718.8,735.2 L720.8,739.4 L722.8,743.4 L724.8,747.0 L726.8,750.3 L728.8,753.3 L730.8,756.0 L732.8,758.5 L734.8,760.7 L736.8,762.8 L738.8,764.5 L740.8,766.1 L742.8,767.5 L744.8,768.7 L746.8,769.8 L748.8,770.7 L750.8,771.4 L752.8,772.0 L754.8,772.4 L756.8,772.7 L758.8,772.8 L760.8,772.8 L762.8,772.6 L764.8,772.2 L766.8,771.7 L768.8,771.0 L770.8,770.1 L772.8,769.0 L774.8,767.6 L776.8,766.0 L778.8,764.2 L780.8,762.0 L782.8,759.6 L784.8,756.8 L786.8,753.6 L788.8,750.1 L790.8,746.2 L792.8,741.9 L794.8,737.2 L796.8,732.0 L798.8,726.4 L800.8,720.3 L802.8,713.7 L804.8,706.6 L806.8,699.1 L808.8,691.2 L810.8,682.8 L812.8,674.0 L814.8,664.8 L816.8,655.3 L818.8,645.4 L820.8,635.3 L822.8,625.0 L824.8,614.6 L826.8,604.1 L828.8,593.6 L830.8,583.3 L832.8,573.1 L834.8,563.2 L836.8,553.7 L838.8,544.7 L840.8,536.3 L842.8,528.6 L844.8,521.7 L846.8,515.8 L848.8,510.8 L850.8,506.9 L852.8,504.2 L854.8,502.6 L856.8,502.3 L858.8,503.2 L860.8,505.4 L862.8,508.7 L864.8,513.2 L866.8,518.7 L868.8,525.3 L870.8,532.7 L872.8,541.0 L874.8,550.0 L876.8,559.7 L878.8,569.8 L880.8,580.4 L882.8,591.3 L884.8,602.4 L886.8,613.6 L888.8,624.9 L890.8,636.1 L892.8,647.3 L894.8,658.2 L896.8,669.0 L898.8,679.4 L900.8,689.6 L902.8,699.3 L904.8,708.7 L906.8,717.6 L908.8,726.1 L910.8,734.2 L912.8,741.8 L914.8,748.9 L916.8,755.5 L918.8,761.7 L920.8,767.4 L922.8,772.7 L924.8,777.6 L926.8,782.0 L928.8,786.1 L930.8,789.9 L932.8,793.2 L934.8,796.3 L936.8,799.1 L938.8,801.5 L940.8,803.8 L942.8,805.8 L944.8,807.6 L946.8,809.2 L948.8,810.6 L950.8,811.9 L952.8,813.1 L954.8,814.1 L956.8,815.0 L958.8,815.8 L960.8,816.5 L962.8,817.2 L964.8,817.8 L966.8,818.3 L968.8,818.8 L970.8,819.2 L972.8,819.6 L974.8,820.0 L976.8,820.3 L978.8,820.6 L980.8,820.9 L982.8,821.1 L984.8,821.4 L986.8,821.6 L988.8,821.8 L990.8,822.0 L992.8,822.2 L994.8,822.4 L996.8,822.6 L998.8,822.8 L1000.8,822.9 L1002.8,823.1 L1004.8,823.2 L1006.8,823.4 L1008.8,823.5 L1010.8,823.7 L1012.8,823.8 L1014.8,823.9 L1016.8,824.0 L1018.8,824.2 L1020.8,824.3 L1022.8,824.4 L1024.8,824.5 L1026.8,824.6 L1028.8,824.7 L1030.8,824.8 L1032.8,824.9 L1034.8,825.0 L1036.8,825.1 L1038.8,825.2 L1040.8,825.3 L1042.8,825.4 L1044.8,825.5 L1046.8,825.6 L1048.8,825.6 L1050.8,825.7 L1052.8,825.7 L1054.8,825.8 L1056.8,825.8 L1058.8,825.8 L1060.8,825.9 L1062.8,825.9 L1064.8,825.9 L1066.8,825.9 L1068.8,826.0 L1070.8,826.0 L1072.8,826.0 L1074.8,826.0 L1076.8,826.0 L1078.8,826.0 L1080.8,826.1 L1082.8,826.1 L1084.8,826.1 L1086.8,826.1 L1088.8,826.1 L1090.8,826.1 L1092.8,826.1 L1094.8,826.1 L1096.8,826.2 L1098.8,826.2 L1100.8,826.2 L1102.8,826.2 L1104.8,826.2 L1106.8,826.2 L1108.8,826.2 L1110.8,826.2 L1112.8,826.2 L1114.8,826.2 L1116.8,826.2 L1118.8,826.2 L1120.8,826.2 L1122.8,826.2 L1124.8,826.2 L1126.8,826.2 L1128.8,826.2 L1130.8,826.2 L1132.8,826.2 L1134.8,826.2 L1136.8,826.2 L1138.8,826.2 L1140.8,826.2 L1142.8,826.2 L1144.8,826.2 L1146.8,826.2 L1148.8,826.1 L1150.8,826.1 L1152.8,826.1 L1154.8,826.1 L1156.8,826.1 L1158.8,826.1 L1160.8,826.1 L1162.8,826.1 L1164.8,826.1 L1166.8,826.1 L1168.8,826.1 L1170.8,826.1 L1172.8,826.0 L1174.8,826.0 L1176.8,826.0 L1178.8,826.0 L1180.8,826.0 L1182.8,826.0 L1184.8,826.0 L1186.8,826.0 L1188.8,826.0 L1190.8,825.9 L1192.8,825.9 L1194.8,825.9 L1196.8,825.9 L1198.8,825.9 L1200.8,825.9 L1202.8,825.9 L1204.8,825.8 L1206.8,825.8 L1208.8,825.8 L1210.8,825.8 L1212.8,825.8 L1214.8,825.8 L1216.8,825.8 L1218.8,825.7 L1220.8,825.7 L1222.8,825.7 L1224.8,825.7 L1226.8,825.7 L1228.8,825.7 L1230.8,825.6 L1232.8,825.6 L1234.8,825.6 L1236.8,825.6 L1238.8,825.6 L1240.8,825.6 L1242.8,825.5 L1244.8,825.5 L1246.8,825.5 L1248.8,825.5 L1250.8,825.5 L1252.8,825.4 L1254.8,825.4 L1256.8,825.4 L1258.8,825.4 L1260.8,825.4 L1262.8,825.4 L1264.8,825.3 L1266.8,825.3 L1268.8,825.3 L1269.8,825.3" stroke="#42a250" stroke-width="3" fill="none"/>
<path d="M481.8,751.2 L483.8,751.1 L485.8,751.1 L487.8,751.1 L489.8,751.1 L491.8,751.1 L493.8,751.0 L495.8,751.0 L497.8,751.0 L499.8,750.9 L501.8,750.9 L503.8,750.8 L505.8,750.7 L507.8,750.6 L509.8,750.5 L511.8,750.4 L513.8,750.3 L515.8,750.2 L517.8,750.0 L519.8,749.9 L521.8,749.7 L523.8,749.5 L525.8,749.4 L527.8,749.2 L529.8,749.0 L531.8,748.7 L533.8,748.5 L535.8,748.3 L537.8,748.0 L539.8,747.7 L541.8,747.5 L543.8,747.2 L545.8,746.9 L547.8,746.6 L549.8,746.3 L551.8,745.9 L553.8,745.6 L555.8,745.3 L557.8,744.9 L559.8,744.6 L561.8,744.2 L563.8,743.9 L565.8,743.5 L567.8,743.2 L569.8,742.8 L571.8,742.5 L573.8,742.1 L575.8,741.8 L577.8,741.5 L579.8,741.2 L581.8,740.9 L583.8,740.6 L585.8,740.3 L587.8,740.1 L589.8,739.9 L591.8,739.7 L593.8,739.5 L595.8,739.4 L597.8,739.2 L599.8,739.2 L601.8,739.1 L603.8,739.1 L605.8,739.1 L607.8,739.2 L609.8,739.3 L611.8,739.4 L613.8,739.6 L615.8,739.8 L617.8,740.1 L619.8,740.4 L621.8,740.8 L623.8,741.2 L625.8,741.7 L627.8,742.2 L629.8,742.7 L631.8,743.3 L633.8,743.9 L635.8,744.6 L637.8,745.3 L639.8,746.1 L641.8,746.9 L643.8,747.7 L645.8,748.6 L647.8,749.4 L649.8,750.4 L651.8,751.4 L653.8,752.4 L655.8,753.5 L657.8,754.5 L659.8,755.6 L661.8,756.7 L663.8,757.8 L665.8,758.9 L667.8,760.0 L669.8,761.1 L671.8,762.2 L673.8,763.3 L675.8,764.3 L677.8,765.4 L679.8,766.4 L681.8,767.4 L683.8,768.4 L685.8,769.4 L687.8,770.3 L689.8,771.3 L691.8,772.2 L693.8,773.0 L695.8,773.9 L697.8,774.7 L699.8,775.5 L701.8,776.3 L703.8,777.1 L705.8,777.8 L707.8,778.5 L709.8,779.2 L711.8,779.9 L713.8,780.5 L715.8,781.1 L717.8,781.7 L719.8,782.3 L721.8,782.9 L723.8,783.4 L725.8,783.9 L727.8,784.5 L729.8,785.0 L731.8,785.4 L733.8,785.9 L735.8,786.4 L737.8,786.8 L739.8,787.3 L741.8,787.7 L743.8,788.1 L745.8,788.5 L747.8,788.9 L749.8,789.3 L751.8,789.7 L753.8,790.1 L755.8,790.5 L757.8,790.9 L759.8,791.3" stroke="#3a3a3a" stroke-width="1.9" stroke-dasharray="2,2.6" fill="none"/>
<path d="M289.8,750.9 L291.8,750.8 L293.8,750.7 L295.8,750.6 L297.8,750.5 L299.8,750.4 L301.8,750.3 L303.8,750.2 L305.8,750.0 L307.8,749.9 L309.8,749.7 L311.8,749.6 L313.8,749.4 L315.8,749.2 L317.8,749.0 L319.8,748.8 L321.8,748.6 L323.8,748.4 L325.8,748.2 L327.8,747.9 L329.8,747.7 L331.8,747.4 L333.8,747.2 L335.8,746.9 L337.8,746.6 L339.8,746.3 L341.8,745.9 L343.8,745.6 L345.8,745.3 L347.8,744.9 L349.8,744.6 L351.8,744.2 L353.8,743.8 L355.8,743.5 L357.8,743.1 L359.8,742.7 L361.8,742.3 L363.8,741.9 L365.8,741.5 L367.8,741.0 L369.8,740.6 L371.8,740.2 L373.8,739.8 L375.8,739.4 L377.8,739.0 L379.8,738.6 L381.8,738.2 L383.8,737.8 L385.8,737.4 L387.8,737.1 L389.8,736.7 L391.8,736.4 L393.8,736.0 L395.8,735.7 L397.8,735.4 L399.8,735.2 L401.8,734.9 L403.8,734.7 L405.8,734.4 L407.8,734.2 L409.8,734.1 L411.8,733.9 L413.8,733.8 L415.8,733.7 L417.8,733.6 L419.8,733.6 L421.8,733.6 L423.8,733.6 L425.8,733.6 L427.8,733.6 L429.8,733.7 L431.8,733.8 L433.8,734.0 L435.8,734.1 L437.8,734.3 L439.8,734.5 L441.8,734.7 L443.8,735.0 L445.8,735.2 L447.8,735.5 L449.8,735.8 L451.8,736.2 L453.8,736.6 L455.8,737.0 L457.8,737.4 L459.8,737.8 L461.8,738.2 L463.8,738.7 L465.8,739.1 L467.8,739.6 L469.8,740.0 L471.8,740.5 L473.8,740.9 L475.8,741.4 L477.8,741.9 L479.8,742.3 L481.8,742.8 L483.8,743.3 L485.8,743.7 L487.8,744.2 L489.8,744.6 L491.8,745.1 L493.8,745.5 L495.8,745.9 L497.8,746.3 L499.8,746.7 L501.8,747.2 L503.8,747.5 L505.8,747.9 L507.8,748.3 L509.8,748.7 L511.8,749.0 L513.8,749.4 L515.8,749.7 L517.8,750.1 L519.8,750.4 L521.8,750.7 L523.8,751.0 L525.8,751.3 L527.8,751.6 L529.8,751.9 L531.8,752.2 L533.8,752.5 L535.8,752.7 L537.8,753.0 L539.8,753.3 L541.8,753.5 L543.8,753.8 L545.8,754.0 L547.8,754.3 L549.8,754.5 L551.8,754.8 L553.8,755.0 L555.8,755.3" stroke="#3a3a3a" stroke-width="1.9" stroke-dasharray="2,2.6" fill="none"/>
<path d="M380.8,750.1 L382.8,750.1 L384.8,750.1 L386.8,750.1 L388.8,750.0 L390.8,750.0 L392.8,750.0 L394.8,750.0 L396.8,750.0 L398.8,750.0 L400.8,750.0 L402.8,750.0 L404.8,750.0 L406.8,750.0 L408.8,750.0 L410.8,750.0 L412.8,750.0 L414.8,750.0 L416.8,750.0 L418.8,750.0 L420.8,750.0 L422.8,750.0 L424.8,750.0 L426.8,750.0 L428.8,750.0 L430.8,750.0 L432.8,750.0 L434.8,750.0 L436.8,750.0 L438.8,750.0 L440.8,750.0 L442.8,750.0 L444.8,750.0 L446.8,750.0 L448.8,750.0 L450.8,750.0 L452.8,750.0 L454.8,750.1 L456.8,750.1 L458.8,750.2 L460.8,750.2 L462.8,750.3 L464.8,750.3 L466.8,750.3 L468.8,750.4 L470.8,750.4 L472.8,750.5 L474.8,750.5 L476.8,750.6 L478.8,750.6 L480.8,750.7 L482.8,750.7 L484.8,750.8 L486.8,750.8 L488.8,750.9 L490.8,750.9 L492.8,751.0 L494.8,751.1 L496.8,751.1 L498.8,751.2 L500.8,751.2 L502.8,751.3 L504.8,751.4 L506.8,751.4 L508.8,751.5 L510.8,751.6 L512.8,751.7 L514.8,751.7 L516.8,751.8 L518.8,751.9 L520.8,752.0 L522.8,752.1 L524.8,752.2 L526.8,752.3 L528.8,752.4 L530.8,752.5 L532.8,752.6 L534.8,752.7 L536.8,752.8 L538.8,752.9 L540.8,753.0 L542.8,753.1 L544.8,753.3 L546.8,753.4 L548.8,753.5 L550.8,753.7 L552.8,753.8 L554.8,753.9 L556.8,754.1 L558.8,754.2 L560.8,754.4 L562.8,754.5 L564.8,754.7 L566.8,754.8 L568.8,755.0 L570.8,755.2 L572.8,755.3 L574.8,755.5 L576.8,755.6 L578.8,755.8 L580.8,756.0 L582.8,756.1 L584.8,756.3 L586.8,756.5 L588.8,756.7 L590.8,756.8 L592.8,757.0 L594.8,757.2 L596.8,757.4 L598.8,757.6 L600.8,757.7 L602.8,757.9 L604.8,758.1 L606.8,758.3 L608.8,758.5 L610.8,758.6 L612.8,758.8 L614.8,759.0 L616.8,759.2 L618.8,759.4 L620.8,759.6 L622.8,759.7 L624.8,759.9 L626.8,760.1 L628.8,760.2 L630.8,760.4 L632.8,760.5 L634.8,760.7 L636.8,760.8 L638.8,760.9 L640.8,761.0 L642.8,761.0 L644.8,761.1 L646.8,761.1 L648.8,761.1 L650.8,761.1 L652.8,761.1 L654.8,761.1 L656.8,761.0 L658.8,760.9 L660.8,760.7 L662.8,760.5 L664.8,760.2 L666.8,759.8 L668.8,759.4 L670.8,759.0 L672.8,758.4 L674.8,757.8 L676.8,757.1 L678.8,756.4 L680.8,755.5 L682.8,754.6 L684.8,753.6 L686.8,752.5 L688.8,751.4 L690.8,750.1 L692.8,748.8 L694.8,747.4 L696.8,745.9 L698.8,744.4 L700.8,742.7 L702.8,741.0 L704.8,739.2 L706.8,737.4 L708.8,735.4 L710.8,733.5 L712.8,731.4 L714.8,729.4 L716.8,727.2 L718.8,725.1 L720.8,722.9 L722.8,720.6 L724.8,718.4 L726.8,716.2 L728.8,713.9 L730.8,711.7 L732.8,709.4 L734.8,707.2 L736.8,705.1 L738.8,702.9 L740.8,700.9 L742.8,698.8 L744.8,696.9 L746.8,695.1 L748.8,693.3 L750.8,691.7 L752.8,690.2 L754.8,688.8 L756.8,687.5 L758.8,686.4 L760.8,685.4 L762.8,684.7 L764.8,684.1 L766.8,683.6 L768.8,683.4 L770.8,683.3 L772.8,683.5 L774.8,683.8 L776.8,684.4 L778.8,685.1 L780.8,686.0 L782.8,687.1 L784.8,688.4 L786.8,689.9 L788.8,691.5 L790.8,693.3 L792.8,695.2 L794.8,697.3 L796.8,699.5 L798.8,701.8 L800.8,704.3 L802.8,706.8 L804.8,709.5 L806.8,712.2 L808.8,715.0 L810.8,717.8 L812.8,720.7 L814.8,723.7 L816.8,726.7 L818.8,729.7 L820.8,732.7 L822.8,735.8 L824.8,738.8 L826.8,741.9 L828.8,744.9 L830.8,747.9 L832.8,750.9 L834.8,753.9 L836.8,756.8 L838.8,759.8 L840.8,762.6 L842.8,765.4 L844.8,768.2 L846.8,770.9 L848.8,773.6 L850.8,776.2 L852.8,778.6 L854.8,781.0 L856.8,783.4 L858.8,785.6 L860.8,787.8 L862.8,789.9 L864.8,791.9 L866.8,793.9 L868.8,795.7 L870.8,797.5 L872.8,799.3 L874.8,800.9 L876.8,802.4 L878.8,803.9 L880.8,805.3 L882.8,806.7 L884.8,807.9 L886.8,809.1 L888.8,810.3 L890.8,811.3 L892.8,812.3 L894.8,813.2 L896.8,814.1 L898.8,814.9 L900.8,815.7 L902.8,816.4 L904.8,817.1 L906.8,817.7 L908.8,818.3 L910.8,818.8 L912.8,819.3 L914.8,819.7 L916.8,820.2 L918.8,820.6 L920.8,820.9 L922.8,821.3 L924.8,821.6 L926.8,821.9 L928.8,822.2 L930.8,822.4 L932.8,822.6 L934.8,822.9 L936.8,823.1 L938.8,823.3 L940.8,823.4 L942.8,823.6 L944.8,823.8 L946.8,823.9 L948.8,824.1 L950.8,824.2 L952.8,824.3 L954.8,824.4 L956.8,824.6 L958.8,824.7 L960.8,824.8 L962.8,824.9 L964.8,825.0 L966.8,825.1 L968.8,825.2 L970.8,825.2 L972.8,825.3 L974.8,825.4 L976.8,825.5 L978.8,825.6 L980.8,825.6 L982.8,825.7 L984.8,825.8 L986.8,825.8 L988.8,825.9 L990.8,826.0 L992.8,826.0 L994.8,826.1 L996.8,826.2 L998.8,826.2 L1000.8,826.3 L1002.8,826.4 L1004.8,826.4 L1006.8,826.5 L1008.8,826.5 L1010.8,826.6 L1012.8,826.6 L1014.8,826.7 L1016.8,826.7 L1018.8,826.8 L1020.8,826.8 L1022.8,826.9 L1024.8,826.9 L1026.8,827.0 L1028.8,827.0 L1030.8,827.1 L1032.8,827.1 L1034.8,827.2 L1036.8,827.2 L1038.8,827.3 L1040.8,827.3 L1042.8,827.4 L1044.8,827.4 L1046.8,827.5 L1048.8,827.5 L1050.8,827.5 L1052.8,827.5 L1054.8,827.5 L1056.8,827.5 L1058.8,827.5 L1060.8,827.5 L1062.8,827.5 L1064.8,827.5 L1066.8,827.5 L1068.8,827.5 L1070.8,827.5 L1072.8,827.5 L1074.8,827.4 L1076.8,827.4 L1078.8,827.4 L1080.8,827.4 L1082.8,827.4 L1084.8,827.4 L1086.8,827.4 L1088.8,827.4 L1090.8,827.4 L1092.8,827.4 L1094.8,827.3 L1096.8,827.3 L1098.8,827.3 L1100.8,827.3 L1102.8,827.3 L1104.8,827.3 L1106.8,827.3 L1108.8,827.2 L1110.8,827.2 L1112.8,827.2 L1114.8,827.2 L1116.8,827.2 L1118.8,827.2 L1120.8,827.2 L1122.8,827.1 L1124.8,827.1 L1126.8,827.1 L1128.8,827.1 L1130.8,827.1 L1132.8,827.1 L1134.8,827.1 L1136.8,827.0 L1138.8,827.0 L1140.8,827.0 L1142.8,827.0 L1144.8,827.0 L1146.8,826.9 L1148.8,826.9 L1150.8,826.9 L1152.8,826.9 L1154.8,826.9 L1156.8,826.9 L1158.8,826.8 L1160.8,826.8 L1162.8,826.8 L1164.8,826.8 L1166.8,826.8" stroke="#3a3a3a" stroke-width="1.9" stroke-dasharray="2,2.6" fill="none"/>
<path d="M238.8,751.9 L240.8,751.8 L242.8,751.8 L244.8,751.7 L246.8,751.6 L248.8,751.5 L250.8,751.4 L252.8,751.4 L254.8,751.4 L256.8,751.3 L258.8,751.3 L260.8,751.3 L262.8,751.2 L264.8,751.2 L266.8,751.1 L268.8,751.1 L270.8,751.1 L272.8,751.0 L274.8,751.0 L276.8,751.0 L278.8,750.9 L280.8,750.9 L282.8,750.8 L284.8,750.8 L286.8,750.8 L288.8,750.7 L290.8,750.7 L292.8,750.7 L294.8,750.6 L296.8,750.6 L298.8,750.5 L300.8,750.5 L302.8,750.5 L304.8,750.4 L306.8,750.4 L308.8,750.4 L310.8,750.3 L312.8,750.3 L314.8,750.2 L316.8,750.2 L318.8,750.2 L320.8,750.1 L322.8,750.1 L324.8,750.0 L326.8,750.0 L328.8,750.0 L330.8,749.9 L332.8,749.9 L334.8,749.9 L336.8,749.8 L338.8,749.8 L340.8,749.7 L342.8,749.7 L344.8,749.7 L346.8,749.6 L348.8,749.6 L350.8,749.5 L352.8,749.5 L354.8,749.5 L356.8,749.4 L358.8,749.4 L360.8,749.4 L362.8,749.3 L364.8,749.3 L366.8,749.2 L368.8,749.2 L370.8,749.2 L372.8,749.1 L374.8,749.1 L376.8,749.0 L378.8,749.0 L380.8,749.0 L382.8,748.9 L384.8,748.9 L386.8,748.8 L388.8,748.8 L390.8,748.7 L392.8,748.7 L394.8,748.6 L396.8,748.6 L398.8,748.5 L400.8,748.5 L402.8,748.4 L404.8,748.3 L406.8,748.3 L408.8,748.2 L410.8,748.1 L412.8,748.0 L414.8,748.0 L416.8,747.9 L418.8,747.8 L420.8,747.6 L422.8,747.5 L424.8,747.4 L426.8,747.3 L428.8,747.1 L430.8,746.9 L432.8,746.8 L434.8,746.6 L436.8,746.4 L438.8,746.1 L440.8,745.9 L442.8,745.6 L444.8,745.4 L446.8,745.1 L448.8,744.7 L450.8,744.4 L452.8,744.1 L454.8,743.7 L456.8,743.3 L458.8,742.9 L460.8,742.5 L462.8,742.0 L464.8,741.5 L466.8,740.9 L468.8,740.3 L470.8,739.7 L472.8,739.0 L474.8,738.3 L476.8,737.5 L478.8,736.7 L480.8,735.9 L482.8,735.0 L484.8,734.0 L486.8,733.0 L488.8,732.0 L490.8,730.9 L492.8,729.7 L494.8,728.5 L496.8,727.3 L498.8,726.0 L500.8,724.6 L502.8,723.2 L504.8,721.8 L506.8,720.3 L508.8,718.8 L510.8,717.2 L512.8,715.6 L514.8,714.0 L516.8,712.3 L518.8,710.7 L520.8,708.9 L522.8,707.2 L524.8,705.5 L526.8,703.7 L528.8,701.9 L530.8,700.2 L532.8,698.4 L534.8,696.7 L536.8,695.0 L538.8,693.3 L540.8,691.6 L542.8,690.0 L544.8,688.4 L546.8,686.9 L548.8,685.5 L550.8,684.1 L552.8,682.8 L554.8,681.6 L556.8,680.4 L558.8,679.4 L560.8,678.5 L562.8,677.7 L564.8,677.1 L566.8,676.5 L568.8,676.1 L570.8,675.9 L572.8,675.8 L574.8,675.8 L576.8,676.0 L578.8,676.3 L580.8,676.7 L582.8,677.3 L584.8,678.1 L586.8,679.0 L588.8,680.0 L590.8,681.2 L592.8,682.4 L594.8,683.8 L596.8,685.3 L598.8,686.9 L600.8,688.6 L602.8,690.4 L604.8,692.2 L606.8,694.2 L608.8,696.1 L610.8,698.2 L612.8,700.3 L614.8,702.4 L616.8,704.6 L618.8,706.8 L620.8,709.1 L622.8,711.3 L624.8,713.6 L626.8,715.8 L628.8,718.1 L630.8,720.4 L632.8,722.6 L634.8,724.9 L636.8,727.1 L638.8,729.3 L640.8,731.5 L642.8,733.6 L644.8,735.7 L646.8,737.8 L648.8,739.8 L650.8,741.8 L652.8,743.9 L654.8,745.8 L656.8,747.8 L658.8,749.6 L660.8,751.5 L662.8,753.2 L664.8,754.9 L666.8,756.6 L668.8,758.2 L670.8,759.7 L672.8,761.2 L674.8,762.6 L676.8,764.0 L678.8,765.3 L680.8,766.5 L682.8,767.7 L684.8,768.9 L686.8,769.9 L688.8,771.0 L690.8,772.0 L692.8,772.9 L694.8,773.8 L696.8,774.6 L698.8,775.4 L700.8,776.2 L702.8,776.9 L704.8,777.6 L706.8,778.3 L708.8,778.9 L710.8,779.5 L712.8,780.1 L714.8,780.7 L716.8,781.2 L718.8,781.7 L720.8,782.2 L722.8,782.7 L724.8,783.1 L726.8,783.6 L728.8,784.0 L730.8,784.4 L732.8,784.8 L734.8,785.2 L736.8,785.6 L738.8,786.0 L740.8,786.4 L742.8,786.8 L744.8,787.2 L746.8,787.5 L748.8,787.9 L750.8,788.3 L752.8,788.6 L754.8,789.0 L756.8,789.4 L758.8,789.7 L760.8,790.1 L762.8,790.5 L764.8,790.8 L766.8,791.2 L768.8,791.5 L770.8,791.9 L772.8,792.3 L774.8,792.6 L776.8,793.0 L778.8,793.4 L780.8,793.7 L782.8,794.1 L784.8,794.5 L786.8,794.9 L788.8,795.2 L790.8,795.6 L792.8,796.0 L794.8,796.4 L796.8,796.8 L798.8,797.2 L800.8,797.6 L802.8,798.0 L804.8,798.5 L806.8,798.9 L808.8,799.3 L810.8,799.8 L812.8,800.2 L814.8,800.7 L816.8,801.2 L818.8,801.7 L820.8,802.2 L822.8,802.7 L824.8,803.3 L826.8,803.8 L828.8,804.4 L830.8,804.9 L832.8,805.5 L834.8,806.1 L836.8,806.8 L838.8,807.4 L840.8,808.0 L842.8,808.7 L844.8,809.3 L846.8,810.0 L848.8,810.7 L850.8,811.3 L852.8,811.9 L854.8,812.5 L856.8,813.1 L858.8,813.7 L860.8,814.3 L862.8,814.9 L864.8,815.5 L866.8,816.1 L868.8,816.7 L870.8,817.2 L872.8,817.7 L874.8,818.3 L876.8,818.8 L878.8,819.3 L880.8,819.7 L882.8,820.2 L884.8,820.6 L886.8,821.0 L888.8,821.4 L890.8,821.8 L892.8,822.1 L894.8,822.5 L896.8,822.8 L898.8,823.1 L900.8,823.4 L902.8,823.6 L904.8,823.9 L906.8,824.1 L908.8,824.3 L910.8,824.5 L912.8,824.7 L913.8,824.8" stroke="#3a3a3a" stroke-width="1.9" stroke-dasharray="2,2.6" fill="none"/>
<path d="M461.8,750.6 L463.8,750.6 L465.8,750.7 L467.8,750.7 L469.8,750.8 L471.8,750.8 L473.8,750.9 L475.8,750.9 L477.8,751.0 L479.8,751.1 L481.8,751.1 L483.8,751.2 L485.8,751.2 L487.8,751.3 L489.8,751.4 L491.8,751.4 L493.8,751.5 L495.8,751.5 L497.8,751.6 L499.8,751.7 L501.8,751.8 L503.8,751.8 L505.8,751.9 L507.8,752.0 L509.8,752.1 L511.8,752.2 L513.8,752.2 L515.8,752.3 L517.8,752.4 L519.8,752.5 L521.8,752.6 L523.8,752.7 L525.8,752.8 L527.8,752.9 L529.8,753.1 L531.8,753.2 L533.8,753.3 L535.8,753.4 L537.8,753.5 L539.8,753.7 L541.8,753.8 L543.8,753.9 L545.8,754.1 L547.8,754.2 L549.8,754.4 L551.8,754.5 L553.8,754.7 L555.8,754.9 L557.8,755.0 L559.8,755.2 L561.8,755.4 L563.8,755.5 L565.8,755.7 L567.8,755.9 L569.8,756.1 L571.8,756.3 L573.8,756.5 L575.8,756.6 L577.8,756.8 L579.8,757.0 L581.8,757.2 L583.8,757.5 L585.8,757.7 L587.8,757.9 L589.8,758.1 L591.8,758.3 L593.8,758.6 L595.8,758.8 L597.8,759.0 L599.8,759.3 L601.8,759.5 L603.8,759.8 L605.8,760.0 L607.8,760.3 L609.8,760.6 L611.8,760.9 L613.8,761.2 L615.8,761.5 L617.8,761.8 L619.8,762.1 L621.8,762.5 L623.8,762.8 L625.8,763.1 L627.8,763.5 L629.8,763.9 L631.8,764.3 L633.8,764.7 L635.8,765.1 L637.8,765.5 L639.8,765.9 L641.8,766.3 L643.8,766.7 L645.8,767.2 L647.8,767.6 L649.8,768.1 L651.8,768.6 L653.8,769.1 L655.8,769.7 L657.8,770.2 L659.8,770.7 L661.8,771.3 L663.8,771.8 L665.8,772.3 L667.8,772.8 L669.8,773.3 L671.8,773.8 L673.8,774.2 L675.8,774.7 L677.8,775.1 L679.8,775.6 L681.8,776.0 L683.8,776.4 L685.8,776.8 L687.8,777.1 L689.8,777.5 L691.8,777.8 L693.8,778.2 L695.8,778.5 L697.8,778.8 L699.8,779.1 L701.8,779.3 L703.8,779.6 L705.8,779.8 L707.8,780.1 L709.8,780.3 L711.8,780.5 L713.8,780.7 L715.8,780.9 L717.8,781.1 L719.8,781.3 L721.8,781.4 L723.8,781.6 L725.8,781.7 L727.8,781.8 L729.8,781.9 L731.8,782.0 L733.8,782.1 L735.8,782.2 L737.8,782.2 L739.8,782.3 L741.8,782.3 L743.8,782.2 L745.8,782.2 L747.8,782.1 L749.8,782.0 L751.8,781.8 L753.8,781.5 L755.8,781.2 L757.8,780.8 L759.8,780.4 L761.8,779.8 L763.8,779.1 L765.8,778.3 L767.8,777.4 L769.8,776.3 L771.8,775.0 L773.8,773.5 L775.8,771.8 L777.8,769.9 L779.8,767.7 L781.8,765.3 L783.8,762.5 L785.8,759.4 L787.8,755.9 L789.8,752.1 L791.8,747.9 L793.8,743.2 L795.8,738.2 L797.8,732.7 L799.8,726.7 L801.8,720.3 L803.8,713.4 L805.8,706.1 L807.8,698.2 L809.8,690.0 L811.8,681.3 L813.8,672.2 L815.8,662.8 L817.8,653.1 L819.8,643.0 L821.8,632.7 L823.8,622.3 L825.8,611.8 L827.8,601.2 L829.8,590.8 L831.8,580.4 L833.8,570.3 L835.8,560.6 L837.8,551.3 L839.8,542.5 L841.8,534.4 L843.8,527.1 L845.8,520.6 L847.8,515.1 L849.8,510.6 L851.8,507.3 L853.8,505.0 L855.8,504.1 L857.8,504.3 L859.8,505.9 L861.8,508.6 L863.8,512.4 L865.8,517.4 L867.8,523.5 L869.8,530.5 L871.8,538.3 L873.8,547.0 L875.8,556.3 L877.8,566.1 L879.8,576.5 L881.8,587.2 L883.8,598.2 L885.8,609.3 L887.8,620.6 L889.8,631.8 L891.8,643.0 L893.8,654.0 L895.8,664.9 L897.8,675.5 L899.8,685.7 L901.8,695.7 L903.8,705.2 L905.8,714.4 L907.8,723.1 L909.8,731.3 L911.8,739.1 L913.8,746.4 L915.8,753.3 L917.8,759.7 L919.8,765.6 L921.8,771.1 L923.8,776.2 L925.8,780.9 L927.8,785.1 L929.8,789.0 L931.8,792.5 L933.8,795.7 L935.8,798.6 L937.8,801.2 L939.8,803.6 L941.8,805.7 L943.8,807.6 L945.8,809.3 L947.8,810.8 L949.8,812.1 L951.8,813.3 L953.8,814.4 L955.8,815.4 L957.8,816.2 L959.8,817.0 L961.8,817.6 L963.8,818.3 L965.8,818.8 L967.8,819.3 L969.8,819.7 L971.8,820.1 L973.8,820.5 L975.8,820.8 L977.8,821.1 L979.8,821.4 L981.8,821.7 L983.8,821.9 L985.8,822.2 L987.8,822.4 L989.8,822.6 L991.8,822.8 L993.8,823.0 L995.8,823.1 L997.8,823.3 L999.8,823.5 L1001.8,823.6 L1003.8,823.8 L1005.8,823.9 L1007.8,824.0 L1009.8,824.2 L1011.8,824.3 L1013.8,824.4 L1015.8,824.5 L1017.8,824.7 L1019.8,824.8 L1021.8,824.9 L1023.8,825.0 L1025.8,825.1 L1027.8,825.2 L1029.8,825.3 L1031.8,825.4 L1033.8,825.5 L1035.8,825.6 L1037.8,825.7 L1039.8,825.7 L1041.8,825.8 L1043.8,825.9 L1045.8,826.0 L1047.8,826.1 L1049.8,826.2 L1051.8,826.2 L1053.8,826.2 L1055.8,826.2 L1057.8,826.3 L1059.8,826.3 L1061.8,826.3 L1063.8,826.3 L1065.8,826.4 L1067.8,826.4 L1069.8,826.4 L1071.8,826.4 L1073.8,826.4 L1075.8,826.4 L1077.8,826.5 L1079.8,826.5 L1081.8,826.5 L1083.8,826.5 L1085.8,826.5 L1087.8,826.5 L1089.8,826.5 L1091.8,826.5 L1093.8,826.5 L1095.8,826.5 L1097.8,826.5 L1099.8,826.5 L1101.8,826.5 L1103.8,826.5 L1105.8,826.5 L1107.8,826.5 L1109.8,826.5 L1111.8,826.5 L1113.8,826.5 L1115.8,826.5 L1117.8,826.5 L1119.8,826.5 L1121.8,826.5 L1123.8,826.5 L1125.8,826.5 L1127.8,826.5 L1129.8,826.5 L1131.8,826.5 L1133.8,826.5 L1135.8,826.5 L1137.8,826.5 L1139.8,826.5 L1141.8,826.5 L1143.8,826.5 L1145.8,826.5 L1147.8,826.5 L1149.8,826.4 L1151.8,826.4 L1153.8,826.4 L1155.8,826.4 L1157.8,826.4 L1159.8,826.4 L1161.8,826.4 L1163.8,826.4 L1165.8,826.4 L1167.8,826.3 L1169.8,826.3 L1171.8,826.3 L1173.8,826.3 L1175.8,826.3 L1177.8,826.3 L1179.8,826.3 L1181.8,826.3 L1183.8,826.2 L1185.8,826.2 L1187.8,826.2 L1189.8,826.2 L1191.8,826.2 L1193.8,826.2 L1195.8,826.2 L1197.8,826.1 L1199.8,826.1 L1201.8,826.1 L1203.8,826.1 L1205.8,826.1 L1207.8,826.1 L1209.8,826.0 L1211.8,826.0 L1213.8,826.0 L1215.8,826.0 L1217.8,826.0 L1219.8,826.0 L1221.8,825.9 L1223.8,825.9 L1225.8,825.9 L1227.8,825.9 L1229.8,825.9 L1231.8,825.9 L1233.8,825.8 L1235.8,825.8 L1237.8,825.8 L1239.8,825.8 L1241.8,825.8 L1243.8,825.7 L1245.8,825.7 L1247.8,825.7 L1249.8,825.7 L1251.8,825.7 L1253.8,825.6 L1255.8,825.6 L1257.8,825.6 L1259.8,825.6 L1260.8,825.6" stroke="#3a3a3a" stroke-width="1.9" stroke-dasharray="2,2.6" fill="none"/>
<path d="M316.8,750.6 L318.8,750.6 L320.8,750.5 L322.8,750.5 L324.8,750.5 L326.8,750.4 L328.8,750.4 L330.8,750.4 L332.8,750.4 L334.8,750.3 L336.8,750.3 L338.8,750.3 L340.8,750.2 L342.8,750.2 L344.8,750.2 L346.8,750.2 L348.8,750.1 L350.8,750.1 L352.8,750.1 L354.8,750.1 L356.8,750.0 L358.8,750.0 L360.8,750.0 L362.8,750.0 L364.8,749.9 L366.8,749.9 L368.8,749.9 L370.8,749.9 L372.8,749.9 L374.8,749.8 L376.8,749.8 L378.8,749.8 L380.8,749.8 L382.8,749.8 L384.8,749.7 L386.8,749.7 L388.8,749.7 L390.8,749.7 L392.8,749.7 L394.8,749.7 L396.8,749.7 L398.8,749.6 L400.8,749.6 L402.8,749.6 L404.8,749.6 L406.8,749.6 L408.8,749.6 L410.8,749.6 L412.8,749.5 L414.8,749.5 L416.8,749.5 L418.8,749.5 L420.8,749.5 L422.8,749.5 L424.8,749.5 L426.8,749.4 L428.8,749.4 L430.8,749.4 L432.8,749.4 L434.8,749.4 L436.8,749.4 L438.8,749.4 L440.8,749.3 L442.8,749.3 L444.8,749.3 L446.8,749.3 L448.8,749.3 L450.8,749.3 L452.8,749.3 L454.8,749.3 L456.8,749.3 L458.8,749.4 L460.8,749.4 L462.8,749.4 L464.8,749.4 L466.8,749.4 L468.8,749.5 L470.8,749.5 L472.8,749.5 L474.8,749.5 L476.8,749.5 L478.8,749.6 L480.8,749.6 L482.8,749.6 L484.8,749.6 L486.8,749.6 L488.8,749.6 L490.8,749.7 L492.8,749.7 L494.8,749.7 L496.8,749.7 L498.8,749.7 L500.8,749.7 L502.8,749.8 L504.8,749.8 L506.8,749.8 L508.8,749.8 L510.8,749.8 L512.8,749.8 L514.8,749.8 L516.8,749.8 L518.8,749.9 L520.8,749.9 L522.8,749.9 L524.8,749.9 L526.8,749.9 L528.8,749.9 L530.8,749.8 L532.8,749.8 L534.8,749.8 L536.8,749.8 L538.8,749.7 L540.8,749.7 L542.8,749.6 L544.8,749.5 L546.8,749.4 L548.8,749.2 L550.8,749.0 L552.8,748.8 L554.8,748.5 L556.8,748.2 L558.8,747.8 L560.8,747.4 L562.8,746.9 L564.8,746.3 L566.8,745.6 L568.8,744.8 L570.8,743.8 L572.8,742.8 L574.8,741.5 L576.8,740.1 L578.8,738.6 L580.8,736.8 L582.8,734.8 L584.8,732.5 L586.8,730.1 L588.8,727.3 L590.8,724.3 L592.8,720.9 L594.8,717.3 L596.8,713.3 L598.8,709.0 L600.8,704.3 L602.8,699.3 L604.8,694.0 L606.8,688.3 L608.8,682.3 L610.8,676.0 L612.8,669.4 L614.8,662.5 L616.8,655.4 L618.8,648.0 L620.8,640.5 L622.8,632.8 L624.8,625.0 L626.8,617.2 L628.8,609.4 L630.8,601.7 L632.8,594.2 L634.8,586.9 L636.8,579.9 L638.8,573.2 L640.8,567.0 L642.8,561.4 L644.8,556.4 L646.8,552.0 L648.8,548.5 L650.8,545.7 L652.8,543.9 L654.8,543.0 L656.8,543.0 L658.8,544.0 L660.8,545.8 L662.8,548.5 L664.8,552.1 L666.8,556.4 L668.8,561.5 L670.8,567.2 L672.8,573.6 L674.8,580.4 L676.8,587.7 L678.8,595.4 L680.8,603.4 L682.8,611.6 L684.8,619.9 L686.8,628.4 L688.8,636.9 L690.8,645.3 L692.8,653.7 L694.8,661.9 L696.8,670.0 L698.8,677.8 L700.8,685.4 L702.8,692.8 L704.8,699.8 L706.8,706.5 L708.8,712.9 L710.8,719.0 L712.8,724.7 L714.8,730.1 L716.8,735.1 L718.8,739.8 L720.8,744.2 L722.8,748.3 L724.8,752.0 L726.8,755.5 L728.8,758.7 L730.8,761.6 L732.8,764.3 L734.8,766.7 L736.8,769.0 L738.8,771.0 L740.8,772.9 L742.8,774.6 L744.8,776.1 L746.8,777.5 L748.8,778.8 L750.8,780.0 L752.8,781.1 L754.8,782.1 L756.8,783.0 L758.8,783.9 L760.8,784.7 L762.8,785.5 L764.8,786.2 L766.8,786.8 L768.8,787.5 L770.8,788.1 L772.8,788.7 L774.8,789.2 L776.8,789.8 L778.8,790.3 L780.8,790.8 L782.8,791.3 L784.8,791.8 L786.8,792.3 L788.8,792.8 L790.8,793.2 L792.8,793.7 L794.8,794.2 L796.8,794.7 L798.8,795.1 L800.8,795.6 L802.8,796.1 L804.8,796.6 L806.8,797.1 L808.8,797.6 L810.8,798.1 L812.8,798.6 L814.8,799.1 L816.8,799.6 L818.8,800.2 L820.8,800.7 L822.8,801.3 L824.8,801.9 L826.8,802.5 L828.8,803.1 L830.8,803.7 L832.8,804.3 L834.8,804.9 L836.8,805.6 L838.8,806.2 L840.8,806.9 L842.8,807.6 L844.8,808.3 L846.8,809.0 L848.8,809.7 L850.8,810.4 L852.8,811.0 L854.8,811.6 L856.8,812.2 L858.8,812.9 L860.8,813.5 L862.8,814.1 L864.8,814.7 L866.8,815.3 L868.8,815.9 L870.8,816.4 L872.8,817.0 L874.8,817.5 L876.8,818.1 L878.8,818.6 L880.8,819.0 L882.8,819.5 L884.8,820.0 L886.8,820.4 L888.8,820.8 L890.8,821.2 L892.8,821.5 L894.8,821.9 L896.8,822.2 L898.8,822.5 L900.8,822.8 L902.8,823.1 L904.8,823.3 L906.8,823.6 L908.8,823.8 L910.8,824.0 L912.8,824.2 L914.8,824.4 L916.8,824.6 L918.8,824.7 L920.8,824.9 L922.8,825.0 L924.8,825.1 L926.8,825.3 L928.8,825.4 L930.8,825.5 L932.8,825.6 L934.8,825.7 L936.8,825.8 L938.8,825.8 L940.8,825.9 L942.8,826.0 L944.8,826.1 L946.8,826.1 L948.8,826.2 L950.8,826.3 L952.8,826.3 L954.8,826.4 L956.8,826.4 L958.8,826.5 L960.8,826.5 L962.8,826.6 L964.8,826.7 L966.8,826.7 L968.8,826.7 L970.8,826.8 L972.8,826.8 L974.8,826.9 L976.8,826.9 L978.8,827.0 L980.8,827.0 L982.8,827.1 L984.8,827.1 L986.8,827.1 L988.8,827.2 L990.8,827.2 L992.8,827.3 L994.8,827.3 L996.8,827.3 L998.8,827.4 L1000.8,827.4 L1002.8,827.5" stroke="#3a3a3a" stroke-width="1.9" stroke-dasharray="2,2.6" fill="none"/>
<path d="M916.8,825.4 L918.8,825.5 L920.8,825.6 L922.8,825.6 L924.8,825.7 L926.8,825.7 L928.8,825.8 L930.8,825.8 L932.8,825.8 L934.8,825.8 L936.8,825.8 L938.8,825.7 L940.8,825.7 L942.8,825.6 L944.8,825.5 L946.8,825.4 L948.8,825.3 L950.8,825.1 L952.8,825.0 L954.8,824.8 L956.8,824.6 L958.8,824.4 L960.8,824.1 L962.8,823.9 L964.8,823.6 L966.8,823.3 L968.8,823.0 L970.8,822.7 L972.8,822.3 L974.8,821.9 L976.8,821.5 L978.8,821.1 L980.8,820.6 L982.8,820.2 L984.8,819.7 L986.8,819.2 L988.8,818.6 L990.8,818.1 L992.8,817.5 L994.8,817.0 L996.8,816.4 L998.8,815.8 L1000.8,815.2 L1002.8,814.6 L1004.8,814.0 L1006.8,813.5 L1008.8,812.9 L1010.8,812.3 L1012.8,811.7 L1014.8,811.2 L1016.8,810.6 L1018.8,810.1 L1020.8,809.6 L1022.8,809.1 L1024.8,808.6 L1026.8,808.2 L1028.8,807.8 L1030.8,807.5 L1032.8,807.2 L1034.8,806.9 L1036.8,806.7 L1038.8,806.5 L1040.8,806.3 L1042.8,806.2 L1044.8,806.1 L1046.8,806.1 L1048.8,806.2 L1050.8,806.2 L1052.8,806.3 L1054.8,806.3 L1056.8,806.4 L1058.8,806.6 L1060.8,806.7 L1062.8,806.9 L1064.8,807.2 L1066.8,807.4 L1068.8,807.7 L1070.8,808.0 L1072.8,808.3 L1074.8,808.6 L1076.8,809.0 L1078.8,809.3 L1080.8,809.7 L1082.8,810.2 L1084.8,810.6 L1086.8,811.0 L1088.8,811.5 L1090.8,811.9 L1092.8,812.4 L1094.8,812.8 L1096.8,813.3 L1098.8,813.8 L1100.8,814.3 L1102.8,814.8 L1104.8,815.2 L1106.8,815.7 L1108.8,816.2 L1110.8,816.7 L1112.8,817.1 L1114.8,817.6 L1116.8,818.0 L1118.8,818.5 L1120.8,818.9 L1122.8,819.3 L1124.8,819.7 L1126.8,820.1 L1128.8,820.5 L1130.8,820.9 L1132.8,821.3 L1134.8,821.6 L1136.8,821.9 L1138.8,822.3 L1140.8,822.6 L1142.8,822.9 L1144.8,823.1 L1146.8,823.4 L1148.8,823.7 L1150.8,823.9 L1152.8,824.1 L1154.8,824.3 L1156.8,824.5 L1158.8,824.7 L1160.8,824.9 L1162.8,825.1 L1164.8,825.2 L1166.8,825.4 L1168.8,825.5 L1170.8,825.6 L1172.8,825.7 L1174.8,825.8 L1176.8,825.9 L1178.8,826.0 L1180.8,826.1 L1182.8,826.2 L1184.8,826.2 L1186.8,826.3 L1188.8,826.3 L1190.8,826.4 L1192.8,826.4 L1194.8,826.5 L1196.8,826.5 L1198.8,826.5 L1200.8,826.5 L1202.8,826.5 L1204.8,826.6 L1206.8,826.6 L1208.8,826.6 L1209.8,826.6" stroke="#666" stroke-width="1.8" stroke-dasharray="7,4" fill="none"/>
<g fill="#d82229"><circle cx="66.0" cy="758.4" r="2.8"/><circle cx="68.0" cy="759.0" r="2.8"/><circle cx="70.0" cy="754.8" r="2.8"/><circle cx="72.0" cy="762.2" r="2.8"/><circle cx="74.0" cy="755.3" r="2.8"/><circle cx="76.0" cy="757.1" r="2.8"/><circle cx="78.0" cy="759.7" r="2.8"/><circle cx="80.0" cy="756.1" r="2.8"/><circle cx="82.0" cy="756.4" r="2.8"/><circle cx="84.0" cy="756.6" r="2.8"/><circle cx="86.0" cy="759.4" r="2.8"/><circle cx="88.0" cy="762.8" r="2.8"/><circle cx="90.0" cy="758.2" r="2.8"/><circle cx="92.0" cy="755.8" r="2.8"/><circle cx="94.0" cy="759.0" r="2.8"/><circle cx="96.0" cy="756.6" r="2.8"/><circle cx="98.0" cy="757.7" r="2.8"/><circle cx="100.0" cy="759.9" r="2.8"/><circle cx="102.0" cy="756.0" r="2.8"/><circle cx="104.0" cy="757.4" r="2.8"/><circle cx="106.0" cy="755.6" r="2.8"/><circle cx="108.0" cy="756.9" r="2.8"/><circle cx="110.0" cy="757.6" r="2.8"/><circle cx="112.0" cy="755.0" r="2.8"/><circle cx="114.0" cy="756.2" r="2.8"/><circle cx="116.0" cy="756.3" r="2.8"/><circle cx="118.0" cy="755.4" r="2.8"/><circle cx="120.0" cy="754.2" r="2.8"/><circle cx="122.0" cy="753.7" r="2.8"/><circle cx="124.0" cy="756.1" r="2.8"/><circle cx="126.0" cy="755.8" r="2.8"/><circle cx="128.0" cy="760.7" r="2.8"/><circle cx="130.0" cy="751.3" r="2.8"/><circle cx="132.0" cy="756.3" r="2.8"/><circle cx="134.0" cy="756.7" r="2.8"/><circle cx="136.0" cy="758.6" r="2.8"/><circle cx="138.0" cy="756.7" r="2.8"/><circle cx="140.0" cy="754.0" r="2.8"/><circle cx="142.0" cy="755.5" r="2.8"/><circle cx="144.0" cy="756.5" r="2.8"/><circle cx="146.0" cy="754.7" r="2.8"/><circle cx="148.0" cy="756.8" r="2.8"/><circle cx="150.0" cy="751.4" r="2.8"/><circle cx="152.0" cy="758.5" r="2.8"/><circle cx="154.0" cy="757.9" r="2.8"/><circle cx="156.0" cy="754.2" r="2.8"/><circle cx="158.0" cy="756.0" r="2.8"/><circle cx="160.0" cy="754.7" r="2.8"/><circle cx="162.0" cy="752.9" r="2.8"/><circle cx="164.0" cy="754.6" r="2.8"/><circle cx="166.0" cy="756.4" r="2.8"/><circle cx="168.0" cy="753.5" r="2.8"/><circle cx="170.0" cy="753.4" r="2.8"/><circle cx="172.0" cy="753.9" r="2.8"/><circle cx="174.0" cy="754.8" r="2.8"/><circle cx="176.0" cy="756.4" r="2.8"/><circle cx="178.0" cy="752.5" r="2.8"/><circle cx="180.0" cy="754.7" r="2.8"/><circle cx="182.0" cy="754.0" r="2.8"/><circle cx="184.0" cy="749.7" r="2.8"/><circle cx="186.0" cy="752.5" r="2.8"/><circle cx="188.0" cy="753.0" r="2.8"/><circle cx="190.0" cy="753.1" r="2.8"/><circle cx="192.0" cy="753.7" r="2.8"/><circle cx="194.0" cy="748.9" r="2.8"/><circle cx="196.0" cy="752.9" r="2.8"/><circle cx="198.0" cy="751.4" r="2.8"/><circle cx="200.0" cy="749.8" r="2.8"/><circle cx="202.0" cy="753.6" r="2.8"/><circle cx="204.0" cy="753.9" r="2.8"/><circle cx="206.0" cy="751.0" r="2.8"/><circle cx="208.0" cy="753.8" r="2.8"/><circle cx="210.0" cy="751.2" r="2.8"/><circle cx="212.0" cy="752.0" r="2.8"/><circle cx="214.0" cy="749.6" r="2.8"/><circle cx="216.0" cy="754.8" r="2.8"/><circle cx="218.0" cy="746.2" r="2.8"/><circle cx="220.0" cy="751.2" r="2.8"/><circle cx="222.0" cy="752.6" r="2.8"/><circle cx="224.0" cy="747.0" r="2.8"/><circle cx="226.0" cy="750.6" r="2.8"/><circle cx="228.0" cy="750.7" r="2.8"/><circle cx="230.0" cy="752.4" r="2.8"/><circle cx="232.0" cy="753.1" r="2.8"/><circle cx="234.0" cy="749.6" r="2.8"/><circle cx="236.0" cy="747.5" r="2.8"/><circle cx="238.0" cy="752.9" r="2.8"/><circle cx="240.0" cy="752.5" r="2.8"/><circle cx="242.0" cy="749.0" r="2.8"/><circle cx="244.0" cy="750.5" r="2.8"/><circle cx="246.0" cy="750.4" r="2.8"/><circle cx="248.0" cy="750.6" r="2.8"/><circle cx="250.0" cy="749.8" r="2.8"/><circle cx="252.0" cy="752.1" r="2.8"/><circle cx="254.0" cy="745.7" r="2.8"/><circle cx="256.0" cy="751.2" r="2.8"/><circle cx="258.0" cy="749.8" r="2.8"/><circle cx="260.0" cy="748.5" r="2.8"/><circle cx="262.0" cy="751.1" r="2.8"/><circle cx="264.0" cy="744.0" r="2.8"/><circle cx="266.0" cy="750.9" r="2.8"/><circle cx="268.0" cy="749.2" r="2.8"/><circle cx="270.0" cy="746.1" r="2.8"/><circle cx="272.0" cy="749.1" r="2.8"/><circle cx="274.0" cy="747.5" r="2.8"/><circle cx="276.0" cy="753.2" r="2.8"/><circle cx="278.0" cy="751.6" r="2.8"/><circle cx="280.0" cy="748.7" r="2.8"/><circle cx="282.0" cy="746.2" r="2.8"/><circle cx="284.0" cy="746.3" r="2.8"/><circle cx="286.0" cy="746.7" r="2.8"/><circle cx="288.0" cy="746.1" r="2.8"/><circle cx="290.0" cy="745.3" r="2.8"/><circle cx="292.0" cy="745.7" r="2.8"/><circle cx="294.0" cy="746.2" r="2.8"/><circle cx="296.0" cy="745.6" r="2.8"/><circle cx="298.0" cy="745.0" r="2.8"/><circle cx="300.0" cy="744.4" r="2.8"/><circle cx="302.0" cy="751.2" r="2.8"/><circle cx="304.0" cy="743.0" r="2.8"/><circle cx="306.0" cy="743.7" r="2.8"/><circle cx="308.0" cy="746.4" r="2.8"/><circle cx="310.0" cy="744.7" r="2.8"/><circle cx="312.0" cy="746.0" r="2.8"/><circle cx="314.0" cy="746.5" r="2.8"/><circle cx="316.0" cy="747.2" r="2.8"/><circle cx="318.0" cy="745.9" r="2.8"/><circle cx="320.0" cy="742.2" r="2.8"/><circle cx="322.0" cy="746.2" r="2.8"/><circle cx="324.0" cy="740.1" r="2.8"/><circle cx="326.0" cy="743.2" r="2.8"/><circle cx="328.0" cy="742.1" r="2.8"/><circle cx="330.0" cy="740.7" r="2.8"/><circle cx="332.0" cy="743.7" r="2.8"/><circle cx="334.0" cy="741.8" r="2.8"/><circle cx="336.0" cy="743.8" r="2.8"/><circle cx="338.0" cy="738.5" r="2.8"/><circle cx="340.0" cy="742.8" r="2.8"/><circle cx="342.0" cy="741.7" r="2.8"/><circle cx="344.0" cy="740.6" r="2.8"/><circle cx="346.0" cy="737.1" r="2.8"/><circle cx="348.0" cy="739.0" r="2.8"/><circle cx="350.0" cy="736.0" r="2.8"/><circle cx="352.0" cy="734.5" r="2.8"/><circle cx="354.0" cy="744.8" r="2.8"/><circle cx="356.0" cy="739.8" r="2.8"/><circle cx="358.0" cy="740.9" r="2.8"/><circle cx="360.0" cy="736.0" r="2.8"/><circle cx="362.0" cy="737.8" r="2.8"/><circle cx="364.0" cy="737.4" r="2.8"/><circle cx="366.0" cy="736.7" r="2.8"/><circle cx="368.0" cy="735.0" r="2.8"/><circle cx="370.0" cy="734.1" r="2.8"/><circle cx="372.0" cy="729.9" r="2.8"/><circle cx="374.0" cy="734.8" r="2.8"/><circle cx="376.0" cy="733.9" r="2.8"/><circle cx="378.0" cy="734.8" r="2.8"/><circle cx="380.0" cy="731.6" r="2.8"/><circle cx="382.0" cy="735.1" r="2.8"/><circle cx="384.0" cy="730.3" r="2.8"/><circle cx="386.0" cy="728.2" r="2.8"/><circle cx="388.0" cy="732.1" r="2.8"/><circle cx="390.0" cy="728.9" r="2.8"/><circle cx="392.0" cy="726.9" r="2.8"/><circle cx="394.0" cy="729.2" r="2.8"/><circle cx="396.0" cy="730.1" r="2.8"/><circle cx="398.0" cy="728.6" r="2.8"/><circle cx="400.0" cy="728.8" r="2.8"/><circle cx="402.0" cy="735.6" r="2.8"/><circle cx="404.0" cy="728.7" r="2.8"/><circle cx="406.0" cy="729.8" r="2.8"/><circle cx="408.0" cy="722.4" r="2.8"/><circle cx="410.0" cy="726.8" r="2.8"/><circle cx="412.0" cy="727.3" r="2.8"/><circle cx="414.0" cy="724.8" r="2.8"/><circle cx="416.0" cy="723.5" r="2.8"/><circle cx="418.0" cy="725.8" r="2.8"/><circle cx="420.0" cy="724.2" r="2.8"/><circle cx="422.0" cy="723.4" r="2.8"/><circle cx="424.0" cy="726.7" r="2.8"/><circle cx="426.0" cy="726.9" r="2.8"/><circle cx="428.0" cy="724.7" r="2.8"/><circle cx="430.0" cy="723.0" r="2.8"/><circle cx="432.0" cy="724.8" r="2.8"/><circle cx="434.0" cy="725.3" r="2.8"/><circle cx="436.0" cy="724.8" r="2.8"/><circle cx="438.0" cy="720.5" r="2.8"/><circle cx="440.0" cy="722.6" r="2.8"/><circle cx="442.0" cy="723.9" r="2.8"/><circle cx="444.0" cy="724.3" r="2.8"/><circle cx="446.0" cy="724.9" r="2.8"/><circle cx="448.0" cy="724.3" r="2.8"/><circle cx="450.0" cy="720.4" r="2.8"/><circle cx="452.0" cy="721.2" r="2.8"/><circle cx="454.0" cy="720.0" r="2.8"/><circle cx="456.0" cy="726.0" r="2.8"/><circle cx="458.0" cy="722.6" r="2.8"/><circle cx="460.0" cy="723.1" r="2.8"/><circle cx="462.0" cy="723.9" r="2.8"/><circle cx="464.0" cy="721.0" r="2.8"/><circle cx="466.0" cy="719.0" r="2.8"/><circle cx="468.0" cy="720.2" r="2.8"/><circle cx="470.0" cy="720.4" r="2.8"/><circle cx="472.0" cy="723.3" r="2.8"/><circle cx="474.0" cy="721.6" r="2.8"/><circle cx="476.0" cy="717.2" r="2.8"/><circle cx="478.0" cy="720.2" r="2.8"/><circle cx="480.0" cy="719.7" r="2.8"/><circle cx="482.0" cy="715.4" r="2.8"/><circle cx="484.0" cy="716.6" r="2.8"/><circle cx="486.0" cy="712.4" r="2.8"/><circle cx="488.0" cy="715.9" r="2.8"/><circle cx="490.0" cy="713.7" r="2.8"/><circle cx="492.0" cy="710.6" r="2.8"/><circle cx="494.0" cy="710.9" r="2.8"/><circle cx="496.0" cy="711.7" r="2.8"/><circle cx="498.0" cy="708.9" r="2.8"/><circle cx="500.0" cy="709.3" r="2.8"/><circle cx="502.0" cy="708.5" r="2.8"/><circle cx="504.0" cy="704.3" r="2.8"/><circle cx="506.0" cy="703.9" r="2.8"/><circle cx="508.0" cy="707.3" r="2.8"/><circle cx="510.0" cy="701.6" r="2.8"/><circle cx="512.0" cy="698.0" r="2.8"/><circle cx="514.0" cy="698.1" r="2.8"/><circle cx="516.0" cy="693.5" r="2.8"/><circle cx="518.0" cy="696.6" r="2.8"/><circle cx="520.0" cy="693.2" r="2.8"/><circle cx="522.0" cy="692.5" r="2.8"/><circle cx="524.0" cy="689.9" r="2.8"/><circle cx="526.0" cy="686.7" r="2.8"/><circle cx="528.0" cy="685.5" r="2.8"/><circle cx="530.0" cy="681.6" r="2.8"/><circle cx="532.0" cy="677.6" r="2.8"/><circle cx="534.0" cy="674.4" r="2.8"/><circle cx="536.0" cy="673.2" r="2.8"/><circle cx="538.0" cy="666.6" r="2.8"/><circle cx="540.0" cy="672.8" r="2.8"/><circle cx="542.0" cy="663.4" r="2.8"/><circle cx="544.0" cy="664.4" r="2.8"/><circle cx="546.0" cy="659.6" r="2.8"/><circle cx="548.0" cy="655.9" r="2.8"/><circle cx="550.0" cy="657.5" r="2.8"/><circle cx="552.0" cy="654.8" r="2.8"/><circle cx="554.0" cy="652.9" r="2.8"/><circle cx="556.0" cy="652.2" r="2.8"/><circle cx="558.0" cy="647.7" r="2.8"/><circle cx="560.0" cy="647.6" r="2.8"/><circle cx="562.0" cy="646.0" r="2.8"/><circle cx="564.0" cy="642.4" r="2.8"/><circle cx="566.0" cy="640.7" r="2.8"/><circle cx="568.0" cy="640.4" r="2.8"/><circle cx="570.0" cy="637.6" r="2.8"/><circle cx="572.0" cy="635.8" r="2.8"/><circle cx="574.0" cy="628.8" r="2.8"/><circle cx="576.0" cy="631.6" r="2.8"/><circle cx="578.0" cy="630.1" r="2.8"/><circle cx="580.0" cy="626.8" r="2.8"/><circle cx="582.0" cy="625.4" r="2.8"/><circle cx="584.0" cy="626.0" r="2.8"/><circle cx="586.0" cy="619.7" r="2.8"/><circle cx="588.0" cy="618.1" r="2.8"/><circle cx="590.0" cy="612.0" r="2.8"/><circle cx="592.0" cy="609.2" r="2.8"/><circle cx="594.0" cy="606.9" r="2.8"/><circle cx="596.0" cy="602.6" r="2.8"/><circle cx="598.0" cy="601.3" r="2.8"/><circle cx="600.0" cy="595.8" r="2.8"/><circle cx="602.0" cy="593.5" r="2.8"/><circle cx="604.0" cy="586.9" r="2.8"/><circle cx="606.0" cy="582.2" r="2.8"/><circle cx="608.0" cy="579.7" r="2.8"/><circle cx="610.0" cy="574.3" r="2.8"/><circle cx="612.0" cy="570.4" r="2.8"/><circle cx="614.0" cy="565.5" r="2.8"/><circle cx="616.0" cy="561.2" r="2.8"/><circle cx="618.0" cy="559.3" r="2.8"/><circle cx="620.0" cy="555.2" r="2.8"/><circle cx="622.0" cy="549.1" r="2.8"/><circle cx="624.0" cy="542.1" r="2.8"/><circle cx="626.0" cy="540.9" r="2.8"/><circle cx="628.0" cy="530.0" r="2.8"/><circle cx="630.0" cy="524.2" r="2.8"/><circle cx="632.0" cy="523.5" r="2.8"/><circle cx="634.0" cy="517.8" r="2.8"/><circle cx="636.0" cy="512.6" r="2.8"/><circle cx="638.0" cy="508.2" r="2.8"/><circle cx="640.0" cy="500.5" r="2.8"/><circle cx="642.0" cy="497.4" r="2.8"/><circle cx="644.0" cy="498.5" r="2.8"/><circle cx="646.0" cy="494.9" r="2.8"/><circle cx="648.0" cy="488.7" r="2.8"/><circle cx="650.0" cy="491.9" r="2.8"/><circle cx="652.0" cy="484.2" r="2.8"/><circle cx="654.0" cy="484.4" r="2.8"/><circle cx="656.0" cy="486.0" r="2.8"/><circle cx="658.0" cy="483.7" r="2.8"/><circle cx="660.0" cy="486.6" r="2.8"/><circle cx="662.0" cy="489.4" r="2.8"/><circle cx="664.0" cy="491.8" r="2.8"/><circle cx="666.0" cy="497.9" r="2.8"/><circle cx="668.0" cy="501.6" r="2.8"/><circle cx="670.0" cy="503.1" r="2.8"/><circle cx="672.0" cy="509.7" r="2.8"/><circle cx="674.0" cy="517.7" r="2.8"/><circle cx="676.0" cy="523.9" r="2.8"/><circle cx="678.0" cy="529.7" r="2.8"/><circle cx="680.0" cy="539.6" r="2.8"/><circle cx="682.0" cy="548.1" r="2.8"/><circle cx="684.0" cy="553.1" r="2.8"/><circle cx="686.0" cy="563.9" r="2.8"/><circle cx="688.0" cy="567.1" r="2.8"/><circle cx="690.0" cy="575.2" r="2.8"/><circle cx="692.0" cy="587.3" r="2.8"/><circle cx="694.0" cy="592.3" r="2.8"/><circle cx="696.0" cy="599.5" r="2.8"/><circle cx="698.0" cy="608.3" r="2.8"/><circle cx="700.0" cy="614.4" r="2.8"/><circle cx="702.0" cy="624.1" r="2.8"/><circle cx="704.0" cy="627.8" r="2.8"/><circle cx="706.0" cy="636.6" r="2.8"/><circle cx="708.0" cy="649.8" r="2.8"/><circle cx="710.0" cy="649.3" r="2.8"/><circle cx="712.0" cy="650.3" r="2.8"/><circle cx="714.0" cy="659.8" r="2.8"/><circle cx="716.0" cy="663.6" r="2.8"/><circle cx="718.0" cy="668.6" r="2.8"/><circle cx="720.0" cy="668.9" r="2.8"/><circle cx="722.0" cy="669.5" r="2.8"/><circle cx="724.0" cy="675.4" r="2.8"/><circle cx="726.0" cy="675.4" r="2.8"/><circle cx="728.0" cy="671.3" r="2.8"/><circle cx="730.0" cy="677.1" r="2.8"/><circle cx="732.0" cy="675.3" r="2.8"/><circle cx="734.0" cy="678.0" r="2.8"/><circle cx="736.0" cy="674.7" r="2.8"/><circle cx="738.0" cy="676.5" r="2.8"/><circle cx="740.0" cy="674.6" r="2.8"/><circle cx="742.0" cy="674.5" r="2.8"/><circle cx="744.0" cy="672.3" r="2.8"/><circle cx="746.0" cy="670.5" r="2.8"/><circle cx="748.0" cy="670.3" r="2.8"/><circle cx="750.0" cy="670.1" r="2.8"/><circle cx="752.0" cy="668.4" r="2.8"/><circle cx="754.0" cy="669.5" r="2.8"/><circle cx="756.0" cy="665.8" r="2.8"/><circle cx="758.0" cy="664.9" r="2.8"/><circle cx="760.0" cy="666.5" r="2.8"/><circle cx="762.0" cy="661.2" r="2.8"/><circle cx="764.0" cy="660.9" r="2.8"/><circle cx="766.0" cy="657.4" r="2.8"/><circle cx="768.0" cy="657.4" r="2.8"/><circle cx="770.0" cy="659.3" r="2.8"/><circle cx="772.0" cy="655.3" r="2.8"/><circle cx="774.0" cy="656.1" r="2.8"/><circle cx="776.0" cy="649.6" r="2.8"/><circle cx="778.0" cy="647.2" r="2.8"/><circle cx="780.0" cy="648.8" r="2.8"/><circle cx="782.0" cy="643.5" r="2.8"/><circle cx="784.0" cy="649.3" r="2.8"/><circle cx="786.0" cy="644.0" r="2.8"/><circle cx="788.0" cy="636.2" r="2.8"/><circle cx="790.0" cy="635.3" r="2.8"/><circle cx="792.0" cy="631.0" r="2.8"/><circle cx="794.0" cy="629.2" r="2.8"/><circle cx="796.0" cy="624.0" r="2.8"/><circle cx="798.0" cy="621.4" r="2.8"/><circle cx="800.0" cy="617.4" r="2.8"/><circle cx="802.0" cy="609.3" r="2.8"/><circle cx="804.0" cy="602.4" r="2.8"/><circle cx="806.0" cy="600.6" r="2.8"/><circle cx="808.0" cy="593.5" r="2.8"/><circle cx="810.0" cy="590.2" r="2.8"/><circle cx="812.0" cy="581.5" r="2.8"/><circle cx="814.0" cy="577.0" r="2.8"/><circle cx="816.0" cy="569.4" r="2.8"/><circle cx="818.0" cy="561.5" r="2.8"/><circle cx="820.0" cy="554.0" r="2.8"/><circle cx="822.0" cy="549.6" r="2.8"/><circle cx="824.0" cy="546.5" r="2.8"/><circle cx="826.0" cy="536.3" r="2.8"/><circle cx="828.0" cy="527.6" r="2.8"/><circle cx="830.0" cy="522.7" r="2.8"/><circle cx="832.0" cy="515.0" r="2.8"/><circle cx="834.0" cy="505.9" r="2.8"/><circle cx="836.0" cy="503.0" r="2.8"/><circle cx="838.0" cy="499.7" r="2.8"/><circle cx="840.0" cy="490.6" r="2.8"/><circle cx="842.0" cy="483.8" r="2.8"/><circle cx="844.0" cy="482.4" r="2.8"/><circle cx="846.0" cy="481.1" r="2.8"/><circle cx="848.0" cy="476.0" r="2.8"/><circle cx="850.0" cy="473.7" r="2.8"/><circle cx="852.0" cy="474.6" r="2.8"/><circle cx="854.0" cy="472.4" r="2.8"/><circle cx="856.0" cy="470.7" r="2.8"/><circle cx="858.0" cy="469.9" r="2.8"/><circle cx="860.0" cy="472.6" r="2.8"/><circle cx="862.0" cy="475.0" r="2.8"/><circle cx="864.0" cy="480.8" r="2.8"/><circle cx="866.0" cy="482.1" r="2.8"/><circle cx="868.0" cy="492.5" r="2.8"/><circle cx="870.0" cy="496.1" r="2.8"/><circle cx="872.0" cy="503.3" r="2.8"/><circle cx="874.0" cy="514.9" r="2.8"/><circle cx="876.0" cy="519.1" r="2.8"/><circle cx="878.0" cy="532.2" r="2.8"/><circle cx="880.0" cy="543.7" r="2.8"/><circle cx="882.0" cy="558.4" r="2.8"/><circle cx="884.0" cy="567.7" r="2.8"/><circle cx="886.0" cy="583.8" r="2.8"/><circle cx="888.0" cy="592.4" r="2.8"/><circle cx="890.0" cy="606.8" r="2.8"/><circle cx="892.0" cy="616.7" r="2.8"/><circle cx="894.0" cy="632.7" r="2.8"/><circle cx="896.0" cy="642.0" r="2.8"/><circle cx="898.0" cy="655.3" r="2.8"/><circle cx="900.0" cy="664.8" r="2.8"/><circle cx="902.0" cy="674.7" r="2.8"/><circle cx="904.0" cy="687.1" r="2.8"/><circle cx="906.0" cy="699.9" r="2.8"/><circle cx="908.0" cy="705.4" r="2.8"/><circle cx="910.0" cy="713.5" r="2.8"/><circle cx="912.0" cy="724.6" r="2.8"/><circle cx="914.0" cy="734.9" r="2.8"/><circle cx="916.0" cy="738.8" r="2.8"/><circle cx="918.0" cy="746.8" r="2.8"/><circle cx="920.0" cy="754.7" r="2.8"/><circle cx="922.0" cy="759.6" r="2.8"/><circle cx="924.0" cy="766.3" r="2.8"/><circle cx="926.0" cy="773.1" r="2.8"/><circle cx="928.0" cy="775.3" r="2.8"/><circle cx="930.0" cy="779.2" r="2.8"/><circle cx="932.0" cy="784.5" r="2.8"/><circle cx="934.0" cy="786.1" r="2.8"/><circle cx="936.0" cy="787.2" r="2.8"/><circle cx="938.0" cy="789.6" r="2.8"/><circle cx="940.0" cy="791.7" r="2.8"/><circle cx="942.0" cy="799.5" r="2.8"/><circle cx="944.0" cy="797.2" r="2.8"/><circle cx="946.0" cy="799.7" r="2.8"/><circle cx="948.0" cy="801.1" r="2.8"/><circle cx="950.0" cy="798.8" r="2.8"/><circle cx="952.0" cy="802.7" r="2.8"/><circle cx="954.0" cy="800.9" r="2.8"/><circle cx="956.0" cy="798.4" r="2.8"/><circle cx="958.0" cy="802.5" r="2.8"/><circle cx="960.0" cy="801.0" r="2.8"/><circle cx="962.0" cy="803.0" r="2.8"/><circle cx="964.0" cy="804.8" r="2.8"/><circle cx="966.0" cy="809.0" r="2.8"/><circle cx="968.0" cy="803.7" r="2.8"/><circle cx="970.0" cy="804.6" r="2.8"/><circle cx="972.0" cy="805.8" r="2.8"/><circle cx="974.0" cy="805.5" r="2.8"/><circle cx="976.0" cy="804.8" r="2.8"/><circle cx="978.0" cy="802.9" r="2.8"/><circle cx="980.0" cy="803.1" r="2.8"/><circle cx="982.0" cy="804.6" r="2.8"/><circle cx="984.0" cy="802.4" r="2.8"/><circle cx="986.0" cy="803.3" r="2.8"/><circle cx="988.0" cy="801.9" r="2.8"/><circle cx="990.0" cy="806.4" r="2.8"/><circle cx="992.0" cy="801.0" r="2.8"/><circle cx="994.0" cy="807.6" r="2.8"/><circle cx="996.0" cy="802.4" r="2.8"/><circle cx="998.0" cy="801.3" r="2.8"/><circle cx="1000.0" cy="800.8" r="2.8"/><circle cx="1002.0" cy="804.5" r="2.8"/><circle cx="1004.0" cy="804.8" r="2.8"/><circle cx="1006.0" cy="800.8" r="2.8"/><circle cx="1008.0" cy="802.9" r="2.8"/><circle cx="1010.0" cy="801.7" r="2.8"/><circle cx="1012.0" cy="801.2" r="2.8"/><circle cx="1014.0" cy="801.8" r="2.8"/><circle cx="1016.0" cy="802.8" r="2.8"/><circle cx="1018.0" cy="797.2" r="2.8"/><circle cx="1020.0" cy="796.4" r="2.8"/><circle cx="1022.0" cy="801.1" r="2.8"/><circle cx="1024.0" cy="800.5" r="2.8"/><circle cx="1026.0" cy="801.9" r="2.8"/><circle cx="1028.0" cy="797.0" r="2.8"/><circle cx="1030.0" cy="798.5" r="2.8"/><circle cx="1032.0" cy="803.5" r="2.8"/><circle cx="1034.0" cy="797.9" r="2.8"/><circle cx="1036.0" cy="801.3" r="2.8"/><circle cx="1038.0" cy="799.1" r="2.8"/><circle cx="1040.0" cy="800.0" r="2.8"/><circle cx="1042.0" cy="798.3" r="2.8"/><circle cx="1044.0" cy="803.7" r="2.8"/><circle cx="1046.0" cy="797.7" r="2.8"/><circle cx="1048.0" cy="799.2" r="2.8"/><circle cx="1050.0" cy="799.9" r="2.8"/><circle cx="1052.0" cy="804.1" r="2.8"/><circle cx="1054.0" cy="802.5" r="2.8"/><circle cx="1056.0" cy="803.5" r="2.8"/><circle cx="1058.0" cy="802.3" r="2.8"/><circle cx="1060.0" cy="803.0" r="2.8"/><circle cx="1062.0" cy="803.7" r="2.8"/><circle cx="1064.0" cy="806.1" r="2.8"/><circle cx="1066.0" cy="803.8" r="2.8"/><circle cx="1068.0" cy="800.7" r="2.8"/><circle cx="1070.0" cy="806.3" r="2.8"/><circle cx="1072.0" cy="804.5" r="2.8"/><circle cx="1074.0" cy="802.5" r="2.8"/><circle cx="1076.0" cy="804.8" r="2.8"/><circle cx="1078.0" cy="803.6" r="2.8"/><circle cx="1080.0" cy="810.2" r="2.8"/><circle cx="1082.0" cy="805.8" r="2.8"/><circle cx="1084.0" cy="802.9" r="2.8"/><circle cx="1086.0" cy="808.0" r="2.8"/><circle cx="1088.0" cy="806.2" r="2.8"/><circle cx="1090.0" cy="811.0" r="2.8"/><circle cx="1092.0" cy="809.2" r="2.8"/><circle cx="1094.0" cy="805.9" r="2.8"/><circle cx="1096.0" cy="808.9" r="2.8"/><circle cx="1098.0" cy="808.3" r="2.8"/><circle cx="1100.0" cy="809.5" r="2.8"/><circle cx="1102.0" cy="810.2" r="2.8"/><circle cx="1104.0" cy="808.0" r="2.8"/><circle cx="1106.0" cy="812.9" r="2.8"/><circle cx="1108.0" cy="811.3" r="2.8"/><circle cx="1110.0" cy="811.8" r="2.8"/><circle cx="1112.0" cy="815.6" r="2.8"/><circle cx="1114.0" cy="818.4" r="2.8"/><circle cx="1116.0" cy="813.8" r="2.8"/><circle cx="1118.0" cy="819.2" r="2.8"/><circle cx="1120.0" cy="811.9" r="2.8"/><circle cx="1122.0" cy="817.6" r="2.8"/><circle cx="1124.0" cy="815.7" r="2.8"/><circle cx="1126.0" cy="817.2" r="2.8"/><circle cx="1128.0" cy="815.8" r="2.8"/><circle cx="1130.0" cy="817.0" r="2.8"/><circle cx="1132.0" cy="817.9" r="2.8"/><circle cx="1134.0" cy="818.3" r="2.8"/><circle cx="1136.0" cy="820.2" r="2.8"/><circle cx="1138.0" cy="824.3" r="2.8"/><circle cx="1140.0" cy="818.8" r="2.8"/><circle cx="1142.0" cy="820.0" r="2.8"/><circle cx="1144.0" cy="817.2" r="2.8"/><circle cx="1146.0" cy="815.9" r="2.8"/><circle cx="1148.0" cy="824.0" r="2.8"/><circle cx="1150.0" cy="818.9" r="2.8"/><circle cx="1152.0" cy="820.3" r="2.8"/><circle cx="1154.0" cy="822.1" r="2.8"/><circle cx="1156.0" cy="824.1" r="2.8"/><circle cx="1158.0" cy="823.1" r="2.8"/><circle cx="1160.0" cy="826.4" r="2.8"/><circle cx="1162.0" cy="822.5" r="2.8"/><circle cx="1164.0" cy="819.4" r="2.8"/><circle cx="1166.0" cy="823.5" r="2.8"/><circle cx="1168.0" cy="823.6" r="2.8"/><circle cx="1170.0" cy="821.9" r="2.8"/><circle cx="1172.0" cy="823.0" r="2.8"/><circle cx="1174.0" cy="822.6" r="2.8"/><circle cx="1176.0" cy="827.4" r="2.8"/><circle cx="1178.0" cy="822.8" r="2.8"/><circle cx="1180.0" cy="821.3" r="2.8"/><circle cx="1182.0" cy="824.8" r="2.8"/><circle cx="1184.0" cy="820.7" r="2.8"/><circle cx="1186.0" cy="825.2" r="2.8"/><circle cx="1188.0" cy="825.3" r="2.8"/><circle cx="1190.0" cy="822.8" r="2.8"/><circle cx="1192.0" cy="823.5" r="2.8"/><circle cx="1194.0" cy="823.4" r="2.8"/><circle cx="1196.0" cy="827.9" r="2.8"/><circle cx="1198.0" cy="825.5" r="2.8"/><circle cx="1200.0" cy="822.3" r="2.8"/><circle cx="1202.0" cy="822.3" r="2.8"/><circle cx="1204.0" cy="824.7" r="2.8"/><circle cx="1206.0" cy="824.8" r="2.8"/><circle cx="1208.0" cy="823.3" r="2.8"/><circle cx="1210.0" cy="825.5" r="2.8"/><circle cx="1212.0" cy="824.5" r="2.8"/><circle cx="1214.0" cy="827.1" r="2.8"/><circle cx="1216.0" cy="825.8" r="2.8"/><circle cx="1218.0" cy="824.8" r="2.8"/><circle cx="1220.0" cy="825.2" r="2.8"/><circle cx="1222.0" cy="823.2" r="2.8"/><circle cx="1224.0" cy="826.7" r="2.8"/><circle cx="1226.0" cy="825.7" r="2.8"/><circle cx="1228.0" cy="824.1" r="2.8"/><circle cx="1230.0" cy="825.2" r="2.8"/><circle cx="1232.0" cy="823.9" r="2.8"/><circle cx="1234.0" cy="829.9" r="2.8"/><circle cx="1236.0" cy="824.0" r="2.8"/><circle cx="1238.0" cy="826.0" r="2.8"/><circle cx="1240.0" cy="825.7" r="2.8"/><circle cx="1242.0" cy="823.3" r="2.8"/><circle cx="1244.0" cy="824.9" r="2.8"/><circle cx="1246.0" cy="824.3" r="2.8"/><circle cx="1248.0" cy="825.4" r="2.8"/><circle cx="1250.0" cy="825.4" r="2.8"/><circle cx="1252.0" cy="826.4" r="2.8"/><circle cx="1254.0" cy="826.4" r="2.8"/><circle cx="1256.0" cy="824.0" r="2.8"/><circle cx="1258.0" cy="823.8" r="2.8"/><circle cx="1260.0" cy="823.6" r="2.8"/><circle cx="1262.0" cy="823.1" r="2.8"/><circle cx="1264.0" cy="821.3" r="2.8"/><circle cx="1266.0" cy="826.0" r="2.8"/><circle cx="1268.0" cy="824.6" r="2.8"/></g>
<path d="M64.8,758.3 L66.8,758.2 L68.8,758.1 L70.8,758.1 L72.8,758.0 L74.8,757.9 L76.8,757.8 L78.8,757.7 L80.8,757.6 L82.8,757.6 L84.8,757.5 L86.8,757.4 L88.8,757.3 L90.8,757.2 L92.8,757.2 L94.8,757.1 L96.8,757.0 L98.8,756.9 L100.8,756.8 L102.8,756.7 L104.8,756.7 L106.8,756.6 L108.8,756.5 L110.8,756.4 L112.8,756.3 L114.8,756.2 L116.8,756.2 L118.8,756.1 L120.8,756.0 L122.8,755.9 L124.8,755.8 L126.8,755.8 L128.8,755.7 L130.8,755.6 L132.8,755.5 L134.8,755.4 L136.8,755.3 L138.8,755.3 L140.8,755.2 L142.8,755.1 L144.8,755.0 L146.8,754.9 L148.8,754.8 L150.8,754.7 L152.8,754.7 L154.8,754.6 L156.8,754.5 L158.8,754.4 L160.8,754.3 L162.8,754.2 L164.8,754.2 L166.8,754.1 L168.8,754.0 L170.8,753.9 L172.8,753.8 L174.8,753.7 L176.8,753.6 L178.8,753.6 L180.8,753.5 L182.8,753.4 L184.8,753.3 L186.8,753.2 L188.8,753.1 L190.8,753.0 L192.8,753.0 L194.8,752.9 L196.8,752.8 L198.8,752.7 L200.8,752.6 L202.8,752.5 L204.8,752.4 L206.8,752.4 L208.8,752.3 L210.8,752.2 L212.8,752.1 L214.8,752.0 L216.8,751.9 L218.8,751.8 L220.8,751.7 L222.8,751.6 L224.8,751.6 L226.8,751.5 L228.8,751.4 L230.8,751.3 L232.8,751.2 L234.8,751.1 L236.8,751.0 L238.8,750.9 L240.8,750.8 L242.8,750.7 L244.8,750.6 L246.8,750.5 L248.8,750.4 L250.8,750.4 L252.8,750.3 L254.8,750.2 L256.8,750.2 L258.8,750.1 L260.8,750.1 L262.8,750.0 L264.8,749.9 L266.8,749.9 L268.8,749.8 L270.8,749.7 L272.8,749.7 L274.8,749.6 L276.8,749.5 L278.8,749.4 L280.8,749.3 L282.8,749.2 L284.8,749.2 L286.8,749.1 L288.8,748.9 L290.8,748.8 L292.8,748.7 L294.8,748.6 L296.8,748.5 L298.8,748.3 L300.8,748.2 L302.8,748.0 L304.8,747.9 L306.8,747.7 L308.8,747.6 L310.8,747.4 L312.8,747.2 L314.8,747.0 L316.8,746.8 L318.8,746.5 L320.8,746.3 L322.8,746.1 L324.8,745.8 L326.8,745.5 L328.8,745.3 L330.8,745.0 L332.8,744.7 L334.8,744.4 L336.8,744.0 L338.8,743.7 L340.8,743.4 L342.8,743.0 L344.8,742.6 L346.8,742.3 L348.8,741.9 L350.8,741.5 L352.8,741.1 L354.8,740.6 L356.8,740.2 L358.8,739.8 L360.8,739.3 L362.8,738.9 L364.8,738.4 L366.8,738.0 L368.8,737.5 L370.8,737.1 L372.8,736.6 L374.8,736.1 L376.8,735.7 L378.8,735.2 L380.8,734.8 L382.8,734.3 L384.8,733.9 L386.8,733.4 L388.8,733.0 L390.8,732.6 L392.8,732.2 L394.8,731.8 L396.8,731.4 L398.8,731.0 L400.8,730.6 L402.8,730.3 L404.8,730.0 L406.8,729.7 L408.8,729.4 L410.8,729.1 L412.8,728.9 L414.8,728.6 L416.8,728.4 L418.8,728.2 L420.8,728.0 L422.8,727.8 L424.8,727.7 L426.8,727.5 L428.8,727.4 L430.8,727.3 L432.8,727.2 L434.8,727.1 L436.8,727.0 L438.8,726.9 L440.8,726.8 L442.8,726.7 L444.8,726.7 L446.8,726.6 L448.8,726.5 L450.8,726.4 L452.8,726.3 L454.8,726.2 L456.8,726.1 L458.8,726.0 L460.8,725.8 L462.8,725.7 L464.8,725.4 L466.8,725.2 L468.8,724.9 L470.8,724.6 L472.8,724.2 L474.8,723.8 L476.8,723.3 L478.8,722.8 L480.8,722.2 L482.8,721.6 L484.8,720.9 L486.8,720.1 L488.8,719.3 L490.8,718.4 L492.8,717.4 L494.8,716.4 L496.8,715.3 L498.8,714.1 L500.8,712.9 L502.8,711.5 L504.8,710.2 L506.8,708.7 L508.8,707.2 L510.8,705.6 L512.8,703.9 L514.8,702.2 L516.8,700.4 L518.8,698.6 L520.8,696.7 L522.8,694.8 L524.8,692.8 L526.8,690.7 L528.8,688.7 L530.8,686.5 L532.8,684.4 L534.8,682.2 L536.8,680.1 L538.8,677.9 L540.8,675.7 L542.8,673.5 L544.8,671.2 L546.8,669.0 L548.8,666.9 L550.8,664.7 L552.8,662.5 L554.8,660.4 L556.8,658.3 L558.8,656.2 L560.8,654.1 L562.8,652.1 L564.8,650.1 L566.8,648.1 L568.8,646.1 L570.8,644.2 L572.8,642.2 L574.8,640.2 L576.8,638.2 L578.8,636.1 L580.8,634.0 L582.8,631.8 L584.8,629.6 L586.8,627.2 L588.8,624.7 L590.8,622.0 L592.8,619.2 L594.8,616.2 L596.8,613.0 L598.8,609.5 L600.8,605.9 L602.8,602.0 L604.8,597.8 L606.8,593.4 L608.8,588.8 L610.8,583.9 L612.8,578.7 L614.8,573.4 L616.8,567.8 L618.8,562.1 L620.8,556.2 L622.8,550.2 L624.8,544.1 L626.8,538.1 L628.8,532.0 L630.8,526.1 L632.8,520.2 L634.8,514.6 L636.8,509.3 L638.8,504.3 L640.8,499.8 L642.8,495.7 L644.8,492.2 L646.8,489.4 L648.8,487.2 L650.8,485.9 L652.8,485.4 L654.8,485.7 L656.8,486.9 L658.8,488.9 L660.8,491.7 L662.8,495.3 L664.8,499.6 L666.8,504.6 L668.8,510.3 L670.8,516.5 L672.8,523.2 L674.8,530.3 L676.8,537.8 L678.8,545.5 L680.8,553.4 L682.8,561.4 L684.8,569.4 L686.8,577.4 L688.8,585.3 L690.8,593.1 L692.8,600.6 L694.8,607.9 L696.8,614.9 L698.8,621.6 L700.8,628.0 L702.8,633.9 L704.8,639.5 L706.8,644.6 L708.8,649.3 L710.8,653.6 L712.8,657.5 L714.8,660.9 L716.8,663.9 L718.8,666.5 L720.8,668.8 L722.8,670.6 L724.8,672.1 L726.8,673.2 L728.8,674.1 L730.8,674.6 L732.8,674.9 L734.8,674.9 L736.8,674.7 L738.8,674.4 L740.8,673.8 L742.8,673.1 L744.8,672.3 L746.8,671.4 L748.8,670.4 L750.8,669.4 L752.8,668.3 L754.8,667.1 L756.8,666.0 L758.8,664.8 L760.8,663.6 L762.8,662.5 L764.8,661.3 L766.8,660.1 L768.8,658.9 L770.8,657.7 L772.8,656.5 L774.8,655.2 L776.8,653.9 L778.8,652.5 L780.8,651.0 L782.8,649.3 L784.8,647.5 L786.8,645.5 L788.8,643.3 L790.8,640.9 L792.8,638.2 L794.8,635.2 L796.8,631.9 L798.8,628.3 L800.8,624.2 L802.8,619.9 L804.8,615.1 L806.8,609.9 L808.8,604.4 L810.8,598.4 L812.8,592.1 L814.8,585.4 L816.8,578.4 L818.8,571.1 L820.8,563.6 L822.8,555.9 L824.8,548.0 L826.8,540.0 L828.8,532.1 L830.8,524.2 L832.8,516.4 L834.8,509.0 L836.8,501.8 L838.8,495.1 L840.8,489.0 L842.8,483.5 L844.8,478.8 L846.8,474.9 L848.8,471.9 L850.8,470.0 L852.8,469.1 L854.8,469.3 L856.8,470.8 L858.8,473.4 L860.8,477.1 L862.8,482.0 L864.8,487.9 L866.8,494.9 L868.8,502.8 L870.8,511.5 L872.8,521.0 L874.8,531.1 L876.8,541.8 L878.8,553.0 L880.8,564.5 L882.8,576.3 L884.8,588.2 L886.8,600.3 L888.8,612.3 L890.8,624.2 L892.8,636.0 L894.8,647.6 L896.8,658.9 L898.8,669.9 L900.8,680.5 L902.8,690.7 L904.8,700.5 L906.8,709.8 L908.8,718.7 L910.8,727.0 L912.8,734.9 L914.8,742.3 L916.8,749.2 L918.8,755.6 L920.8,761.5 L922.8,767.0 L924.8,772.0 L926.8,776.6 L928.8,780.8 L930.8,784.6 L932.8,788.1 L934.8,791.2 L936.8,794.0 L938.8,796.5 L940.8,798.7 L942.8,800.7 L944.8,802.5 L946.8,804.0 L948.8,805.4 L950.8,806.6 L952.8,807.6 L954.8,808.4 L956.8,809.2 L958.8,809.8 L960.8,810.3 L962.8,810.8 L964.8,811.1 L966.8,811.3 L968.8,811.5 L970.8,811.6 L972.8,811.7 L974.8,811.6 L976.8,811.6 L978.8,811.5 L980.8,811.3 L982.8,811.1 L984.8,810.9 L986.8,810.6 L988.8,810.3 L990.8,810.0 L992.8,809.6 L994.8,809.3 L996.8,808.9 L998.8,808.4 L1000.8,808.0 L1002.8,807.6 L1004.8,807.1 L1006.8,806.7 L1008.8,806.2 L1010.8,805.8 L1012.8,805.4 L1014.8,804.9 L1016.8,804.5 L1018.8,804.1 L1020.8,803.7 L1022.8,803.3 L1024.8,803.0 L1026.8,802.7 L1028.8,802.4 L1030.8,802.1 L1032.8,801.9 L1034.8,801.7 L1036.8,801.6 L1038.8,801.5 L1040.8,801.4 L1042.8,801.4 L1044.8,801.4 L1046.8,801.5 L1048.8,801.6 L1050.8,801.7 L1052.8,801.8 L1054.8,802.0 L1056.8,802.2 L1058.8,802.4 L1060.8,802.6 L1062.8,802.9 L1064.8,803.1 L1066.8,803.4 L1068.8,803.8 L1070.8,804.1 L1072.8,804.5 L1074.8,804.9 L1076.8,805.3 L1078.8,805.7 L1080.8,806.2 L1082.8,806.6 L1084.8,807.1 L1086.8,807.6 L1088.8,808.1 L1090.8,808.6 L1092.8,809.1 L1094.8,809.6 L1096.8,810.1 L1098.8,810.7 L1100.8,811.2 L1102.8,811.7 L1104.8,812.2 L1106.8,812.7 L1108.8,813.2 L1110.8,813.8 L1112.8,814.3 L1114.8,814.8 L1116.8,815.2 L1118.8,815.7 L1120.8,816.2 L1122.8,816.6 L1124.8,817.1 L1126.8,817.5 L1128.8,817.9 L1130.8,818.3 L1132.8,818.7 L1134.8,819.1 L1136.8,819.5 L1138.8,819.8 L1140.8,820.2 L1142.8,820.5 L1144.8,820.8 L1146.8,821.1 L1148.8,821.4 L1150.8,821.6 L1152.8,821.9 L1154.8,822.1 L1156.8,822.3 L1158.8,822.5 L1160.8,822.7 L1162.8,822.9 L1164.8,823.1 L1166.8,823.3 L1168.8,823.4 L1170.8,823.6 L1172.8,823.7 L1174.8,823.8 L1176.8,823.9 L1178.8,824.1 L1180.8,824.2 L1182.8,824.2 L1184.8,824.3 L1186.8,824.4 L1188.8,824.5 L1190.8,824.5 L1192.8,824.6 L1194.8,824.6 L1196.8,824.7 L1198.8,824.7 L1200.8,824.8 L1202.8,824.8 L1204.8,824.8 L1206.8,824.9 L1208.8,824.9 L1210.8,824.9 L1212.8,824.9 L1214.8,824.9 L1216.8,824.9 L1218.8,824.9 L1220.8,825.0 L1222.8,825.0 L1224.8,825.0 L1226.8,825.0 L1228.8,825.0 L1230.8,825.0 L1232.8,825.0 L1234.8,824.9 L1236.8,824.9 L1238.8,824.9 L1240.8,824.9 L1242.8,824.9 L1244.8,824.9 L1246.8,824.9 L1248.8,824.9 L1250.8,824.9 L1252.8,824.9 L1254.8,824.9 L1256.8,824.8 L1258.8,824.8 L1260.8,824.8 L1262.8,824.8 L1264.8,824.8 L1266.8,824.8 L1268.8,824.8 L1269.8,824.8" stroke="#dd2630" stroke-width="3" fill="none"/>
<line x1="871" y1="90.3" x2="947" y2="88.4" stroke="#555" stroke-width="1.3"/>
<line x1="785.2" y1="233.8" x2="942" y2="219.2" stroke="#555" stroke-width="1.3"/>
<line x1="479.7" y1="243.75" x2="625" y2="318.75" stroke="#555" stroke-width="1.3"/>
<line x1="864.7" y1="502.8" x2="923.75" y2="503.4" stroke="#555" stroke-width="1.3"/>
<line x1="777.3" y1="684.5" x2="935.3" y2="664" stroke="#555" stroke-width="1.3"/>
<line x1="457.4" y1="695.7" x2="610" y2="737.6" stroke="#555" stroke-width="1.3"/>
<text transform="translate(85.31,58.46) scale(1.0307,1)" font-size="33.85" fill="#2b2b2b">Pt/C</text>
<text transform="translate(1165.17,58.56) scale(1.0402,1)" font-size="33.99" fill="#2b2b2b">Pt 4f</text>
<text transform="translate(647.68,40.75) scale(1.0460,1)" font-size="34.58" fill="#2b2b2b">4f</text>
<text transform="translate(677.62,52.09) scale(0.9450,1)" font-size="20.68" fill="#2b2b2b">5/2</text>
<text transform="translate(845.27,40.75) scale(1.0602,1)" font-size="34.58" fill="#2b2b2b">4f</text>
<text transform="translate(875.01,51.90) scale(0.9685,1)" font-size="20.41" fill="#2b2b2b">7/2</text>
<text class="s" transform="translate(946.01,89.43) scale(0.9726,1)" font-size="37.27" fill="#48a556">Pt</text>
<text class="s" transform="translate(975.50,65.81) scale(1.1200,1)" font-size="24.48" fill="#48a556">0</text>
<text class="s" transform="translate(992.38,89.65) scale(1.0284,1)" font-size="29.78" fill="#48a556">(57%)</text>
<text class="s" transform="translate(945.20,123.61) scale(1.0110,1)" font-size="29.71" fill="#48a556">71.8 eV</text>
<text class="s" transform="translate(942.83,224.75) scale(0.9511,1)" font-size="37.61" fill="#eda645">PtO</text>
<text class="s" transform="translate(1007.08,224.88) scale(0.9954,1)" font-size="30.56" fill="#eda645">(35%)</text>
<text class="s" transform="translate(365.84,229.27) scale(0.9675,1)" font-size="36.42" fill="#424f9f">PtO</text>
<text class="s" transform="translate(420.84,236.90) scale(1.0567,1)" font-size="25.08" fill="#424f9f">2</text>
<text class="s" transform="translate(441.26,228.88) scale(1.0663,1)" font-size="29.17" fill="#424f9f">(8%)</text>
<text transform="translate(85.51,472.34) scale(1.0093,1)" font-size="34.57" fill="#2b2b2b">Pt/C/10%Ni(OH)</text>
<text transform="translate(340.70,483.90) scale(1.0448,1)" font-size="19.14" fill="#2b2b2b">2</text>
<text transform="translate(1165.57,472.26) scale(1.0423,1)" font-size="33.92" fill="#2b2b2b">Pt 4f</text>
<text transform="translate(638.77,479.24) scale(1.0820,1)" font-size="33.89" fill="#2b2b2b">4f</text>
<text transform="translate(668.39,491.00)" font-size="20.14" fill="#2b2b2b">5/2</text>
<text transform="translate(842.56,462.15) scale(1.0511,1)" font-size="35.00" fill="#2b2b2b">4f</text>
<text transform="translate(872.07,473.30) scale(1.0310,1)" font-size="20.00" fill="#2b2b2b">7/2</text>
<text class="s" transform="translate(924.93,507.33) scale(0.9756,1)" font-size="36.52" fill="#48a556">Pt</text>
<text class="s" transform="translate(953.44,483.13) scale(1.1200,1)" font-size="23.73" fill="#48a556">0</text>
<text class="s" transform="translate(971.28,507.45) scale(1.0214,1)" font-size="29.78" fill="#48a556">(61%)</text>
<text class="s" transform="translate(924.51,542.61) scale(1.0066,1)" font-size="29.71" fill="#48a556">71.8 eV</text>
<text class="s" transform="translate(935.62,668.16) scale(0.9755,1)" font-size="37.01" fill="#eda645">PtO</text>
<text class="s" transform="translate(1000.78,668.49) scale(0.9811,1)" font-size="31.00" fill="#eda645">(32%)</text>
<text class="s" transform="translate(319.81,686.47) scale(0.9852,1)" font-size="36.72" fill="#424f9f">PtO</text>
<text class="s" transform="translate(375.44,695.40) scale(1.0503,1)" font-size="25.23" fill="#424f9f">2</text>
<text class="s" transform="translate(395.77,686.66)" font-size="30.67" fill="#424f9f">(7%)</text>
<text transform="translate(1013.88,790.83) scale(1.0108,1)" font-size="29.36" fill="#2b2b2b">Ni(OH)</text>
<text transform="translate(1106.84,801.25) scale(1.1200,1)" font-size="15.36" fill="#2b2b2b">2</text>
<text class="s" transform="translate(51.44,876.32) scale(0.9160,1)" font-size="28.96" fill="#2b2b2b">85</text>
<text class="s" transform="translate(351.26,876.31) scale(0.9735,1)" font-size="29.25" fill="#2b2b2b">80</text>
<text class="s" transform="translate(651.04,876.60) scale(0.9913,1)" font-size="29.70" fill="#2b2b2b">75</text>
<text class="s" transform="translate(952.04,876.31) scale(0.9911,1)" font-size="29.70" fill="#2b2b2b">70</text>
<text class="s" transform="translate(1254.46,876.31) scale(0.9735,1)" font-size="29.25" fill="#2b2b2b">65</text>
<text transform="translate(506.83,912.83) scale(0.9954,1)" font-size="39.84" fill="#2b2b2b">Binding energy (eV)</text>
<text transform="translate(30.80,544.26) rotate(-90) scale(1.0247,1)" font-size="38.63" fill="#2b2b2b">Intensity (A. U.)</text>
</svg>
</body></html>
